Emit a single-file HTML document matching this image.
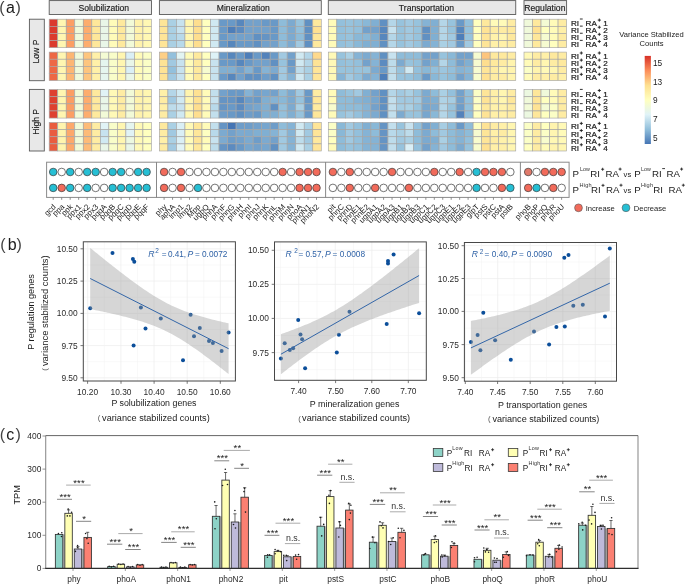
<!DOCTYPE html>
<html><head><meta charset="utf-8"><title>Figure</title>
<style>html,body{margin:0;padding:0;background:#fff;} body{width:685px;height:587px;overflow:hidden;font-family:"Liberation Sans", sans-serif;} svg{display:block;will-change:transform;}</style>
</head><body>
<svg width="685" height="587" viewBox="0 0 685 587" font-family='"Liberation Sans", sans-serif'><text x="-0.80" y="12.80" font-size="16" text-anchor="start" fill="#444" >(</text><text x="6.00" y="12.80" font-size="16" text-anchor="start" fill="#1a1a1a" >a</text><text x="15.40" y="12.80" font-size="16" text-anchor="start" fill="#444" >)</text>
<rect x="49.20" y="0.6" width="102.24" height="13.9" fill="#e8e8e8" stroke="#5a5a5a" stroke-width="0.9"/>
<text x="103.80" y="11.30" font-size="8.6" text-anchor="middle" fill="#1a1a1a" stroke="#1a1a1a" stroke-width="0.15">Solubilization</text>
<rect x="49.20" y="19.20" width="8.52" height="7.12" fill="#db3b2d" stroke="#a5a5a5" stroke-width="0.65"/>
<rect x="49.20" y="26.32" width="8.52" height="7.12" fill="#db3b2d" stroke="#a5a5a5" stroke-width="0.65"/>
<rect x="49.20" y="33.44" width="8.52" height="7.12" fill="#db3b2d" stroke="#a5a5a5" stroke-width="0.65"/>
<rect x="49.20" y="40.56" width="8.52" height="7.12" fill="#db3b2d" stroke="#a5a5a5" stroke-width="0.65"/>
<rect x="57.72" y="19.20" width="8.52" height="7.12" fill="#fff6b1" stroke="#a5a5a5" stroke-width="0.65"/>
<rect x="57.72" y="26.32" width="8.52" height="7.12" fill="#fff6b1" stroke="#a5a5a5" stroke-width="0.65"/>
<rect x="57.72" y="33.44" width="8.52" height="7.12" fill="#fff6b1" stroke="#a5a5a5" stroke-width="0.65"/>
<rect x="57.72" y="40.56" width="8.52" height="7.12" fill="#fff6b1" stroke="#a5a5a5" stroke-width="0.65"/>
<rect x="66.24" y="19.20" width="8.52" height="7.12" fill="#fc9e64" stroke="#a5a5a5" stroke-width="0.65"/>
<rect x="66.24" y="26.32" width="8.52" height="7.12" fill="#fc9e64" stroke="#a5a5a5" stroke-width="0.65"/>
<rect x="66.24" y="33.44" width="8.52" height="7.12" fill="#fc9e64" stroke="#a5a5a5" stroke-width="0.65"/>
<rect x="66.24" y="40.56" width="8.52" height="7.12" fill="#fc9e64" stroke="#a5a5a5" stroke-width="0.65"/>
<rect x="74.76" y="19.20" width="8.52" height="7.12" fill="#f0f9da" stroke="#a5a5a5" stroke-width="0.65"/>
<rect x="74.76" y="26.32" width="8.52" height="7.12" fill="#f0f9da" stroke="#a5a5a5" stroke-width="0.65"/>
<rect x="74.76" y="33.44" width="8.52" height="7.12" fill="#f0f9da" stroke="#a5a5a5" stroke-width="0.65"/>
<rect x="74.76" y="40.56" width="8.52" height="7.12" fill="#f0f9da" stroke="#a5a5a5" stroke-width="0.65"/>
<rect x="83.28" y="19.20" width="8.52" height="7.12" fill="#fdad6e" stroke="#a5a5a5" stroke-width="0.65"/>
<rect x="83.28" y="26.32" width="8.52" height="7.12" fill="#fdad6e" stroke="#a5a5a5" stroke-width="0.65"/>
<rect x="83.28" y="33.44" width="8.52" height="7.12" fill="#fdad6e" stroke="#a5a5a5" stroke-width="0.65"/>
<rect x="83.28" y="40.56" width="8.52" height="7.12" fill="#fdad6e" stroke="#a5a5a5" stroke-width="0.65"/>
<rect x="91.80" y="19.20" width="8.52" height="7.12" fill="#fee79a" stroke="#a5a5a5" stroke-width="0.65"/>
<rect x="91.80" y="26.32" width="8.52" height="7.12" fill="#fee79a" stroke="#a5a5a5" stroke-width="0.65"/>
<rect x="91.80" y="33.44" width="8.52" height="7.12" fill="#fee79a" stroke="#a5a5a5" stroke-width="0.65"/>
<rect x="91.80" y="40.56" width="8.52" height="7.12" fill="#fee79a" stroke="#a5a5a5" stroke-width="0.65"/>
<rect x="100.32" y="19.20" width="8.52" height="7.12" fill="#e9f6e8" stroke="#a5a5a5" stroke-width="0.65"/>
<rect x="100.32" y="26.32" width="8.52" height="7.12" fill="#e9f6e8" stroke="#a5a5a5" stroke-width="0.65"/>
<rect x="100.32" y="33.44" width="8.52" height="7.12" fill="#e9f6e8" stroke="#a5a5a5" stroke-width="0.65"/>
<rect x="100.32" y="40.56" width="8.52" height="7.12" fill="#e9f6e8" stroke="#a5a5a5" stroke-width="0.65"/>
<rect x="108.84" y="19.20" width="8.52" height="7.12" fill="#fffbb9" stroke="#a5a5a5" stroke-width="0.65"/>
<rect x="108.84" y="26.32" width="8.52" height="7.12" fill="#fffbb9" stroke="#a5a5a5" stroke-width="0.65"/>
<rect x="108.84" y="33.44" width="8.52" height="7.12" fill="#fffbb9" stroke="#a5a5a5" stroke-width="0.65"/>
<rect x="108.84" y="40.56" width="8.52" height="7.12" fill="#fffbb9" stroke="#a5a5a5" stroke-width="0.65"/>
<rect x="117.36" y="19.20" width="8.52" height="7.12" fill="#fee99d" stroke="#a5a5a5" stroke-width="0.65"/>
<rect x="117.36" y="26.32" width="8.52" height="7.12" fill="#fee99d" stroke="#a5a5a5" stroke-width="0.65"/>
<rect x="117.36" y="33.44" width="8.52" height="7.12" fill="#fee99d" stroke="#a5a5a5" stroke-width="0.65"/>
<rect x="117.36" y="40.56" width="8.52" height="7.12" fill="#fee99d" stroke="#a5a5a5" stroke-width="0.65"/>
<rect x="125.88" y="19.20" width="8.52" height="7.12" fill="#f2fad7" stroke="#a5a5a5" stroke-width="0.65"/>
<rect x="125.88" y="26.32" width="8.52" height="7.12" fill="#f2fad7" stroke="#a5a5a5" stroke-width="0.65"/>
<rect x="125.88" y="33.44" width="8.52" height="7.12" fill="#f2fad7" stroke="#a5a5a5" stroke-width="0.65"/>
<rect x="125.88" y="40.56" width="8.52" height="7.12" fill="#f2fad7" stroke="#a5a5a5" stroke-width="0.65"/>
<rect x="134.40" y="19.20" width="8.52" height="7.12" fill="#fff2ab" stroke="#a5a5a5" stroke-width="0.65"/>
<rect x="134.40" y="26.32" width="8.52" height="7.12" fill="#fff2ab" stroke="#a5a5a5" stroke-width="0.65"/>
<rect x="134.40" y="33.44" width="8.52" height="7.12" fill="#fff2ab" stroke="#a5a5a5" stroke-width="0.65"/>
<rect x="134.40" y="40.56" width="8.52" height="7.12" fill="#fff2ab" stroke="#a5a5a5" stroke-width="0.65"/>
<rect x="142.92" y="19.20" width="8.52" height="7.12" fill="#fff8b4" stroke="#a5a5a5" stroke-width="0.65"/>
<rect x="142.92" y="26.32" width="8.52" height="7.12" fill="#fff8b4" stroke="#a5a5a5" stroke-width="0.65"/>
<rect x="142.92" y="33.44" width="8.52" height="7.12" fill="#fff8b4" stroke="#a5a5a5" stroke-width="0.65"/>
<rect x="142.92" y="40.56" width="8.52" height="7.12" fill="#fff8b4" stroke="#a5a5a5" stroke-width="0.65"/>
<rect x="49.20" y="52.10" width="8.52" height="7.12" fill="#ed6845" stroke="#a5a5a5" stroke-width="0.65"/>
<rect x="49.20" y="59.22" width="8.52" height="7.12" fill="#ed6845" stroke="#a5a5a5" stroke-width="0.65"/>
<rect x="49.20" y="66.34" width="8.52" height="7.12" fill="#ed6845" stroke="#a5a5a5" stroke-width="0.65"/>
<rect x="49.20" y="73.46" width="8.52" height="7.12" fill="#ed6845" stroke="#a5a5a5" stroke-width="0.65"/>
<rect x="57.72" y="52.10" width="8.52" height="7.12" fill="#fff6b1" stroke="#a5a5a5" stroke-width="0.65"/>
<rect x="57.72" y="59.22" width="8.52" height="7.12" fill="#fff6b1" stroke="#a5a5a5" stroke-width="0.65"/>
<rect x="57.72" y="66.34" width="8.52" height="7.12" fill="#fff6b1" stroke="#a5a5a5" stroke-width="0.65"/>
<rect x="57.72" y="73.46" width="8.52" height="7.12" fill="#fff6b1" stroke="#a5a5a5" stroke-width="0.65"/>
<rect x="66.24" y="52.10" width="8.52" height="7.12" fill="#fdb674" stroke="#a5a5a5" stroke-width="0.65"/>
<rect x="66.24" y="59.22" width="8.52" height="7.12" fill="#fdb674" stroke="#a5a5a5" stroke-width="0.65"/>
<rect x="66.24" y="66.34" width="8.52" height="7.12" fill="#fdb674" stroke="#a5a5a5" stroke-width="0.65"/>
<rect x="66.24" y="73.46" width="8.52" height="7.12" fill="#fdb674" stroke="#a5a5a5" stroke-width="0.65"/>
<rect x="74.76" y="52.10" width="8.52" height="7.12" fill="#f0f9da" stroke="#a5a5a5" stroke-width="0.65"/>
<rect x="74.76" y="59.22" width="8.52" height="7.12" fill="#f0f9da" stroke="#a5a5a5" stroke-width="0.65"/>
<rect x="74.76" y="66.34" width="8.52" height="7.12" fill="#f0f9da" stroke="#a5a5a5" stroke-width="0.65"/>
<rect x="74.76" y="73.46" width="8.52" height="7.12" fill="#f0f9da" stroke="#a5a5a5" stroke-width="0.65"/>
<rect x="83.28" y="52.10" width="8.52" height="7.12" fill="#fdc57e" stroke="#a5a5a5" stroke-width="0.65"/>
<rect x="83.28" y="59.22" width="8.52" height="7.12" fill="#fdc57e" stroke="#a5a5a5" stroke-width="0.65"/>
<rect x="83.28" y="66.34" width="8.52" height="7.12" fill="#fdc57e" stroke="#a5a5a5" stroke-width="0.65"/>
<rect x="83.28" y="73.46" width="8.52" height="7.12" fill="#fdc57e" stroke="#a5a5a5" stroke-width="0.65"/>
<rect x="91.80" y="52.10" width="8.52" height="7.12" fill="#fff0a8" stroke="#a5a5a5" stroke-width="0.65"/>
<rect x="91.80" y="59.22" width="8.52" height="7.12" fill="#fff0a8" stroke="#a5a5a5" stroke-width="0.65"/>
<rect x="91.80" y="66.34" width="8.52" height="7.12" fill="#fff0a8" stroke="#a5a5a5" stroke-width="0.65"/>
<rect x="91.80" y="73.46" width="8.52" height="7.12" fill="#fff0a8" stroke="#a5a5a5" stroke-width="0.65"/>
<rect x="100.32" y="52.10" width="8.52" height="7.12" fill="#f4fbd4" stroke="#a5a5a5" stroke-width="0.65"/>
<rect x="100.32" y="59.22" width="8.52" height="7.12" fill="#e5f5ef" stroke="#a5a5a5" stroke-width="0.65"/>
<rect x="100.32" y="66.34" width="8.52" height="7.12" fill="#e5f5ef" stroke="#a5a5a5" stroke-width="0.65"/>
<rect x="100.32" y="73.46" width="8.52" height="7.12" fill="#e5f5ef" stroke="#a5a5a5" stroke-width="0.65"/>
<rect x="108.84" y="52.10" width="8.52" height="7.12" fill="#f9fdc9" stroke="#a5a5a5" stroke-width="0.65"/>
<rect x="108.84" y="59.22" width="8.52" height="7.12" fill="#f9fdc9" stroke="#a5a5a5" stroke-width="0.65"/>
<rect x="108.84" y="66.34" width="8.52" height="7.12" fill="#f9fdc9" stroke="#a5a5a5" stroke-width="0.65"/>
<rect x="108.84" y="73.46" width="8.52" height="7.12" fill="#f9fdc9" stroke="#a5a5a5" stroke-width="0.65"/>
<rect x="117.36" y="52.10" width="8.52" height="7.12" fill="#fff6b1" stroke="#a5a5a5" stroke-width="0.65"/>
<rect x="117.36" y="59.22" width="8.52" height="7.12" fill="#fff6b1" stroke="#a5a5a5" stroke-width="0.65"/>
<rect x="117.36" y="66.34" width="8.52" height="7.12" fill="#fff6b1" stroke="#a5a5a5" stroke-width="0.65"/>
<rect x="117.36" y="73.46" width="8.52" height="7.12" fill="#fff6b1" stroke="#a5a5a5" stroke-width="0.65"/>
<rect x="125.88" y="52.10" width="8.52" height="7.12" fill="#daeff6" stroke="#a5a5a5" stroke-width="0.65"/>
<rect x="125.88" y="59.22" width="8.52" height="7.12" fill="#e9f6e8" stroke="#a5a5a5" stroke-width="0.65"/>
<rect x="125.88" y="66.34" width="8.52" height="7.12" fill="#daeff6" stroke="#a5a5a5" stroke-width="0.65"/>
<rect x="125.88" y="73.46" width="8.52" height="7.12" fill="#e9f6e8" stroke="#a5a5a5" stroke-width="0.65"/>
<rect x="134.40" y="52.10" width="8.52" height="7.12" fill="#fffbb9" stroke="#a5a5a5" stroke-width="0.65"/>
<rect x="134.40" y="59.22" width="8.52" height="7.12" fill="#fffbb9" stroke="#a5a5a5" stroke-width="0.65"/>
<rect x="134.40" y="66.34" width="8.52" height="7.12" fill="#fffbb9" stroke="#a5a5a5" stroke-width="0.65"/>
<rect x="134.40" y="73.46" width="8.52" height="7.12" fill="#fffbb9" stroke="#a5a5a5" stroke-width="0.65"/>
<rect x="142.92" y="52.10" width="8.52" height="7.12" fill="#fbfec6" stroke="#a5a5a5" stroke-width="0.65"/>
<rect x="142.92" y="59.22" width="8.52" height="7.12" fill="#fbfec6" stroke="#a5a5a5" stroke-width="0.65"/>
<rect x="142.92" y="66.34" width="8.52" height="7.12" fill="#fbfec6" stroke="#a5a5a5" stroke-width="0.65"/>
<rect x="142.92" y="73.46" width="8.52" height="7.12" fill="#fbfec6" stroke="#a5a5a5" stroke-width="0.65"/>
<rect x="49.20" y="89.60" width="8.52" height="7.12" fill="#de4130" stroke="#a5a5a5" stroke-width="0.65"/>
<rect x="49.20" y="96.72" width="8.52" height="7.12" fill="#de4130" stroke="#a5a5a5" stroke-width="0.65"/>
<rect x="49.20" y="103.84" width="8.52" height="7.12" fill="#de4130" stroke="#a5a5a5" stroke-width="0.65"/>
<rect x="49.20" y="110.96" width="8.52" height="7.12" fill="#de4130" stroke="#a5a5a5" stroke-width="0.65"/>
<rect x="57.72" y="89.60" width="8.52" height="7.12" fill="#fff6b1" stroke="#a5a5a5" stroke-width="0.65"/>
<rect x="57.72" y="96.72" width="8.52" height="7.12" fill="#fff6b1" stroke="#a5a5a5" stroke-width="0.65"/>
<rect x="57.72" y="103.84" width="8.52" height="7.12" fill="#fff6b1" stroke="#a5a5a5" stroke-width="0.65"/>
<rect x="57.72" y="110.96" width="8.52" height="7.12" fill="#fff6b1" stroke="#a5a5a5" stroke-width="0.65"/>
<rect x="66.24" y="89.60" width="8.52" height="7.12" fill="#fc9e64" stroke="#a5a5a5" stroke-width="0.65"/>
<rect x="66.24" y="96.72" width="8.52" height="7.12" fill="#fc9e64" stroke="#a5a5a5" stroke-width="0.65"/>
<rect x="66.24" y="103.84" width="8.52" height="7.12" fill="#fc9e64" stroke="#a5a5a5" stroke-width="0.65"/>
<rect x="66.24" y="110.96" width="8.52" height="7.12" fill="#fc9e64" stroke="#a5a5a5" stroke-width="0.65"/>
<rect x="74.76" y="89.60" width="8.52" height="7.12" fill="#f2fad7" stroke="#a5a5a5" stroke-width="0.65"/>
<rect x="74.76" y="96.72" width="8.52" height="7.12" fill="#f2fad7" stroke="#a5a5a5" stroke-width="0.65"/>
<rect x="74.76" y="103.84" width="8.52" height="7.12" fill="#f2fad7" stroke="#a5a5a5" stroke-width="0.65"/>
<rect x="74.76" y="110.96" width="8.52" height="7.12" fill="#f2fad7" stroke="#a5a5a5" stroke-width="0.65"/>
<rect x="83.28" y="89.60" width="8.52" height="7.12" fill="#fdad6e" stroke="#a5a5a5" stroke-width="0.65"/>
<rect x="83.28" y="96.72" width="8.52" height="7.12" fill="#fdad6e" stroke="#a5a5a5" stroke-width="0.65"/>
<rect x="83.28" y="103.84" width="8.52" height="7.12" fill="#fdad6e" stroke="#a5a5a5" stroke-width="0.65"/>
<rect x="83.28" y="110.96" width="8.52" height="7.12" fill="#fdad6e" stroke="#a5a5a5" stroke-width="0.65"/>
<rect x="91.80" y="89.60" width="8.52" height="7.12" fill="#fee99d" stroke="#a5a5a5" stroke-width="0.65"/>
<rect x="91.80" y="96.72" width="8.52" height="7.12" fill="#fee99d" stroke="#a5a5a5" stroke-width="0.65"/>
<rect x="91.80" y="103.84" width="8.52" height="7.12" fill="#fee99d" stroke="#a5a5a5" stroke-width="0.65"/>
<rect x="91.80" y="110.96" width="8.52" height="7.12" fill="#fee99d" stroke="#a5a5a5" stroke-width="0.65"/>
<rect x="100.32" y="89.60" width="8.52" height="7.12" fill="#e1f3f6" stroke="#a5a5a5" stroke-width="0.65"/>
<rect x="100.32" y="96.72" width="8.52" height="7.12" fill="#e9f6e8" stroke="#a5a5a5" stroke-width="0.65"/>
<rect x="100.32" y="103.84" width="8.52" height="7.12" fill="#e9f6e8" stroke="#a5a5a5" stroke-width="0.65"/>
<rect x="100.32" y="110.96" width="8.52" height="7.12" fill="#f2fad7" stroke="#a5a5a5" stroke-width="0.65"/>
<rect x="108.84" y="89.60" width="8.52" height="7.12" fill="#fff9b7" stroke="#a5a5a5" stroke-width="0.65"/>
<rect x="108.84" y="96.72" width="8.52" height="7.12" fill="#fff9b7" stroke="#a5a5a5" stroke-width="0.65"/>
<rect x="108.84" y="103.84" width="8.52" height="7.12" fill="#fff9b7" stroke="#a5a5a5" stroke-width="0.65"/>
<rect x="108.84" y="110.96" width="8.52" height="7.12" fill="#fff9b7" stroke="#a5a5a5" stroke-width="0.65"/>
<rect x="117.36" y="89.60" width="8.52" height="7.12" fill="#feeca3" stroke="#a5a5a5" stroke-width="0.65"/>
<rect x="117.36" y="96.72" width="8.52" height="7.12" fill="#feeca3" stroke="#a5a5a5" stroke-width="0.65"/>
<rect x="117.36" y="103.84" width="8.52" height="7.12" fill="#feeca3" stroke="#a5a5a5" stroke-width="0.65"/>
<rect x="117.36" y="110.96" width="8.52" height="7.12" fill="#feeca3" stroke="#a5a5a5" stroke-width="0.65"/>
<rect x="125.88" y="89.60" width="8.52" height="7.12" fill="#f2fad7" stroke="#a5a5a5" stroke-width="0.65"/>
<rect x="125.88" y="96.72" width="8.52" height="7.12" fill="#f2fad7" stroke="#a5a5a5" stroke-width="0.65"/>
<rect x="125.88" y="103.84" width="8.52" height="7.12" fill="#f2fad7" stroke="#a5a5a5" stroke-width="0.65"/>
<rect x="125.88" y="110.96" width="8.52" height="7.12" fill="#f2fad7" stroke="#a5a5a5" stroke-width="0.65"/>
<rect x="134.40" y="89.60" width="8.52" height="7.12" fill="#fff2ab" stroke="#a5a5a5" stroke-width="0.65"/>
<rect x="134.40" y="96.72" width="8.52" height="7.12" fill="#fff2ab" stroke="#a5a5a5" stroke-width="0.65"/>
<rect x="134.40" y="103.84" width="8.52" height="7.12" fill="#fff2ab" stroke="#a5a5a5" stroke-width="0.65"/>
<rect x="134.40" y="110.96" width="8.52" height="7.12" fill="#fff2ab" stroke="#a5a5a5" stroke-width="0.65"/>
<rect x="142.92" y="89.60" width="8.52" height="7.12" fill="#fff6b1" stroke="#a5a5a5" stroke-width="0.65"/>
<rect x="142.92" y="96.72" width="8.52" height="7.12" fill="#fff6b1" stroke="#a5a5a5" stroke-width="0.65"/>
<rect x="142.92" y="103.84" width="8.52" height="7.12" fill="#fff6b1" stroke="#a5a5a5" stroke-width="0.65"/>
<rect x="142.92" y="110.96" width="8.52" height="7.12" fill="#fff6b1" stroke="#a5a5a5" stroke-width="0.65"/>
<rect x="49.20" y="122.50" width="8.52" height="7.12" fill="#e95d3f" stroke="#a5a5a5" stroke-width="0.65"/>
<rect x="49.20" y="129.62" width="8.52" height="7.12" fill="#e95d3f" stroke="#a5a5a5" stroke-width="0.65"/>
<rect x="49.20" y="136.74" width="8.52" height="7.12" fill="#e95d3f" stroke="#a5a5a5" stroke-width="0.65"/>
<rect x="49.20" y="143.86" width="8.52" height="7.12" fill="#e95d3f" stroke="#a5a5a5" stroke-width="0.65"/>
<rect x="57.72" y="122.50" width="8.52" height="7.12" fill="#fff4ae" stroke="#a5a5a5" stroke-width="0.65"/>
<rect x="57.72" y="129.62" width="8.52" height="7.12" fill="#fff4ae" stroke="#a5a5a5" stroke-width="0.65"/>
<rect x="57.72" y="136.74" width="8.52" height="7.12" fill="#fff4ae" stroke="#a5a5a5" stroke-width="0.65"/>
<rect x="57.72" y="143.86" width="8.52" height="7.12" fill="#fff4ae" stroke="#a5a5a5" stroke-width="0.65"/>
<rect x="66.24" y="122.50" width="8.52" height="7.12" fill="#fda86b" stroke="#a5a5a5" stroke-width="0.65"/>
<rect x="66.24" y="129.62" width="8.52" height="7.12" fill="#fda86b" stroke="#a5a5a5" stroke-width="0.65"/>
<rect x="66.24" y="136.74" width="8.52" height="7.12" fill="#fda86b" stroke="#a5a5a5" stroke-width="0.65"/>
<rect x="66.24" y="143.86" width="8.52" height="7.12" fill="#fda86b" stroke="#a5a5a5" stroke-width="0.65"/>
<rect x="74.76" y="122.50" width="8.52" height="7.12" fill="#f2fad7" stroke="#a5a5a5" stroke-width="0.65"/>
<rect x="74.76" y="129.62" width="8.52" height="7.12" fill="#f2fad7" stroke="#a5a5a5" stroke-width="0.65"/>
<rect x="74.76" y="136.74" width="8.52" height="7.12" fill="#f2fad7" stroke="#a5a5a5" stroke-width="0.65"/>
<rect x="74.76" y="143.86" width="8.52" height="7.12" fill="#f2fad7" stroke="#a5a5a5" stroke-width="0.65"/>
<rect x="83.28" y="122.50" width="8.52" height="7.12" fill="#fdbb78" stroke="#a5a5a5" stroke-width="0.65"/>
<rect x="83.28" y="129.62" width="8.52" height="7.12" fill="#fdbb78" stroke="#a5a5a5" stroke-width="0.65"/>
<rect x="83.28" y="136.74" width="8.52" height="7.12" fill="#fdbb78" stroke="#a5a5a5" stroke-width="0.65"/>
<rect x="83.28" y="143.86" width="8.52" height="7.12" fill="#fdbb78" stroke="#a5a5a5" stroke-width="0.65"/>
<rect x="91.80" y="122.50" width="8.52" height="7.12" fill="#feeca3" stroke="#a5a5a5" stroke-width="0.65"/>
<rect x="91.80" y="129.62" width="8.52" height="7.12" fill="#feeca3" stroke="#a5a5a5" stroke-width="0.65"/>
<rect x="91.80" y="136.74" width="8.52" height="7.12" fill="#feeca3" stroke="#a5a5a5" stroke-width="0.65"/>
<rect x="91.80" y="143.86" width="8.52" height="7.12" fill="#feeca3" stroke="#a5a5a5" stroke-width="0.65"/>
<rect x="100.32" y="122.50" width="8.52" height="7.12" fill="#e1f3f6" stroke="#a5a5a5" stroke-width="0.65"/>
<rect x="100.32" y="129.62" width="8.52" height="7.12" fill="#c7e2ef" stroke="#a5a5a5" stroke-width="0.65"/>
<rect x="100.32" y="136.74" width="8.52" height="7.12" fill="#d0e9f2" stroke="#a5a5a5" stroke-width="0.65"/>
<rect x="100.32" y="143.86" width="8.52" height="7.12" fill="#e9f6e8" stroke="#a5a5a5" stroke-width="0.65"/>
<rect x="108.84" y="122.50" width="8.52" height="7.12" fill="#f9fdc9" stroke="#a5a5a5" stroke-width="0.65"/>
<rect x="108.84" y="129.62" width="8.52" height="7.12" fill="#f9fdc9" stroke="#a5a5a5" stroke-width="0.65"/>
<rect x="108.84" y="136.74" width="8.52" height="7.12" fill="#f9fdc9" stroke="#a5a5a5" stroke-width="0.65"/>
<rect x="108.84" y="143.86" width="8.52" height="7.12" fill="#f9fdc9" stroke="#a5a5a5" stroke-width="0.65"/>
<rect x="117.36" y="122.50" width="8.52" height="7.12" fill="#fff6b1" stroke="#a5a5a5" stroke-width="0.65"/>
<rect x="117.36" y="129.62" width="8.52" height="7.12" fill="#fff6b1" stroke="#a5a5a5" stroke-width="0.65"/>
<rect x="117.36" y="136.74" width="8.52" height="7.12" fill="#fff6b1" stroke="#a5a5a5" stroke-width="0.65"/>
<rect x="117.36" y="143.86" width="8.52" height="7.12" fill="#fff6b1" stroke="#a5a5a5" stroke-width="0.65"/>
<rect x="125.88" y="122.50" width="8.52" height="7.12" fill="#e5f5ef" stroke="#a5a5a5" stroke-width="0.65"/>
<rect x="125.88" y="129.62" width="8.52" height="7.12" fill="#e1f3f6" stroke="#a5a5a5" stroke-width="0.65"/>
<rect x="125.88" y="136.74" width="8.52" height="7.12" fill="#ecf8e1" stroke="#a5a5a5" stroke-width="0.65"/>
<rect x="125.88" y="143.86" width="8.52" height="7.12" fill="#e9f6e8" stroke="#a5a5a5" stroke-width="0.65"/>
<rect x="134.40" y="122.50" width="8.52" height="7.12" fill="#fff9b7" stroke="#a5a5a5" stroke-width="0.65"/>
<rect x="134.40" y="129.62" width="8.52" height="7.12" fill="#fff9b7" stroke="#a5a5a5" stroke-width="0.65"/>
<rect x="134.40" y="136.74" width="8.52" height="7.12" fill="#fff9b7" stroke="#a5a5a5" stroke-width="0.65"/>
<rect x="134.40" y="143.86" width="8.52" height="7.12" fill="#fff9b7" stroke="#a5a5a5" stroke-width="0.65"/>
<rect x="142.92" y="122.50" width="8.52" height="7.12" fill="#ffffbf" stroke="#a5a5a5" stroke-width="0.65"/>
<rect x="142.92" y="129.62" width="8.52" height="7.12" fill="#ffffbf" stroke="#a5a5a5" stroke-width="0.65"/>
<rect x="142.92" y="136.74" width="8.52" height="7.12" fill="#ffffbf" stroke="#a5a5a5" stroke-width="0.65"/>
<rect x="142.92" y="143.86" width="8.52" height="7.12" fill="#ffffbf" stroke="#a5a5a5" stroke-width="0.65"/>
<rect x="159.40" y="0.6" width="161.88" height="13.9" fill="#e8e8e8" stroke="#5a5a5a" stroke-width="0.9"/>
<text x="243.30" y="11.30" font-size="8.6" text-anchor="middle" fill="#1a1a1a" stroke="#1a1a1a" stroke-width="0.15">Mineralization</text>
<rect x="159.40" y="19.20" width="8.52" height="7.12" fill="#fee598" stroke="#a5a5a5" stroke-width="0.65"/>
<rect x="159.40" y="26.32" width="8.52" height="7.12" fill="#fee598" stroke="#a5a5a5" stroke-width="0.65"/>
<rect x="159.40" y="33.44" width="8.52" height="7.12" fill="#fee598" stroke="#a5a5a5" stroke-width="0.65"/>
<rect x="159.40" y="40.56" width="8.52" height="7.12" fill="#fee598" stroke="#a5a5a5" stroke-width="0.65"/>
<rect x="167.92" y="19.20" width="8.52" height="7.12" fill="#aad0e4" stroke="#a5a5a5" stroke-width="0.65"/>
<rect x="167.92" y="26.32" width="8.52" height="7.12" fill="#aad0e4" stroke="#a5a5a5" stroke-width="0.65"/>
<rect x="167.92" y="33.44" width="8.52" height="7.12" fill="#aad0e4" stroke="#a5a5a5" stroke-width="0.65"/>
<rect x="167.92" y="40.56" width="8.52" height="7.12" fill="#aad0e4" stroke="#a5a5a5" stroke-width="0.65"/>
<rect x="176.44" y="19.20" width="8.52" height="7.12" fill="#c7e2ef" stroke="#a5a5a5" stroke-width="0.65"/>
<rect x="176.44" y="26.32" width="8.52" height="7.12" fill="#c7e2ef" stroke="#a5a5a5" stroke-width="0.65"/>
<rect x="176.44" y="33.44" width="8.52" height="7.12" fill="#b8d9ea" stroke="#a5a5a5" stroke-width="0.65"/>
<rect x="176.44" y="40.56" width="8.52" height="7.12" fill="#b8d9ea" stroke="#a5a5a5" stroke-width="0.65"/>
<rect x="184.96" y="19.20" width="8.52" height="7.12" fill="#fff6b1" stroke="#a5a5a5" stroke-width="0.65"/>
<rect x="184.96" y="26.32" width="8.52" height="7.12" fill="#fff6b1" stroke="#a5a5a5" stroke-width="0.65"/>
<rect x="184.96" y="33.44" width="8.52" height="7.12" fill="#fff6b1" stroke="#a5a5a5" stroke-width="0.65"/>
<rect x="184.96" y="40.56" width="8.52" height="7.12" fill="#fff6b1" stroke="#a5a5a5" stroke-width="0.65"/>
<rect x="193.48" y="19.20" width="8.52" height="7.12" fill="#fede8f" stroke="#a5a5a5" stroke-width="0.65"/>
<rect x="193.48" y="26.32" width="8.52" height="7.12" fill="#fede8f" stroke="#a5a5a5" stroke-width="0.65"/>
<rect x="193.48" y="33.44" width="8.52" height="7.12" fill="#fede8f" stroke="#a5a5a5" stroke-width="0.65"/>
<rect x="193.48" y="40.56" width="8.52" height="7.12" fill="#fede8f" stroke="#a5a5a5" stroke-width="0.65"/>
<rect x="202.00" y="19.20" width="8.52" height="7.12" fill="#ffffbf" stroke="#a5a5a5" stroke-width="0.65"/>
<rect x="202.00" y="26.32" width="8.52" height="7.12" fill="#ffffbf" stroke="#a5a5a5" stroke-width="0.65"/>
<rect x="202.00" y="33.44" width="8.52" height="7.12" fill="#ffffbf" stroke="#a5a5a5" stroke-width="0.65"/>
<rect x="202.00" y="40.56" width="8.52" height="7.12" fill="#ffffbf" stroke="#a5a5a5" stroke-width="0.65"/>
<rect x="210.52" y="19.20" width="8.52" height="7.12" fill="#d0e9f2" stroke="#a5a5a5" stroke-width="0.65"/>
<rect x="210.52" y="26.32" width="8.52" height="7.12" fill="#d0e9f2" stroke="#a5a5a5" stroke-width="0.65"/>
<rect x="210.52" y="33.44" width="8.52" height="7.12" fill="#d0e9f2" stroke="#a5a5a5" stroke-width="0.65"/>
<rect x="210.52" y="40.56" width="8.52" height="7.12" fill="#d0e9f2" stroke="#a5a5a5" stroke-width="0.65"/>
<rect x="219.04" y="19.20" width="8.52" height="7.12" fill="#6999c7" stroke="#a5a5a5" stroke-width="0.65"/>
<rect x="219.04" y="26.32" width="8.52" height="7.12" fill="#6999c7" stroke="#a5a5a5" stroke-width="0.65"/>
<rect x="219.04" y="33.44" width="8.52" height="7.12" fill="#6999c7" stroke="#a5a5a5" stroke-width="0.65"/>
<rect x="219.04" y="40.56" width="8.52" height="7.12" fill="#6999c7" stroke="#a5a5a5" stroke-width="0.65"/>
<rect x="227.56" y="19.20" width="8.52" height="7.12" fill="#6999c7" stroke="#a5a5a5" stroke-width="0.65"/>
<rect x="227.56" y="26.32" width="8.52" height="7.12" fill="#4e7eb9" stroke="#a5a5a5" stroke-width="0.65"/>
<rect x="227.56" y="33.44" width="8.52" height="7.12" fill="#73a1cb" stroke="#a5a5a5" stroke-width="0.65"/>
<rect x="227.56" y="40.56" width="8.52" height="7.12" fill="#5787bd" stroke="#a5a5a5" stroke-width="0.65"/>
<rect x="236.08" y="19.20" width="8.52" height="7.12" fill="#5787bd" stroke="#a5a5a5" stroke-width="0.65"/>
<rect x="236.08" y="26.32" width="8.52" height="7.12" fill="#5c8bc0" stroke="#a5a5a5" stroke-width="0.65"/>
<rect x="236.08" y="33.44" width="8.52" height="7.12" fill="#73a1cb" stroke="#a5a5a5" stroke-width="0.65"/>
<rect x="236.08" y="40.56" width="8.52" height="7.12" fill="#6999c7" stroke="#a5a5a5" stroke-width="0.65"/>
<rect x="244.60" y="19.20" width="8.52" height="7.12" fill="#73a1cb" stroke="#a5a5a5" stroke-width="0.65"/>
<rect x="244.60" y="26.32" width="8.52" height="7.12" fill="#73a1cb" stroke="#a5a5a5" stroke-width="0.65"/>
<rect x="244.60" y="33.44" width="8.52" height="7.12" fill="#73a1cb" stroke="#a5a5a5" stroke-width="0.65"/>
<rect x="244.60" y="40.56" width="8.52" height="7.12" fill="#6999c7" stroke="#a5a5a5" stroke-width="0.65"/>
<rect x="253.12" y="19.20" width="8.52" height="7.12" fill="#73a1cb" stroke="#a5a5a5" stroke-width="0.65"/>
<rect x="253.12" y="26.32" width="8.52" height="7.12" fill="#73a1cb" stroke="#a5a5a5" stroke-width="0.65"/>
<rect x="253.12" y="33.44" width="8.52" height="7.12" fill="#6090c2" stroke="#a5a5a5" stroke-width="0.65"/>
<rect x="253.12" y="40.56" width="8.52" height="7.12" fill="#6090c2" stroke="#a5a5a5" stroke-width="0.65"/>
<rect x="261.64" y="19.20" width="8.52" height="7.12" fill="#6999c7" stroke="#a5a5a5" stroke-width="0.65"/>
<rect x="261.64" y="26.32" width="8.52" height="7.12" fill="#73a1cb" stroke="#a5a5a5" stroke-width="0.65"/>
<rect x="261.64" y="33.44" width="8.52" height="7.12" fill="#6594c4" stroke="#a5a5a5" stroke-width="0.65"/>
<rect x="261.64" y="40.56" width="8.52" height="7.12" fill="#73a1cb" stroke="#a5a5a5" stroke-width="0.65"/>
<rect x="270.16" y="19.20" width="8.52" height="7.12" fill="#6999c7" stroke="#a5a5a5" stroke-width="0.65"/>
<rect x="270.16" y="26.32" width="8.52" height="7.12" fill="#6999c7" stroke="#a5a5a5" stroke-width="0.65"/>
<rect x="270.16" y="33.44" width="8.52" height="7.12" fill="#6999c7" stroke="#a5a5a5" stroke-width="0.65"/>
<rect x="270.16" y="40.56" width="8.52" height="7.12" fill="#73a1cb" stroke="#a5a5a5" stroke-width="0.65"/>
<rect x="278.68" y="19.20" width="8.52" height="7.12" fill="#8ebcd9" stroke="#a5a5a5" stroke-width="0.65"/>
<rect x="278.68" y="26.32" width="8.52" height="7.12" fill="#8ebcd9" stroke="#a5a5a5" stroke-width="0.65"/>
<rect x="278.68" y="33.44" width="8.52" height="7.12" fill="#8ebcd9" stroke="#a5a5a5" stroke-width="0.65"/>
<rect x="278.68" y="40.56" width="8.52" height="7.12" fill="#8ebcd9" stroke="#a5a5a5" stroke-width="0.65"/>
<rect x="287.20" y="19.20" width="8.52" height="7.12" fill="#7caad0" stroke="#a5a5a5" stroke-width="0.65"/>
<rect x="287.20" y="26.32" width="8.52" height="7.12" fill="#7caad0" stroke="#a5a5a5" stroke-width="0.65"/>
<rect x="287.20" y="33.44" width="8.52" height="7.12" fill="#7caad0" stroke="#a5a5a5" stroke-width="0.65"/>
<rect x="287.20" y="40.56" width="8.52" height="7.12" fill="#7caad0" stroke="#a5a5a5" stroke-width="0.65"/>
<rect x="295.72" y="19.20" width="8.52" height="7.12" fill="#97c3dd" stroke="#a5a5a5" stroke-width="0.65"/>
<rect x="295.72" y="26.32" width="8.52" height="7.12" fill="#93c0dc" stroke="#a5a5a5" stroke-width="0.65"/>
<rect x="295.72" y="33.44" width="8.52" height="7.12" fill="#8ebcd9" stroke="#a5a5a5" stroke-width="0.65"/>
<rect x="295.72" y="40.56" width="8.52" height="7.12" fill="#a1c9e1" stroke="#a5a5a5" stroke-width="0.65"/>
<rect x="304.24" y="19.20" width="8.52" height="7.12" fill="#6090c2" stroke="#a5a5a5" stroke-width="0.65"/>
<rect x="304.24" y="26.32" width="8.52" height="7.12" fill="#6090c2" stroke="#a5a5a5" stroke-width="0.65"/>
<rect x="304.24" y="33.44" width="8.52" height="7.12" fill="#6090c2" stroke="#a5a5a5" stroke-width="0.65"/>
<rect x="304.24" y="40.56" width="8.52" height="7.12" fill="#6090c2" stroke="#a5a5a5" stroke-width="0.65"/>
<rect x="312.76" y="19.20" width="8.52" height="7.12" fill="#fee99d" stroke="#a5a5a5" stroke-width="0.65"/>
<rect x="312.76" y="26.32" width="8.52" height="7.12" fill="#fee192" stroke="#a5a5a5" stroke-width="0.65"/>
<rect x="312.76" y="33.44" width="8.52" height="7.12" fill="#fee79a" stroke="#a5a5a5" stroke-width="0.65"/>
<rect x="312.76" y="40.56" width="8.52" height="7.12" fill="#fee99d" stroke="#a5a5a5" stroke-width="0.65"/>
<rect x="159.40" y="52.10" width="8.52" height="7.12" fill="#fecf85" stroke="#a5a5a5" stroke-width="0.65"/>
<rect x="159.40" y="59.22" width="8.52" height="7.12" fill="#fee395" stroke="#a5a5a5" stroke-width="0.65"/>
<rect x="159.40" y="66.34" width="8.52" height="7.12" fill="#fee395" stroke="#a5a5a5" stroke-width="0.65"/>
<rect x="159.40" y="73.46" width="8.52" height="7.12" fill="#fee395" stroke="#a5a5a5" stroke-width="0.65"/>
<rect x="167.92" y="52.10" width="8.52" height="7.12" fill="#93c0dc" stroke="#a5a5a5" stroke-width="0.65"/>
<rect x="167.92" y="59.22" width="8.52" height="7.12" fill="#a1c9e1" stroke="#a5a5a5" stroke-width="0.65"/>
<rect x="167.92" y="66.34" width="8.52" height="7.12" fill="#93c0dc" stroke="#a5a5a5" stroke-width="0.65"/>
<rect x="167.92" y="73.46" width="8.52" height="7.12" fill="#a1c9e1" stroke="#a5a5a5" stroke-width="0.65"/>
<rect x="176.44" y="52.10" width="8.52" height="7.12" fill="#e3f4f2" stroke="#a5a5a5" stroke-width="0.65"/>
<rect x="176.44" y="59.22" width="8.52" height="7.12" fill="#c7e2ef" stroke="#a5a5a5" stroke-width="0.65"/>
<rect x="176.44" y="66.34" width="8.52" height="7.12" fill="#c7e2ef" stroke="#a5a5a5" stroke-width="0.65"/>
<rect x="176.44" y="73.46" width="8.52" height="7.12" fill="#c7e2ef" stroke="#a5a5a5" stroke-width="0.65"/>
<rect x="184.96" y="52.10" width="8.52" height="7.12" fill="#fffbb9" stroke="#a5a5a5" stroke-width="0.65"/>
<rect x="184.96" y="59.22" width="8.52" height="7.12" fill="#fffbb9" stroke="#a5a5a5" stroke-width="0.65"/>
<rect x="184.96" y="66.34" width="8.52" height="7.12" fill="#fffbb9" stroke="#a5a5a5" stroke-width="0.65"/>
<rect x="184.96" y="73.46" width="8.52" height="7.12" fill="#fffbb9" stroke="#a5a5a5" stroke-width="0.65"/>
<rect x="193.48" y="52.10" width="8.52" height="7.12" fill="#fee99d" stroke="#a5a5a5" stroke-width="0.65"/>
<rect x="193.48" y="59.22" width="8.52" height="7.12" fill="#fee99d" stroke="#a5a5a5" stroke-width="0.65"/>
<rect x="193.48" y="66.34" width="8.52" height="7.12" fill="#fee99d" stroke="#a5a5a5" stroke-width="0.65"/>
<rect x="193.48" y="73.46" width="8.52" height="7.12" fill="#fee99d" stroke="#a5a5a5" stroke-width="0.65"/>
<rect x="202.00" y="52.10" width="8.52" height="7.12" fill="#ffffbf" stroke="#a5a5a5" stroke-width="0.65"/>
<rect x="202.00" y="59.22" width="8.52" height="7.12" fill="#ffffbf" stroke="#a5a5a5" stroke-width="0.65"/>
<rect x="202.00" y="66.34" width="8.52" height="7.12" fill="#f6fbd0" stroke="#a5a5a5" stroke-width="0.65"/>
<rect x="202.00" y="73.46" width="8.52" height="7.12" fill="#ffffbf" stroke="#a5a5a5" stroke-width="0.65"/>
<rect x="210.52" y="52.10" width="8.52" height="7.12" fill="#def2f7" stroke="#a5a5a5" stroke-width="0.65"/>
<rect x="210.52" y="59.22" width="8.52" height="7.12" fill="#c7e2ef" stroke="#a5a5a5" stroke-width="0.65"/>
<rect x="210.52" y="66.34" width="8.52" height="7.12" fill="#c7e2ef" stroke="#a5a5a5" stroke-width="0.65"/>
<rect x="210.52" y="73.46" width="8.52" height="7.12" fill="#c7e2ef" stroke="#a5a5a5" stroke-width="0.65"/>
<rect x="219.04" y="52.10" width="8.52" height="7.12" fill="#6999c7" stroke="#a5a5a5" stroke-width="0.65"/>
<rect x="219.04" y="59.22" width="8.52" height="7.12" fill="#6999c7" stroke="#a5a5a5" stroke-width="0.65"/>
<rect x="219.04" y="66.34" width="8.52" height="7.12" fill="#80afd2" stroke="#a5a5a5" stroke-width="0.65"/>
<rect x="219.04" y="73.46" width="8.52" height="7.12" fill="#6999c7" stroke="#a5a5a5" stroke-width="0.65"/>
<rect x="227.56" y="52.10" width="8.52" height="7.12" fill="#5787bd" stroke="#a5a5a5" stroke-width="0.65"/>
<rect x="227.56" y="59.22" width="8.52" height="7.12" fill="#6999c7" stroke="#a5a5a5" stroke-width="0.65"/>
<rect x="227.56" y="66.34" width="8.52" height="7.12" fill="#80afd2" stroke="#a5a5a5" stroke-width="0.65"/>
<rect x="227.56" y="73.46" width="8.52" height="7.12" fill="#5787bd" stroke="#a5a5a5" stroke-width="0.65"/>
<rect x="236.08" y="52.10" width="8.52" height="7.12" fill="#6999c7" stroke="#a5a5a5" stroke-width="0.65"/>
<rect x="236.08" y="59.22" width="8.52" height="7.12" fill="#5787bd" stroke="#a5a5a5" stroke-width="0.65"/>
<rect x="236.08" y="66.34" width="8.52" height="7.12" fill="#73a1cb" stroke="#a5a5a5" stroke-width="0.65"/>
<rect x="236.08" y="73.46" width="8.52" height="7.12" fill="#73a1cb" stroke="#a5a5a5" stroke-width="0.65"/>
<rect x="244.60" y="52.10" width="8.52" height="7.12" fill="#4e7eb9" stroke="#a5a5a5" stroke-width="0.65"/>
<rect x="244.60" y="59.22" width="8.52" height="7.12" fill="#6999c7" stroke="#a5a5a5" stroke-width="0.65"/>
<rect x="244.60" y="66.34" width="8.52" height="7.12" fill="#85b3d5" stroke="#a5a5a5" stroke-width="0.65"/>
<rect x="244.60" y="73.46" width="8.52" height="7.12" fill="#6090c2" stroke="#a5a5a5" stroke-width="0.65"/>
<rect x="253.12" y="52.10" width="8.52" height="7.12" fill="#6999c7" stroke="#a5a5a5" stroke-width="0.65"/>
<rect x="253.12" y="59.22" width="8.52" height="7.12" fill="#73a1cb" stroke="#a5a5a5" stroke-width="0.65"/>
<rect x="253.12" y="66.34" width="8.52" height="7.12" fill="#6999c7" stroke="#a5a5a5" stroke-width="0.65"/>
<rect x="253.12" y="73.46" width="8.52" height="7.12" fill="#6090c2" stroke="#a5a5a5" stroke-width="0.65"/>
<rect x="261.64" y="52.10" width="8.52" height="7.12" fill="#5382bb" stroke="#a5a5a5" stroke-width="0.65"/>
<rect x="261.64" y="59.22" width="8.52" height="7.12" fill="#73a1cb" stroke="#a5a5a5" stroke-width="0.65"/>
<rect x="261.64" y="66.34" width="8.52" height="7.12" fill="#85b3d5" stroke="#a5a5a5" stroke-width="0.65"/>
<rect x="261.64" y="73.46" width="8.52" height="7.12" fill="#6e9dc9" stroke="#a5a5a5" stroke-width="0.65"/>
<rect x="270.16" y="52.10" width="8.52" height="7.12" fill="#6999c7" stroke="#a5a5a5" stroke-width="0.65"/>
<rect x="270.16" y="59.22" width="8.52" height="7.12" fill="#6090c2" stroke="#a5a5a5" stroke-width="0.65"/>
<rect x="270.16" y="66.34" width="8.52" height="7.12" fill="#7caad0" stroke="#a5a5a5" stroke-width="0.65"/>
<rect x="270.16" y="73.46" width="8.52" height="7.12" fill="#6090c2" stroke="#a5a5a5" stroke-width="0.65"/>
<rect x="278.68" y="52.10" width="8.52" height="7.12" fill="#a1c9e1" stroke="#a5a5a5" stroke-width="0.65"/>
<rect x="278.68" y="59.22" width="8.52" height="7.12" fill="#97c3dd" stroke="#a5a5a5" stroke-width="0.65"/>
<rect x="278.68" y="66.34" width="8.52" height="7.12" fill="#a1c9e1" stroke="#a5a5a5" stroke-width="0.65"/>
<rect x="278.68" y="73.46" width="8.52" height="7.12" fill="#a1c9e1" stroke="#a5a5a5" stroke-width="0.65"/>
<rect x="287.20" y="52.10" width="8.52" height="7.12" fill="#73a1cb" stroke="#a5a5a5" stroke-width="0.65"/>
<rect x="287.20" y="59.22" width="8.52" height="7.12" fill="#6999c7" stroke="#a5a5a5" stroke-width="0.65"/>
<rect x="287.20" y="66.34" width="8.52" height="7.12" fill="#73a1cb" stroke="#a5a5a5" stroke-width="0.65"/>
<rect x="287.20" y="73.46" width="8.52" height="7.12" fill="#85b3d5" stroke="#a5a5a5" stroke-width="0.65"/>
<rect x="295.72" y="52.10" width="8.52" height="7.12" fill="#d0e9f2" stroke="#a5a5a5" stroke-width="0.65"/>
<rect x="295.72" y="59.22" width="8.52" height="7.12" fill="#d0e9f2" stroke="#a5a5a5" stroke-width="0.65"/>
<rect x="295.72" y="66.34" width="8.52" height="7.12" fill="#bddceb" stroke="#a5a5a5" stroke-width="0.65"/>
<rect x="295.72" y="73.46" width="8.52" height="7.12" fill="#d0e9f2" stroke="#a5a5a5" stroke-width="0.65"/>
<rect x="304.24" y="52.10" width="8.52" height="7.12" fill="#b4d6e8" stroke="#a5a5a5" stroke-width="0.65"/>
<rect x="304.24" y="59.22" width="8.52" height="7.12" fill="#b4d6e8" stroke="#a5a5a5" stroke-width="0.65"/>
<rect x="304.24" y="66.34" width="8.52" height="7.12" fill="#aad0e4" stroke="#a5a5a5" stroke-width="0.65"/>
<rect x="304.24" y="73.46" width="8.52" height="7.12" fill="#aad0e4" stroke="#a5a5a5" stroke-width="0.65"/>
<rect x="312.76" y="52.10" width="8.52" height="7.12" fill="#fed98c" stroke="#a5a5a5" stroke-width="0.65"/>
<rect x="312.76" y="59.22" width="8.52" height="7.12" fill="#fee395" stroke="#a5a5a5" stroke-width="0.65"/>
<rect x="312.76" y="66.34" width="8.52" height="7.12" fill="#fee598" stroke="#a5a5a5" stroke-width="0.65"/>
<rect x="312.76" y="73.46" width="8.52" height="7.12" fill="#fee598" stroke="#a5a5a5" stroke-width="0.65"/>
<rect x="159.40" y="89.60" width="8.52" height="7.12" fill="#fff0a8" stroke="#a5a5a5" stroke-width="0.65"/>
<rect x="159.40" y="96.72" width="8.52" height="7.12" fill="#feeca3" stroke="#a5a5a5" stroke-width="0.65"/>
<rect x="159.40" y="103.84" width="8.52" height="7.12" fill="#fff0a8" stroke="#a5a5a5" stroke-width="0.65"/>
<rect x="159.40" y="110.96" width="8.52" height="7.12" fill="#feeca3" stroke="#a5a5a5" stroke-width="0.65"/>
<rect x="167.92" y="89.60" width="8.52" height="7.12" fill="#b4d6e8" stroke="#a5a5a5" stroke-width="0.65"/>
<rect x="167.92" y="96.72" width="8.52" height="7.12" fill="#a1c9e1" stroke="#a5a5a5" stroke-width="0.65"/>
<rect x="167.92" y="103.84" width="8.52" height="7.12" fill="#bddceb" stroke="#a5a5a5" stroke-width="0.65"/>
<rect x="167.92" y="110.96" width="8.52" height="7.12" fill="#aad0e4" stroke="#a5a5a5" stroke-width="0.65"/>
<rect x="176.44" y="89.60" width="8.52" height="7.12" fill="#d0e9f2" stroke="#a5a5a5" stroke-width="0.65"/>
<rect x="176.44" y="96.72" width="8.52" height="7.12" fill="#d0e9f2" stroke="#a5a5a5" stroke-width="0.65"/>
<rect x="176.44" y="103.84" width="8.52" height="7.12" fill="#c7e2ef" stroke="#a5a5a5" stroke-width="0.65"/>
<rect x="176.44" y="110.96" width="8.52" height="7.12" fill="#d0e9f2" stroke="#a5a5a5" stroke-width="0.65"/>
<rect x="184.96" y="89.60" width="8.52" height="7.12" fill="#fff4ae" stroke="#a5a5a5" stroke-width="0.65"/>
<rect x="184.96" y="96.72" width="8.52" height="7.12" fill="#fff6b1" stroke="#a5a5a5" stroke-width="0.65"/>
<rect x="184.96" y="103.84" width="8.52" height="7.12" fill="#fff6b1" stroke="#a5a5a5" stroke-width="0.65"/>
<rect x="184.96" y="110.96" width="8.52" height="7.12" fill="#fff8b4" stroke="#a5a5a5" stroke-width="0.65"/>
<rect x="193.48" y="89.60" width="8.52" height="7.12" fill="#fee192" stroke="#a5a5a5" stroke-width="0.65"/>
<rect x="193.48" y="96.72" width="8.52" height="7.12" fill="#fee192" stroke="#a5a5a5" stroke-width="0.65"/>
<rect x="193.48" y="103.84" width="8.52" height="7.12" fill="#fede8f" stroke="#a5a5a5" stroke-width="0.65"/>
<rect x="193.48" y="110.96" width="8.52" height="7.12" fill="#fede8f" stroke="#a5a5a5" stroke-width="0.65"/>
<rect x="202.00" y="89.60" width="8.52" height="7.12" fill="#fffbb9" stroke="#a5a5a5" stroke-width="0.65"/>
<rect x="202.00" y="96.72" width="8.52" height="7.12" fill="#fffbb9" stroke="#a5a5a5" stroke-width="0.65"/>
<rect x="202.00" y="103.84" width="8.52" height="7.12" fill="#fff9b7" stroke="#a5a5a5" stroke-width="0.65"/>
<rect x="202.00" y="110.96" width="8.52" height="7.12" fill="#fffbb9" stroke="#a5a5a5" stroke-width="0.65"/>
<rect x="210.52" y="89.60" width="8.52" height="7.12" fill="#c2dfed" stroke="#a5a5a5" stroke-width="0.65"/>
<rect x="210.52" y="96.72" width="8.52" height="7.12" fill="#c7e2ef" stroke="#a5a5a5" stroke-width="0.65"/>
<rect x="210.52" y="103.84" width="8.52" height="7.12" fill="#b8d9ea" stroke="#a5a5a5" stroke-width="0.65"/>
<rect x="210.52" y="110.96" width="8.52" height="7.12" fill="#c2dfed" stroke="#a5a5a5" stroke-width="0.65"/>
<rect x="219.04" y="89.60" width="8.52" height="7.12" fill="#73a1cb" stroke="#a5a5a5" stroke-width="0.65"/>
<rect x="219.04" y="96.72" width="8.52" height="7.12" fill="#6594c4" stroke="#a5a5a5" stroke-width="0.65"/>
<rect x="219.04" y="103.84" width="8.52" height="7.12" fill="#6594c4" stroke="#a5a5a5" stroke-width="0.65"/>
<rect x="219.04" y="110.96" width="8.52" height="7.12" fill="#6e9dc9" stroke="#a5a5a5" stroke-width="0.65"/>
<rect x="227.56" y="89.60" width="8.52" height="7.12" fill="#6999c7" stroke="#a5a5a5" stroke-width="0.65"/>
<rect x="227.56" y="96.72" width="8.52" height="7.12" fill="#6594c4" stroke="#a5a5a5" stroke-width="0.65"/>
<rect x="227.56" y="103.84" width="8.52" height="7.12" fill="#6999c7" stroke="#a5a5a5" stroke-width="0.65"/>
<rect x="227.56" y="110.96" width="8.52" height="7.12" fill="#6999c7" stroke="#a5a5a5" stroke-width="0.65"/>
<rect x="236.08" y="89.60" width="8.52" height="7.12" fill="#6999c7" stroke="#a5a5a5" stroke-width="0.65"/>
<rect x="236.08" y="96.72" width="8.52" height="7.12" fill="#5787bd" stroke="#a5a5a5" stroke-width="0.65"/>
<rect x="236.08" y="103.84" width="8.52" height="7.12" fill="#5c8bc0" stroke="#a5a5a5" stroke-width="0.65"/>
<rect x="236.08" y="110.96" width="8.52" height="7.12" fill="#6090c2" stroke="#a5a5a5" stroke-width="0.65"/>
<rect x="244.60" y="89.60" width="8.52" height="7.12" fill="#85b3d5" stroke="#a5a5a5" stroke-width="0.65"/>
<rect x="244.60" y="96.72" width="8.52" height="7.12" fill="#6e9dc9" stroke="#a5a5a5" stroke-width="0.65"/>
<rect x="244.60" y="103.84" width="8.52" height="7.12" fill="#73a1cb" stroke="#a5a5a5" stroke-width="0.65"/>
<rect x="244.60" y="110.96" width="8.52" height="7.12" fill="#6e9dc9" stroke="#a5a5a5" stroke-width="0.65"/>
<rect x="253.12" y="89.60" width="8.52" height="7.12" fill="#73a1cb" stroke="#a5a5a5" stroke-width="0.65"/>
<rect x="253.12" y="96.72" width="8.52" height="7.12" fill="#6999c7" stroke="#a5a5a5" stroke-width="0.65"/>
<rect x="253.12" y="103.84" width="8.52" height="7.12" fill="#77a6ce" stroke="#a5a5a5" stroke-width="0.65"/>
<rect x="253.12" y="110.96" width="8.52" height="7.12" fill="#6999c7" stroke="#a5a5a5" stroke-width="0.65"/>
<rect x="261.64" y="89.60" width="8.52" height="7.12" fill="#77a6ce" stroke="#a5a5a5" stroke-width="0.65"/>
<rect x="261.64" y="96.72" width="8.52" height="7.12" fill="#80afd2" stroke="#a5a5a5" stroke-width="0.65"/>
<rect x="261.64" y="103.84" width="8.52" height="7.12" fill="#80afd2" stroke="#a5a5a5" stroke-width="0.65"/>
<rect x="261.64" y="110.96" width="8.52" height="7.12" fill="#80afd2" stroke="#a5a5a5" stroke-width="0.65"/>
<rect x="270.16" y="89.60" width="8.52" height="7.12" fill="#73a1cb" stroke="#a5a5a5" stroke-width="0.65"/>
<rect x="270.16" y="96.72" width="8.52" height="7.12" fill="#85b3d5" stroke="#a5a5a5" stroke-width="0.65"/>
<rect x="270.16" y="103.84" width="8.52" height="7.12" fill="#6090c2" stroke="#a5a5a5" stroke-width="0.65"/>
<rect x="270.16" y="110.96" width="8.52" height="7.12" fill="#80afd2" stroke="#a5a5a5" stroke-width="0.65"/>
<rect x="278.68" y="89.60" width="8.52" height="7.12" fill="#8ebcd9" stroke="#a5a5a5" stroke-width="0.65"/>
<rect x="278.68" y="96.72" width="8.52" height="7.12" fill="#89b8d7" stroke="#a5a5a5" stroke-width="0.65"/>
<rect x="278.68" y="103.84" width="8.52" height="7.12" fill="#93c0dc" stroke="#a5a5a5" stroke-width="0.65"/>
<rect x="278.68" y="110.96" width="8.52" height="7.12" fill="#93c0dc" stroke="#a5a5a5" stroke-width="0.65"/>
<rect x="287.20" y="89.60" width="8.52" height="7.12" fill="#7caad0" stroke="#a5a5a5" stroke-width="0.65"/>
<rect x="287.20" y="96.72" width="8.52" height="7.12" fill="#7caad0" stroke="#a5a5a5" stroke-width="0.65"/>
<rect x="287.20" y="103.84" width="8.52" height="7.12" fill="#7caad0" stroke="#a5a5a5" stroke-width="0.65"/>
<rect x="287.20" y="110.96" width="8.52" height="7.12" fill="#80afd2" stroke="#a5a5a5" stroke-width="0.65"/>
<rect x="295.72" y="89.60" width="8.52" height="7.12" fill="#a1c9e1" stroke="#a5a5a5" stroke-width="0.65"/>
<rect x="295.72" y="96.72" width="8.52" height="7.12" fill="#97c3dd" stroke="#a5a5a5" stroke-width="0.65"/>
<rect x="295.72" y="103.84" width="8.52" height="7.12" fill="#aad0e4" stroke="#a5a5a5" stroke-width="0.65"/>
<rect x="295.72" y="110.96" width="8.52" height="7.12" fill="#97c3dd" stroke="#a5a5a5" stroke-width="0.65"/>
<rect x="304.24" y="89.60" width="8.52" height="7.12" fill="#6999c7" stroke="#a5a5a5" stroke-width="0.65"/>
<rect x="304.24" y="96.72" width="8.52" height="7.12" fill="#6999c7" stroke="#a5a5a5" stroke-width="0.65"/>
<rect x="304.24" y="103.84" width="8.52" height="7.12" fill="#6999c7" stroke="#a5a5a5" stroke-width="0.65"/>
<rect x="304.24" y="110.96" width="8.52" height="7.12" fill="#6999c7" stroke="#a5a5a5" stroke-width="0.65"/>
<rect x="312.76" y="89.60" width="8.52" height="7.12" fill="#feeca3" stroke="#a5a5a5" stroke-width="0.65"/>
<rect x="312.76" y="96.72" width="8.52" height="7.12" fill="#fee79a" stroke="#a5a5a5" stroke-width="0.65"/>
<rect x="312.76" y="103.84" width="8.52" height="7.12" fill="#feeba0" stroke="#a5a5a5" stroke-width="0.65"/>
<rect x="312.76" y="110.96" width="8.52" height="7.12" fill="#fee79a" stroke="#a5a5a5" stroke-width="0.65"/>
<rect x="159.40" y="122.50" width="8.52" height="7.12" fill="#fee99d" stroke="#a5a5a5" stroke-width="0.65"/>
<rect x="159.40" y="129.62" width="8.52" height="7.12" fill="#feeca3" stroke="#a5a5a5" stroke-width="0.65"/>
<rect x="159.40" y="136.74" width="8.52" height="7.12" fill="#fff0a8" stroke="#a5a5a5" stroke-width="0.65"/>
<rect x="159.40" y="143.86" width="8.52" height="7.12" fill="#feeca3" stroke="#a5a5a5" stroke-width="0.65"/>
<rect x="167.92" y="122.50" width="8.52" height="7.12" fill="#aad0e4" stroke="#a5a5a5" stroke-width="0.65"/>
<rect x="167.92" y="129.62" width="8.52" height="7.12" fill="#a1c9e1" stroke="#a5a5a5" stroke-width="0.65"/>
<rect x="167.92" y="136.74" width="8.52" height="7.12" fill="#aad0e4" stroke="#a5a5a5" stroke-width="0.65"/>
<rect x="167.92" y="143.86" width="8.52" height="7.12" fill="#a1c9e1" stroke="#a5a5a5" stroke-width="0.65"/>
<rect x="176.44" y="122.50" width="8.52" height="7.12" fill="#daeff6" stroke="#a5a5a5" stroke-width="0.65"/>
<rect x="176.44" y="129.62" width="8.52" height="7.12" fill="#daeff6" stroke="#a5a5a5" stroke-width="0.65"/>
<rect x="176.44" y="136.74" width="8.52" height="7.12" fill="#daeff6" stroke="#a5a5a5" stroke-width="0.65"/>
<rect x="176.44" y="143.86" width="8.52" height="7.12" fill="#e1f3f6" stroke="#a5a5a5" stroke-width="0.65"/>
<rect x="184.96" y="122.50" width="8.52" height="7.12" fill="#fff9b7" stroke="#a5a5a5" stroke-width="0.65"/>
<rect x="184.96" y="129.62" width="8.52" height="7.12" fill="#fffbb9" stroke="#a5a5a5" stroke-width="0.65"/>
<rect x="184.96" y="136.74" width="8.52" height="7.12" fill="#fffbb9" stroke="#a5a5a5" stroke-width="0.65"/>
<rect x="184.96" y="143.86" width="8.52" height="7.12" fill="#fffbb9" stroke="#a5a5a5" stroke-width="0.65"/>
<rect x="193.48" y="122.50" width="8.52" height="7.12" fill="#fee79a" stroke="#a5a5a5" stroke-width="0.65"/>
<rect x="193.48" y="129.62" width="8.52" height="7.12" fill="#fee79a" stroke="#a5a5a5" stroke-width="0.65"/>
<rect x="193.48" y="136.74" width="8.52" height="7.12" fill="#fee598" stroke="#a5a5a5" stroke-width="0.65"/>
<rect x="193.48" y="143.86" width="8.52" height="7.12" fill="#fee79a" stroke="#a5a5a5" stroke-width="0.65"/>
<rect x="202.00" y="122.50" width="8.52" height="7.12" fill="#fffbb9" stroke="#a5a5a5" stroke-width="0.65"/>
<rect x="202.00" y="129.62" width="8.52" height="7.12" fill="#fdfec2" stroke="#a5a5a5" stroke-width="0.65"/>
<rect x="202.00" y="136.74" width="8.52" height="7.12" fill="#fffbb9" stroke="#a5a5a5" stroke-width="0.65"/>
<rect x="202.00" y="143.86" width="8.52" height="7.12" fill="#ffffbf" stroke="#a5a5a5" stroke-width="0.65"/>
<rect x="210.52" y="122.50" width="8.52" height="7.12" fill="#c2dfed" stroke="#a5a5a5" stroke-width="0.65"/>
<rect x="210.52" y="129.62" width="8.52" height="7.12" fill="#b8d9ea" stroke="#a5a5a5" stroke-width="0.65"/>
<rect x="210.52" y="136.74" width="8.52" height="7.12" fill="#c7e2ef" stroke="#a5a5a5" stroke-width="0.65"/>
<rect x="210.52" y="143.86" width="8.52" height="7.12" fill="#bddceb" stroke="#a5a5a5" stroke-width="0.65"/>
<rect x="219.04" y="122.50" width="8.52" height="7.12" fill="#6594c4" stroke="#a5a5a5" stroke-width="0.65"/>
<rect x="219.04" y="129.62" width="8.52" height="7.12" fill="#7caad0" stroke="#a5a5a5" stroke-width="0.65"/>
<rect x="219.04" y="136.74" width="8.52" height="7.12" fill="#7caad0" stroke="#a5a5a5" stroke-width="0.65"/>
<rect x="219.04" y="143.86" width="8.52" height="7.12" fill="#6594c4" stroke="#a5a5a5" stroke-width="0.65"/>
<rect x="227.56" y="122.50" width="8.52" height="7.12" fill="#4575b4" stroke="#a5a5a5" stroke-width="0.65"/>
<rect x="227.56" y="129.62" width="8.52" height="7.12" fill="#73a1cb" stroke="#a5a5a5" stroke-width="0.65"/>
<rect x="227.56" y="136.74" width="8.52" height="7.12" fill="#6e9dc9" stroke="#a5a5a5" stroke-width="0.65"/>
<rect x="227.56" y="143.86" width="8.52" height="7.12" fill="#5c8bc0" stroke="#a5a5a5" stroke-width="0.65"/>
<rect x="236.08" y="122.50" width="8.52" height="7.12" fill="#6e9dc9" stroke="#a5a5a5" stroke-width="0.65"/>
<rect x="236.08" y="129.62" width="8.52" height="7.12" fill="#7caad0" stroke="#a5a5a5" stroke-width="0.65"/>
<rect x="236.08" y="136.74" width="8.52" height="7.12" fill="#73a1cb" stroke="#a5a5a5" stroke-width="0.65"/>
<rect x="236.08" y="143.86" width="8.52" height="7.12" fill="#6999c7" stroke="#a5a5a5" stroke-width="0.65"/>
<rect x="244.60" y="122.50" width="8.52" height="7.12" fill="#6e9dc9" stroke="#a5a5a5" stroke-width="0.65"/>
<rect x="244.60" y="129.62" width="8.52" height="7.12" fill="#7caad0" stroke="#a5a5a5" stroke-width="0.65"/>
<rect x="244.60" y="136.74" width="8.52" height="7.12" fill="#7caad0" stroke="#a5a5a5" stroke-width="0.65"/>
<rect x="244.60" y="143.86" width="8.52" height="7.12" fill="#77a6ce" stroke="#a5a5a5" stroke-width="0.65"/>
<rect x="253.12" y="122.50" width="8.52" height="7.12" fill="#73a1cb" stroke="#a5a5a5" stroke-width="0.65"/>
<rect x="253.12" y="129.62" width="8.52" height="7.12" fill="#80afd2" stroke="#a5a5a5" stroke-width="0.65"/>
<rect x="253.12" y="136.74" width="8.52" height="7.12" fill="#6e9dc9" stroke="#a5a5a5" stroke-width="0.65"/>
<rect x="253.12" y="143.86" width="8.52" height="7.12" fill="#73a1cb" stroke="#a5a5a5" stroke-width="0.65"/>
<rect x="261.64" y="122.50" width="8.52" height="7.12" fill="#77a6ce" stroke="#a5a5a5" stroke-width="0.65"/>
<rect x="261.64" y="129.62" width="8.52" height="7.12" fill="#80afd2" stroke="#a5a5a5" stroke-width="0.65"/>
<rect x="261.64" y="136.74" width="8.52" height="7.12" fill="#7caad0" stroke="#a5a5a5" stroke-width="0.65"/>
<rect x="261.64" y="143.86" width="8.52" height="7.12" fill="#77a6ce" stroke="#a5a5a5" stroke-width="0.65"/>
<rect x="270.16" y="122.50" width="8.52" height="7.12" fill="#6e9dc9" stroke="#a5a5a5" stroke-width="0.65"/>
<rect x="270.16" y="129.62" width="8.52" height="7.12" fill="#85b3d5" stroke="#a5a5a5" stroke-width="0.65"/>
<rect x="270.16" y="136.74" width="8.52" height="7.12" fill="#73a1cb" stroke="#a5a5a5" stroke-width="0.65"/>
<rect x="270.16" y="143.86" width="8.52" height="7.12" fill="#6090c2" stroke="#a5a5a5" stroke-width="0.65"/>
<rect x="278.68" y="122.50" width="8.52" height="7.12" fill="#8ebcd9" stroke="#a5a5a5" stroke-width="0.65"/>
<rect x="278.68" y="129.62" width="8.52" height="7.12" fill="#a1c9e1" stroke="#a5a5a5" stroke-width="0.65"/>
<rect x="278.68" y="136.74" width="8.52" height="7.12" fill="#a1c9e1" stroke="#a5a5a5" stroke-width="0.65"/>
<rect x="278.68" y="143.86" width="8.52" height="7.12" fill="#a1c9e1" stroke="#a5a5a5" stroke-width="0.65"/>
<rect x="287.20" y="122.50" width="8.52" height="7.12" fill="#85b3d5" stroke="#a5a5a5" stroke-width="0.65"/>
<rect x="287.20" y="129.62" width="8.52" height="7.12" fill="#85b3d5" stroke="#a5a5a5" stroke-width="0.65"/>
<rect x="287.20" y="136.74" width="8.52" height="7.12" fill="#85b3d5" stroke="#a5a5a5" stroke-width="0.65"/>
<rect x="287.20" y="143.86" width="8.52" height="7.12" fill="#85b3d5" stroke="#a5a5a5" stroke-width="0.65"/>
<rect x="295.72" y="122.50" width="8.52" height="7.12" fill="#d0e9f2" stroke="#a5a5a5" stroke-width="0.65"/>
<rect x="295.72" y="129.62" width="8.52" height="7.12" fill="#d0e9f2" stroke="#a5a5a5" stroke-width="0.65"/>
<rect x="295.72" y="136.74" width="8.52" height="7.12" fill="#bddceb" stroke="#a5a5a5" stroke-width="0.65"/>
<rect x="295.72" y="143.86" width="8.52" height="7.12" fill="#d0e9f2" stroke="#a5a5a5" stroke-width="0.65"/>
<rect x="304.24" y="122.50" width="8.52" height="7.12" fill="#aad0e4" stroke="#a5a5a5" stroke-width="0.65"/>
<rect x="304.24" y="129.62" width="8.52" height="7.12" fill="#a1c9e1" stroke="#a5a5a5" stroke-width="0.65"/>
<rect x="304.24" y="136.74" width="8.52" height="7.12" fill="#a1c9e1" stroke="#a5a5a5" stroke-width="0.65"/>
<rect x="304.24" y="143.86" width="8.52" height="7.12" fill="#aad0e4" stroke="#a5a5a5" stroke-width="0.65"/>
<rect x="312.76" y="122.50" width="8.52" height="7.12" fill="#fee598" stroke="#a5a5a5" stroke-width="0.65"/>
<rect x="312.76" y="129.62" width="8.52" height="7.12" fill="#fee598" stroke="#a5a5a5" stroke-width="0.65"/>
<rect x="312.76" y="136.74" width="8.52" height="7.12" fill="#fee99d" stroke="#a5a5a5" stroke-width="0.65"/>
<rect x="312.76" y="143.86" width="8.52" height="7.12" fill="#fee598" stroke="#a5a5a5" stroke-width="0.65"/>
<rect x="328.30" y="0.6" width="187.44" height="13.9" fill="#e8e8e8" stroke="#5a5a5a" stroke-width="0.9"/>
<text x="426.40" y="11.30" font-size="8.6" text-anchor="middle" fill="#1a1a1a" stroke="#1a1a1a" stroke-width="0.15">Transportation</text>
<rect x="328.30" y="19.20" width="8.52" height="7.12" fill="#fffbb9" stroke="#a5a5a5" stroke-width="0.65"/>
<rect x="328.30" y="26.32" width="8.52" height="7.12" fill="#fffbb9" stroke="#a5a5a5" stroke-width="0.65"/>
<rect x="328.30" y="33.44" width="8.52" height="7.12" fill="#fffbb9" stroke="#a5a5a5" stroke-width="0.65"/>
<rect x="328.30" y="40.56" width="8.52" height="7.12" fill="#fffbb9" stroke="#a5a5a5" stroke-width="0.65"/>
<rect x="336.82" y="19.20" width="8.52" height="7.12" fill="#93c0dc" stroke="#a5a5a5" stroke-width="0.65"/>
<rect x="336.82" y="26.32" width="8.52" height="7.12" fill="#93c0dc" stroke="#a5a5a5" stroke-width="0.65"/>
<rect x="336.82" y="33.44" width="8.52" height="7.12" fill="#93c0dc" stroke="#a5a5a5" stroke-width="0.65"/>
<rect x="336.82" y="40.56" width="8.52" height="7.12" fill="#93c0dc" stroke="#a5a5a5" stroke-width="0.65"/>
<rect x="345.34" y="19.20" width="8.52" height="7.12" fill="#97c3dd" stroke="#a5a5a5" stroke-width="0.65"/>
<rect x="345.34" y="26.32" width="8.52" height="7.12" fill="#97c3dd" stroke="#a5a5a5" stroke-width="0.65"/>
<rect x="345.34" y="33.44" width="8.52" height="7.12" fill="#97c3dd" stroke="#a5a5a5" stroke-width="0.65"/>
<rect x="345.34" y="40.56" width="8.52" height="7.12" fill="#97c3dd" stroke="#a5a5a5" stroke-width="0.65"/>
<rect x="353.86" y="19.20" width="8.52" height="7.12" fill="#93c0dc" stroke="#a5a5a5" stroke-width="0.65"/>
<rect x="353.86" y="26.32" width="8.52" height="7.12" fill="#93c0dc" stroke="#a5a5a5" stroke-width="0.65"/>
<rect x="353.86" y="33.44" width="8.52" height="7.12" fill="#89b8d7" stroke="#a5a5a5" stroke-width="0.65"/>
<rect x="353.86" y="40.56" width="8.52" height="7.12" fill="#89b8d7" stroke="#a5a5a5" stroke-width="0.65"/>
<rect x="362.38" y="19.20" width="8.52" height="7.12" fill="#89b8d7" stroke="#a5a5a5" stroke-width="0.65"/>
<rect x="362.38" y="26.32" width="8.52" height="7.12" fill="#73a1cb" stroke="#a5a5a5" stroke-width="0.65"/>
<rect x="362.38" y="33.44" width="8.52" height="7.12" fill="#89b8d7" stroke="#a5a5a5" stroke-width="0.65"/>
<rect x="362.38" y="40.56" width="8.52" height="7.12" fill="#80afd2" stroke="#a5a5a5" stroke-width="0.65"/>
<rect x="370.90" y="19.20" width="8.52" height="7.12" fill="#80afd2" stroke="#a5a5a5" stroke-width="0.65"/>
<rect x="370.90" y="26.32" width="8.52" height="7.12" fill="#73a1cb" stroke="#a5a5a5" stroke-width="0.65"/>
<rect x="370.90" y="33.44" width="8.52" height="7.12" fill="#80afd2" stroke="#a5a5a5" stroke-width="0.65"/>
<rect x="370.90" y="40.56" width="8.52" height="7.12" fill="#80afd2" stroke="#a5a5a5" stroke-width="0.65"/>
<rect x="379.42" y="19.20" width="8.52" height="7.12" fill="#6090c2" stroke="#a5a5a5" stroke-width="0.65"/>
<rect x="379.42" y="26.32" width="8.52" height="7.12" fill="#5787bd" stroke="#a5a5a5" stroke-width="0.65"/>
<rect x="379.42" y="33.44" width="8.52" height="7.12" fill="#5787bd" stroke="#a5a5a5" stroke-width="0.65"/>
<rect x="379.42" y="40.56" width="8.52" height="7.12" fill="#6090c2" stroke="#a5a5a5" stroke-width="0.65"/>
<rect x="387.94" y="19.20" width="8.52" height="7.12" fill="#b4d6e8" stroke="#a5a5a5" stroke-width="0.65"/>
<rect x="387.94" y="26.32" width="8.52" height="7.12" fill="#c7e2ef" stroke="#a5a5a5" stroke-width="0.65"/>
<rect x="387.94" y="33.44" width="8.52" height="7.12" fill="#b4d6e8" stroke="#a5a5a5" stroke-width="0.65"/>
<rect x="387.94" y="40.56" width="8.52" height="7.12" fill="#b4d6e8" stroke="#a5a5a5" stroke-width="0.65"/>
<rect x="396.46" y="19.20" width="8.52" height="7.12" fill="#97c3dd" stroke="#a5a5a5" stroke-width="0.65"/>
<rect x="396.46" y="26.32" width="8.52" height="7.12" fill="#97c3dd" stroke="#a5a5a5" stroke-width="0.65"/>
<rect x="396.46" y="33.44" width="8.52" height="7.12" fill="#97c3dd" stroke="#a5a5a5" stroke-width="0.65"/>
<rect x="396.46" y="40.56" width="8.52" height="7.12" fill="#97c3dd" stroke="#a5a5a5" stroke-width="0.65"/>
<rect x="404.98" y="19.20" width="8.52" height="7.12" fill="#a1c9e1" stroke="#a5a5a5" stroke-width="0.65"/>
<rect x="404.98" y="26.32" width="8.52" height="7.12" fill="#a1c9e1" stroke="#a5a5a5" stroke-width="0.65"/>
<rect x="404.98" y="33.44" width="8.52" height="7.12" fill="#a1c9e1" stroke="#a5a5a5" stroke-width="0.65"/>
<rect x="404.98" y="40.56" width="8.52" height="7.12" fill="#a1c9e1" stroke="#a5a5a5" stroke-width="0.65"/>
<rect x="413.50" y="19.20" width="8.52" height="7.12" fill="#97c3dd" stroke="#a5a5a5" stroke-width="0.65"/>
<rect x="413.50" y="26.32" width="8.52" height="7.12" fill="#97c3dd" stroke="#a5a5a5" stroke-width="0.65"/>
<rect x="413.50" y="33.44" width="8.52" height="7.12" fill="#97c3dd" stroke="#a5a5a5" stroke-width="0.65"/>
<rect x="413.50" y="40.56" width="8.52" height="7.12" fill="#97c3dd" stroke="#a5a5a5" stroke-width="0.65"/>
<rect x="422.02" y="19.20" width="8.52" height="7.12" fill="#85b3d5" stroke="#a5a5a5" stroke-width="0.65"/>
<rect x="422.02" y="26.32" width="8.52" height="7.12" fill="#6090c2" stroke="#a5a5a5" stroke-width="0.65"/>
<rect x="422.02" y="33.44" width="8.52" height="7.12" fill="#6090c2" stroke="#a5a5a5" stroke-width="0.65"/>
<rect x="422.02" y="40.56" width="8.52" height="7.12" fill="#7caad0" stroke="#a5a5a5" stroke-width="0.65"/>
<rect x="430.54" y="19.20" width="8.52" height="7.12" fill="#80afd2" stroke="#a5a5a5" stroke-width="0.65"/>
<rect x="430.54" y="26.32" width="8.52" height="7.12" fill="#80afd2" stroke="#a5a5a5" stroke-width="0.65"/>
<rect x="430.54" y="33.44" width="8.52" height="7.12" fill="#80afd2" stroke="#a5a5a5" stroke-width="0.65"/>
<rect x="430.54" y="40.56" width="8.52" height="7.12" fill="#85b3d5" stroke="#a5a5a5" stroke-width="0.65"/>
<rect x="439.06" y="19.20" width="8.52" height="7.12" fill="#b4d6e8" stroke="#a5a5a5" stroke-width="0.65"/>
<rect x="439.06" y="26.32" width="8.52" height="7.12" fill="#b4d6e8" stroke="#a5a5a5" stroke-width="0.65"/>
<rect x="439.06" y="33.44" width="8.52" height="7.12" fill="#b4d6e8" stroke="#a5a5a5" stroke-width="0.65"/>
<rect x="439.06" y="40.56" width="8.52" height="7.12" fill="#aad0e4" stroke="#a5a5a5" stroke-width="0.65"/>
<rect x="447.58" y="19.20" width="8.52" height="7.12" fill="#97c3dd" stroke="#a5a5a5" stroke-width="0.65"/>
<rect x="447.58" y="26.32" width="8.52" height="7.12" fill="#97c3dd" stroke="#a5a5a5" stroke-width="0.65"/>
<rect x="447.58" y="33.44" width="8.52" height="7.12" fill="#a1c9e1" stroke="#a5a5a5" stroke-width="0.65"/>
<rect x="447.58" y="40.56" width="8.52" height="7.12" fill="#a1c9e1" stroke="#a5a5a5" stroke-width="0.65"/>
<rect x="456.10" y="19.20" width="8.52" height="7.12" fill="#6999c7" stroke="#a5a5a5" stroke-width="0.65"/>
<rect x="456.10" y="26.32" width="8.52" height="7.12" fill="#5787bd" stroke="#a5a5a5" stroke-width="0.65"/>
<rect x="456.10" y="33.44" width="8.52" height="7.12" fill="#4e7eb9" stroke="#a5a5a5" stroke-width="0.65"/>
<rect x="456.10" y="40.56" width="8.52" height="7.12" fill="#6999c7" stroke="#a5a5a5" stroke-width="0.65"/>
<rect x="464.62" y="19.20" width="8.52" height="7.12" fill="#93c0dc" stroke="#a5a5a5" stroke-width="0.65"/>
<rect x="464.62" y="26.32" width="8.52" height="7.12" fill="#93c0dc" stroke="#a5a5a5" stroke-width="0.65"/>
<rect x="464.62" y="33.44" width="8.52" height="7.12" fill="#97c3dd" stroke="#a5a5a5" stroke-width="0.65"/>
<rect x="464.62" y="40.56" width="8.52" height="7.12" fill="#a1c9e1" stroke="#a5a5a5" stroke-width="0.65"/>
<rect x="473.14" y="19.20" width="8.52" height="7.12" fill="#ffffbf" stroke="#a5a5a5" stroke-width="0.65"/>
<rect x="473.14" y="26.32" width="8.52" height="7.12" fill="#ffffbf" stroke="#a5a5a5" stroke-width="0.65"/>
<rect x="473.14" y="33.44" width="8.52" height="7.12" fill="#ffffbf" stroke="#a5a5a5" stroke-width="0.65"/>
<rect x="473.14" y="40.56" width="8.52" height="7.12" fill="#ffffbf" stroke="#a5a5a5" stroke-width="0.65"/>
<rect x="481.66" y="19.20" width="8.52" height="7.12" fill="#fee99d" stroke="#a5a5a5" stroke-width="0.65"/>
<rect x="481.66" y="26.32" width="8.52" height="7.12" fill="#fee395" stroke="#a5a5a5" stroke-width="0.65"/>
<rect x="481.66" y="33.44" width="8.52" height="7.12" fill="#fee598" stroke="#a5a5a5" stroke-width="0.65"/>
<rect x="481.66" y="40.56" width="8.52" height="7.12" fill="#fee598" stroke="#a5a5a5" stroke-width="0.65"/>
<rect x="490.18" y="19.20" width="8.52" height="7.12" fill="#fffbb9" stroke="#a5a5a5" stroke-width="0.65"/>
<rect x="490.18" y="26.32" width="8.52" height="7.12" fill="#feeca3" stroke="#a5a5a5" stroke-width="0.65"/>
<rect x="490.18" y="33.44" width="8.52" height="7.12" fill="#fff2ab" stroke="#a5a5a5" stroke-width="0.65"/>
<rect x="490.18" y="40.56" width="8.52" height="7.12" fill="#fff0a8" stroke="#a5a5a5" stroke-width="0.65"/>
<rect x="498.70" y="19.20" width="8.52" height="7.12" fill="#fffbb9" stroke="#a5a5a5" stroke-width="0.65"/>
<rect x="498.70" y="26.32" width="8.52" height="7.12" fill="#feeca3" stroke="#a5a5a5" stroke-width="0.65"/>
<rect x="498.70" y="33.44" width="8.52" height="7.12" fill="#fff6b1" stroke="#a5a5a5" stroke-width="0.65"/>
<rect x="498.70" y="40.56" width="8.52" height="7.12" fill="#fff0a8" stroke="#a5a5a5" stroke-width="0.65"/>
<rect x="507.22" y="19.20" width="8.52" height="7.12" fill="#feeca3" stroke="#a5a5a5" stroke-width="0.65"/>
<rect x="507.22" y="26.32" width="8.52" height="7.12" fill="#fee99d" stroke="#a5a5a5" stroke-width="0.65"/>
<rect x="507.22" y="33.44" width="8.52" height="7.12" fill="#fee99d" stroke="#a5a5a5" stroke-width="0.65"/>
<rect x="507.22" y="40.56" width="8.52" height="7.12" fill="#feeca3" stroke="#a5a5a5" stroke-width="0.65"/>
<rect x="328.30" y="52.10" width="8.52" height="7.12" fill="#fff9b7" stroke="#a5a5a5" stroke-width="0.65"/>
<rect x="328.30" y="59.22" width="8.52" height="7.12" fill="#fff9b7" stroke="#a5a5a5" stroke-width="0.65"/>
<rect x="328.30" y="66.34" width="8.52" height="7.12" fill="#fff9b7" stroke="#a5a5a5" stroke-width="0.65"/>
<rect x="328.30" y="73.46" width="8.52" height="7.12" fill="#fff9b7" stroke="#a5a5a5" stroke-width="0.65"/>
<rect x="336.82" y="52.10" width="8.52" height="7.12" fill="#97c3dd" stroke="#a5a5a5" stroke-width="0.65"/>
<rect x="336.82" y="59.22" width="8.52" height="7.12" fill="#93c0dc" stroke="#a5a5a5" stroke-width="0.65"/>
<rect x="336.82" y="66.34" width="8.52" height="7.12" fill="#97c3dd" stroke="#a5a5a5" stroke-width="0.65"/>
<rect x="336.82" y="73.46" width="8.52" height="7.12" fill="#85b3d5" stroke="#a5a5a5" stroke-width="0.65"/>
<rect x="345.34" y="52.10" width="8.52" height="7.12" fill="#aad0e4" stroke="#a5a5a5" stroke-width="0.65"/>
<rect x="345.34" y="59.22" width="8.52" height="7.12" fill="#97c3dd" stroke="#a5a5a5" stroke-width="0.65"/>
<rect x="345.34" y="66.34" width="8.52" height="7.12" fill="#97c3dd" stroke="#a5a5a5" stroke-width="0.65"/>
<rect x="345.34" y="73.46" width="8.52" height="7.12" fill="#a1c9e1" stroke="#a5a5a5" stroke-width="0.65"/>
<rect x="353.86" y="52.10" width="8.52" height="7.12" fill="#85b3d5" stroke="#a5a5a5" stroke-width="0.65"/>
<rect x="353.86" y="59.22" width="8.52" height="7.12" fill="#93c0dc" stroke="#a5a5a5" stroke-width="0.65"/>
<rect x="353.86" y="66.34" width="8.52" height="7.12" fill="#97c3dd" stroke="#a5a5a5" stroke-width="0.65"/>
<rect x="353.86" y="73.46" width="8.52" height="7.12" fill="#93c0dc" stroke="#a5a5a5" stroke-width="0.65"/>
<rect x="362.38" y="52.10" width="8.52" height="7.12" fill="#7caad0" stroke="#a5a5a5" stroke-width="0.65"/>
<rect x="362.38" y="59.22" width="8.52" height="7.12" fill="#73a1cb" stroke="#a5a5a5" stroke-width="0.65"/>
<rect x="362.38" y="66.34" width="8.52" height="7.12" fill="#97c3dd" stroke="#a5a5a5" stroke-width="0.65"/>
<rect x="362.38" y="73.46" width="8.52" height="7.12" fill="#7caad0" stroke="#a5a5a5" stroke-width="0.65"/>
<rect x="370.90" y="52.10" width="8.52" height="7.12" fill="#85b3d5" stroke="#a5a5a5" stroke-width="0.65"/>
<rect x="370.90" y="59.22" width="8.52" height="7.12" fill="#85b3d5" stroke="#a5a5a5" stroke-width="0.65"/>
<rect x="370.90" y="66.34" width="8.52" height="7.12" fill="#7caad0" stroke="#a5a5a5" stroke-width="0.65"/>
<rect x="370.90" y="73.46" width="8.52" height="7.12" fill="#85b3d5" stroke="#a5a5a5" stroke-width="0.65"/>
<rect x="379.42" y="52.10" width="8.52" height="7.12" fill="#6090c2" stroke="#a5a5a5" stroke-width="0.65"/>
<rect x="379.42" y="59.22" width="8.52" height="7.12" fill="#5c8bc0" stroke="#a5a5a5" stroke-width="0.65"/>
<rect x="379.42" y="66.34" width="8.52" height="7.12" fill="#6999c7" stroke="#a5a5a5" stroke-width="0.65"/>
<rect x="379.42" y="73.46" width="8.52" height="7.12" fill="#4e7eb9" stroke="#a5a5a5" stroke-width="0.65"/>
<rect x="387.94" y="52.10" width="8.52" height="7.12" fill="#c7e2ef" stroke="#a5a5a5" stroke-width="0.65"/>
<rect x="387.94" y="59.22" width="8.52" height="7.12" fill="#bddceb" stroke="#a5a5a5" stroke-width="0.65"/>
<rect x="387.94" y="66.34" width="8.52" height="7.12" fill="#bddceb" stroke="#a5a5a5" stroke-width="0.65"/>
<rect x="387.94" y="73.46" width="8.52" height="7.12" fill="#c2dfed" stroke="#a5a5a5" stroke-width="0.65"/>
<rect x="396.46" y="52.10" width="8.52" height="7.12" fill="#8ebcd9" stroke="#a5a5a5" stroke-width="0.65"/>
<rect x="396.46" y="59.22" width="8.52" height="7.12" fill="#7caad0" stroke="#a5a5a5" stroke-width="0.65"/>
<rect x="396.46" y="66.34" width="8.52" height="7.12" fill="#97c3dd" stroke="#a5a5a5" stroke-width="0.65"/>
<rect x="396.46" y="73.46" width="8.52" height="7.12" fill="#97c3dd" stroke="#a5a5a5" stroke-width="0.65"/>
<rect x="404.98" y="52.10" width="8.52" height="7.12" fill="#8ebcd9" stroke="#a5a5a5" stroke-width="0.65"/>
<rect x="404.98" y="59.22" width="8.52" height="7.12" fill="#97c3dd" stroke="#a5a5a5" stroke-width="0.65"/>
<rect x="404.98" y="66.34" width="8.52" height="7.12" fill="#d0e9f2" stroke="#a5a5a5" stroke-width="0.65"/>
<rect x="404.98" y="73.46" width="8.52" height="7.12" fill="#97c3dd" stroke="#a5a5a5" stroke-width="0.65"/>
<rect x="413.50" y="52.10" width="8.52" height="7.12" fill="#8ebcd9" stroke="#a5a5a5" stroke-width="0.65"/>
<rect x="413.50" y="59.22" width="8.52" height="7.12" fill="#93c0dc" stroke="#a5a5a5" stroke-width="0.65"/>
<rect x="413.50" y="66.34" width="8.52" height="7.12" fill="#93c0dc" stroke="#a5a5a5" stroke-width="0.65"/>
<rect x="413.50" y="73.46" width="8.52" height="7.12" fill="#8ebcd9" stroke="#a5a5a5" stroke-width="0.65"/>
<rect x="422.02" y="52.10" width="8.52" height="7.12" fill="#73a1cb" stroke="#a5a5a5" stroke-width="0.65"/>
<rect x="422.02" y="59.22" width="8.52" height="7.12" fill="#73a1cb" stroke="#a5a5a5" stroke-width="0.65"/>
<rect x="422.02" y="66.34" width="8.52" height="7.12" fill="#89b8d7" stroke="#a5a5a5" stroke-width="0.65"/>
<rect x="422.02" y="73.46" width="8.52" height="7.12" fill="#6999c7" stroke="#a5a5a5" stroke-width="0.65"/>
<rect x="430.54" y="52.10" width="8.52" height="7.12" fill="#73a1cb" stroke="#a5a5a5" stroke-width="0.65"/>
<rect x="430.54" y="59.22" width="8.52" height="7.12" fill="#80afd2" stroke="#a5a5a5" stroke-width="0.65"/>
<rect x="430.54" y="66.34" width="8.52" height="7.12" fill="#93c0dc" stroke="#a5a5a5" stroke-width="0.65"/>
<rect x="430.54" y="73.46" width="8.52" height="7.12" fill="#89b8d7" stroke="#a5a5a5" stroke-width="0.65"/>
<rect x="439.06" y="52.10" width="8.52" height="7.12" fill="#97c3dd" stroke="#a5a5a5" stroke-width="0.65"/>
<rect x="439.06" y="59.22" width="8.52" height="7.12" fill="#b4d6e8" stroke="#a5a5a5" stroke-width="0.65"/>
<rect x="439.06" y="66.34" width="8.52" height="7.12" fill="#9cc6df" stroke="#a5a5a5" stroke-width="0.65"/>
<rect x="439.06" y="73.46" width="8.52" height="7.12" fill="#97c3dd" stroke="#a5a5a5" stroke-width="0.65"/>
<rect x="447.58" y="52.10" width="8.52" height="7.12" fill="#89b8d7" stroke="#a5a5a5" stroke-width="0.65"/>
<rect x="447.58" y="59.22" width="8.52" height="7.12" fill="#8ebcd9" stroke="#a5a5a5" stroke-width="0.65"/>
<rect x="447.58" y="66.34" width="8.52" height="7.12" fill="#93c0dc" stroke="#a5a5a5" stroke-width="0.65"/>
<rect x="447.58" y="73.46" width="8.52" height="7.12" fill="#8ebcd9" stroke="#a5a5a5" stroke-width="0.65"/>
<rect x="456.10" y="52.10" width="8.52" height="7.12" fill="#73a1cb" stroke="#a5a5a5" stroke-width="0.65"/>
<rect x="456.10" y="59.22" width="8.52" height="7.12" fill="#73a1cb" stroke="#a5a5a5" stroke-width="0.65"/>
<rect x="456.10" y="66.34" width="8.52" height="7.12" fill="#85b3d5" stroke="#a5a5a5" stroke-width="0.65"/>
<rect x="456.10" y="73.46" width="8.52" height="7.12" fill="#73a1cb" stroke="#a5a5a5" stroke-width="0.65"/>
<rect x="464.62" y="52.10" width="8.52" height="7.12" fill="#73a1cb" stroke="#a5a5a5" stroke-width="0.65"/>
<rect x="464.62" y="59.22" width="8.52" height="7.12" fill="#80afd2" stroke="#a5a5a5" stroke-width="0.65"/>
<rect x="464.62" y="66.34" width="8.52" height="7.12" fill="#89b8d7" stroke="#a5a5a5" stroke-width="0.65"/>
<rect x="464.62" y="73.46" width="8.52" height="7.12" fill="#85b3d5" stroke="#a5a5a5" stroke-width="0.65"/>
<rect x="473.14" y="52.10" width="8.52" height="7.12" fill="#f6fbd0" stroke="#a5a5a5" stroke-width="0.65"/>
<rect x="473.14" y="59.22" width="8.52" height="7.12" fill="#f6fbd0" stroke="#a5a5a5" stroke-width="0.65"/>
<rect x="473.14" y="66.34" width="8.52" height="7.12" fill="#f6fbd0" stroke="#a5a5a5" stroke-width="0.65"/>
<rect x="473.14" y="73.46" width="8.52" height="7.12" fill="#f8fccd" stroke="#a5a5a5" stroke-width="0.65"/>
<rect x="481.66" y="52.10" width="8.52" height="7.12" fill="#fdc57e" stroke="#a5a5a5" stroke-width="0.65"/>
<rect x="481.66" y="59.22" width="8.52" height="7.12" fill="#fede8f" stroke="#a5a5a5" stroke-width="0.65"/>
<rect x="481.66" y="66.34" width="8.52" height="7.12" fill="#fee598" stroke="#a5a5a5" stroke-width="0.65"/>
<rect x="481.66" y="73.46" width="8.52" height="7.12" fill="#fee192" stroke="#a5a5a5" stroke-width="0.65"/>
<rect x="490.18" y="52.10" width="8.52" height="7.12" fill="#fee99d" stroke="#a5a5a5" stroke-width="0.65"/>
<rect x="490.18" y="59.22" width="8.52" height="7.12" fill="#fee99d" stroke="#a5a5a5" stroke-width="0.65"/>
<rect x="490.18" y="66.34" width="8.52" height="7.12" fill="#feeca3" stroke="#a5a5a5" stroke-width="0.65"/>
<rect x="490.18" y="73.46" width="8.52" height="7.12" fill="#feeca3" stroke="#a5a5a5" stroke-width="0.65"/>
<rect x="498.70" y="52.10" width="8.52" height="7.12" fill="#fee99d" stroke="#a5a5a5" stroke-width="0.65"/>
<rect x="498.70" y="59.22" width="8.52" height="7.12" fill="#feeca3" stroke="#a5a5a5" stroke-width="0.65"/>
<rect x="498.70" y="66.34" width="8.52" height="7.12" fill="#fff6b1" stroke="#a5a5a5" stroke-width="0.65"/>
<rect x="498.70" y="73.46" width="8.52" height="7.12" fill="#feeca3" stroke="#a5a5a5" stroke-width="0.65"/>
<rect x="507.22" y="52.10" width="8.52" height="7.12" fill="#feeca3" stroke="#a5a5a5" stroke-width="0.65"/>
<rect x="507.22" y="59.22" width="8.52" height="7.12" fill="#fff4ae" stroke="#a5a5a5" stroke-width="0.65"/>
<rect x="507.22" y="66.34" width="8.52" height="7.12" fill="#fff4ae" stroke="#a5a5a5" stroke-width="0.65"/>
<rect x="507.22" y="73.46" width="8.52" height="7.12" fill="#fff4ae" stroke="#a5a5a5" stroke-width="0.65"/>
<rect x="328.30" y="89.60" width="8.52" height="7.12" fill="#fffbb9" stroke="#a5a5a5" stroke-width="0.65"/>
<rect x="328.30" y="96.72" width="8.52" height="7.12" fill="#fffbb9" stroke="#a5a5a5" stroke-width="0.65"/>
<rect x="328.30" y="103.84" width="8.52" height="7.12" fill="#f8fccd" stroke="#a5a5a5" stroke-width="0.65"/>
<rect x="328.30" y="110.96" width="8.52" height="7.12" fill="#fffbb9" stroke="#a5a5a5" stroke-width="0.65"/>
<rect x="336.82" y="89.60" width="8.52" height="7.12" fill="#8ebcd9" stroke="#a5a5a5" stroke-width="0.65"/>
<rect x="336.82" y="96.72" width="8.52" height="7.12" fill="#8ebcd9" stroke="#a5a5a5" stroke-width="0.65"/>
<rect x="336.82" y="103.84" width="8.52" height="7.12" fill="#8ebcd9" stroke="#a5a5a5" stroke-width="0.65"/>
<rect x="336.82" y="110.96" width="8.52" height="7.12" fill="#97c3dd" stroke="#a5a5a5" stroke-width="0.65"/>
<rect x="345.34" y="89.60" width="8.52" height="7.12" fill="#97c3dd" stroke="#a5a5a5" stroke-width="0.65"/>
<rect x="345.34" y="96.72" width="8.52" height="7.12" fill="#8ebcd9" stroke="#a5a5a5" stroke-width="0.65"/>
<rect x="345.34" y="103.84" width="8.52" height="7.12" fill="#8ebcd9" stroke="#a5a5a5" stroke-width="0.65"/>
<rect x="345.34" y="110.96" width="8.52" height="7.12" fill="#a1c9e1" stroke="#a5a5a5" stroke-width="0.65"/>
<rect x="353.86" y="89.60" width="8.52" height="7.12" fill="#a1c9e1" stroke="#a5a5a5" stroke-width="0.65"/>
<rect x="353.86" y="96.72" width="8.52" height="7.12" fill="#85b3d5" stroke="#a5a5a5" stroke-width="0.65"/>
<rect x="353.86" y="103.84" width="8.52" height="7.12" fill="#8ebcd9" stroke="#a5a5a5" stroke-width="0.65"/>
<rect x="353.86" y="110.96" width="8.52" height="7.12" fill="#93c0dc" stroke="#a5a5a5" stroke-width="0.65"/>
<rect x="362.38" y="89.60" width="8.52" height="7.12" fill="#80afd2" stroke="#a5a5a5" stroke-width="0.65"/>
<rect x="362.38" y="96.72" width="8.52" height="7.12" fill="#80afd2" stroke="#a5a5a5" stroke-width="0.65"/>
<rect x="362.38" y="103.84" width="8.52" height="7.12" fill="#85b3d5" stroke="#a5a5a5" stroke-width="0.65"/>
<rect x="362.38" y="110.96" width="8.52" height="7.12" fill="#85b3d5" stroke="#a5a5a5" stroke-width="0.65"/>
<rect x="370.90" y="89.60" width="8.52" height="7.12" fill="#73a1cb" stroke="#a5a5a5" stroke-width="0.65"/>
<rect x="370.90" y="96.72" width="8.52" height="7.12" fill="#77a6ce" stroke="#a5a5a5" stroke-width="0.65"/>
<rect x="370.90" y="103.84" width="8.52" height="7.12" fill="#73a1cb" stroke="#a5a5a5" stroke-width="0.65"/>
<rect x="370.90" y="110.96" width="8.52" height="7.12" fill="#7caad0" stroke="#a5a5a5" stroke-width="0.65"/>
<rect x="379.42" y="89.60" width="8.52" height="7.12" fill="#6090c2" stroke="#a5a5a5" stroke-width="0.65"/>
<rect x="379.42" y="96.72" width="8.52" height="7.12" fill="#6090c2" stroke="#a5a5a5" stroke-width="0.65"/>
<rect x="379.42" y="103.84" width="8.52" height="7.12" fill="#6090c2" stroke="#a5a5a5" stroke-width="0.65"/>
<rect x="379.42" y="110.96" width="8.52" height="7.12" fill="#6090c2" stroke="#a5a5a5" stroke-width="0.65"/>
<rect x="387.94" y="89.60" width="8.52" height="7.12" fill="#b4d6e8" stroke="#a5a5a5" stroke-width="0.65"/>
<rect x="387.94" y="96.72" width="8.52" height="7.12" fill="#c2dfed" stroke="#a5a5a5" stroke-width="0.65"/>
<rect x="387.94" y="103.84" width="8.52" height="7.12" fill="#c2dfed" stroke="#a5a5a5" stroke-width="0.65"/>
<rect x="387.94" y="110.96" width="8.52" height="7.12" fill="#c2dfed" stroke="#a5a5a5" stroke-width="0.65"/>
<rect x="396.46" y="89.60" width="8.52" height="7.12" fill="#a1c9e1" stroke="#a5a5a5" stroke-width="0.65"/>
<rect x="396.46" y="96.72" width="8.52" height="7.12" fill="#a1c9e1" stroke="#a5a5a5" stroke-width="0.65"/>
<rect x="396.46" y="103.84" width="8.52" height="7.12" fill="#a6cde3" stroke="#a5a5a5" stroke-width="0.65"/>
<rect x="396.46" y="110.96" width="8.52" height="7.12" fill="#7caad0" stroke="#a5a5a5" stroke-width="0.65"/>
<rect x="404.98" y="89.60" width="8.52" height="7.12" fill="#aad0e4" stroke="#a5a5a5" stroke-width="0.65"/>
<rect x="404.98" y="96.72" width="8.52" height="7.12" fill="#a1c9e1" stroke="#a5a5a5" stroke-width="0.65"/>
<rect x="404.98" y="103.84" width="8.52" height="7.12" fill="#aad0e4" stroke="#a5a5a5" stroke-width="0.65"/>
<rect x="404.98" y="110.96" width="8.52" height="7.12" fill="#97c3dd" stroke="#a5a5a5" stroke-width="0.65"/>
<rect x="413.50" y="89.60" width="8.52" height="7.12" fill="#97c3dd" stroke="#a5a5a5" stroke-width="0.65"/>
<rect x="413.50" y="96.72" width="8.52" height="7.12" fill="#a1c9e1" stroke="#a5a5a5" stroke-width="0.65"/>
<rect x="413.50" y="103.84" width="8.52" height="7.12" fill="#97c3dd" stroke="#a5a5a5" stroke-width="0.65"/>
<rect x="413.50" y="110.96" width="8.52" height="7.12" fill="#97c3dd" stroke="#a5a5a5" stroke-width="0.65"/>
<rect x="422.02" y="89.60" width="8.52" height="7.12" fill="#7caad0" stroke="#a5a5a5" stroke-width="0.65"/>
<rect x="422.02" y="96.72" width="8.52" height="7.12" fill="#7caad0" stroke="#a5a5a5" stroke-width="0.65"/>
<rect x="422.02" y="103.84" width="8.52" height="7.12" fill="#77a6ce" stroke="#a5a5a5" stroke-width="0.65"/>
<rect x="422.02" y="110.96" width="8.52" height="7.12" fill="#77a6ce" stroke="#a5a5a5" stroke-width="0.65"/>
<rect x="430.54" y="89.60" width="8.52" height="7.12" fill="#8ebcd9" stroke="#a5a5a5" stroke-width="0.65"/>
<rect x="430.54" y="96.72" width="8.52" height="7.12" fill="#80afd2" stroke="#a5a5a5" stroke-width="0.65"/>
<rect x="430.54" y="103.84" width="8.52" height="7.12" fill="#7caad0" stroke="#a5a5a5" stroke-width="0.65"/>
<rect x="430.54" y="110.96" width="8.52" height="7.12" fill="#89b8d7" stroke="#a5a5a5" stroke-width="0.65"/>
<rect x="439.06" y="89.60" width="8.52" height="7.12" fill="#aad0e4" stroke="#a5a5a5" stroke-width="0.65"/>
<rect x="439.06" y="96.72" width="8.52" height="7.12" fill="#afd3e6" stroke="#a5a5a5" stroke-width="0.65"/>
<rect x="439.06" y="103.84" width="8.52" height="7.12" fill="#b4d6e8" stroke="#a5a5a5" stroke-width="0.65"/>
<rect x="439.06" y="110.96" width="8.52" height="7.12" fill="#b4d6e8" stroke="#a5a5a5" stroke-width="0.65"/>
<rect x="447.58" y="89.60" width="8.52" height="7.12" fill="#93c0dc" stroke="#a5a5a5" stroke-width="0.65"/>
<rect x="447.58" y="96.72" width="8.52" height="7.12" fill="#a6cde3" stroke="#a5a5a5" stroke-width="0.65"/>
<rect x="447.58" y="103.84" width="8.52" height="7.12" fill="#97c3dd" stroke="#a5a5a5" stroke-width="0.65"/>
<rect x="447.58" y="110.96" width="8.52" height="7.12" fill="#97c3dd" stroke="#a5a5a5" stroke-width="0.65"/>
<rect x="456.10" y="89.60" width="8.52" height="7.12" fill="#73a1cb" stroke="#a5a5a5" stroke-width="0.65"/>
<rect x="456.10" y="96.72" width="8.52" height="7.12" fill="#73a1cb" stroke="#a5a5a5" stroke-width="0.65"/>
<rect x="456.10" y="103.84" width="8.52" height="7.12" fill="#6e9dc9" stroke="#a5a5a5" stroke-width="0.65"/>
<rect x="456.10" y="110.96" width="8.52" height="7.12" fill="#5382bb" stroke="#a5a5a5" stroke-width="0.65"/>
<rect x="464.62" y="89.60" width="8.52" height="7.12" fill="#93c0dc" stroke="#a5a5a5" stroke-width="0.65"/>
<rect x="464.62" y="96.72" width="8.52" height="7.12" fill="#93c0dc" stroke="#a5a5a5" stroke-width="0.65"/>
<rect x="464.62" y="103.84" width="8.52" height="7.12" fill="#93c0dc" stroke="#a5a5a5" stroke-width="0.65"/>
<rect x="464.62" y="110.96" width="8.52" height="7.12" fill="#93c0dc" stroke="#a5a5a5" stroke-width="0.65"/>
<rect x="473.14" y="89.60" width="8.52" height="7.12" fill="#fbfec6" stroke="#a5a5a5" stroke-width="0.65"/>
<rect x="473.14" y="96.72" width="8.52" height="7.12" fill="#fbfec6" stroke="#a5a5a5" stroke-width="0.65"/>
<rect x="473.14" y="103.84" width="8.52" height="7.12" fill="#ffffbf" stroke="#a5a5a5" stroke-width="0.65"/>
<rect x="473.14" y="110.96" width="8.52" height="7.12" fill="#ffffbf" stroke="#a5a5a5" stroke-width="0.65"/>
<rect x="481.66" y="89.60" width="8.52" height="7.12" fill="#fee598" stroke="#a5a5a5" stroke-width="0.65"/>
<rect x="481.66" y="96.72" width="8.52" height="7.12" fill="#fee395" stroke="#a5a5a5" stroke-width="0.65"/>
<rect x="481.66" y="103.84" width="8.52" height="7.12" fill="#fee99d" stroke="#a5a5a5" stroke-width="0.65"/>
<rect x="481.66" y="110.96" width="8.52" height="7.12" fill="#fee395" stroke="#a5a5a5" stroke-width="0.65"/>
<rect x="490.18" y="89.60" width="8.52" height="7.12" fill="#fff0a8" stroke="#a5a5a5" stroke-width="0.65"/>
<rect x="490.18" y="96.72" width="8.52" height="7.12" fill="#fff0a8" stroke="#a5a5a5" stroke-width="0.65"/>
<rect x="490.18" y="103.84" width="8.52" height="7.12" fill="#fff2ab" stroke="#a5a5a5" stroke-width="0.65"/>
<rect x="490.18" y="110.96" width="8.52" height="7.12" fill="#fff0a8" stroke="#a5a5a5" stroke-width="0.65"/>
<rect x="498.70" y="89.60" width="8.52" height="7.12" fill="#fff6b1" stroke="#a5a5a5" stroke-width="0.65"/>
<rect x="498.70" y="96.72" width="8.52" height="7.12" fill="#fff6b1" stroke="#a5a5a5" stroke-width="0.65"/>
<rect x="498.70" y="103.84" width="8.52" height="7.12" fill="#fff2ab" stroke="#a5a5a5" stroke-width="0.65"/>
<rect x="498.70" y="110.96" width="8.52" height="7.12" fill="#fff0a8" stroke="#a5a5a5" stroke-width="0.65"/>
<rect x="507.22" y="89.60" width="8.52" height="7.12" fill="#feeca3" stroke="#a5a5a5" stroke-width="0.65"/>
<rect x="507.22" y="96.72" width="8.52" height="7.12" fill="#fee79a" stroke="#a5a5a5" stroke-width="0.65"/>
<rect x="507.22" y="103.84" width="8.52" height="7.12" fill="#feeca3" stroke="#a5a5a5" stroke-width="0.65"/>
<rect x="507.22" y="110.96" width="8.52" height="7.12" fill="#feeca3" stroke="#a5a5a5" stroke-width="0.65"/>
<rect x="328.30" y="122.50" width="8.52" height="7.12" fill="#fbfec6" stroke="#a5a5a5" stroke-width="0.65"/>
<rect x="328.30" y="129.62" width="8.52" height="7.12" fill="#fbfec6" stroke="#a5a5a5" stroke-width="0.65"/>
<rect x="328.30" y="136.74" width="8.52" height="7.12" fill="#ffffbf" stroke="#a5a5a5" stroke-width="0.65"/>
<rect x="328.30" y="143.86" width="8.52" height="7.12" fill="#fffbb9" stroke="#a5a5a5" stroke-width="0.65"/>
<rect x="336.82" y="122.50" width="8.52" height="7.12" fill="#89b8d7" stroke="#a5a5a5" stroke-width="0.65"/>
<rect x="336.82" y="129.62" width="8.52" height="7.12" fill="#89b8d7" stroke="#a5a5a5" stroke-width="0.65"/>
<rect x="336.82" y="136.74" width="8.52" height="7.12" fill="#8ebcd9" stroke="#a5a5a5" stroke-width="0.65"/>
<rect x="336.82" y="143.86" width="8.52" height="7.12" fill="#8ebcd9" stroke="#a5a5a5" stroke-width="0.65"/>
<rect x="345.34" y="122.50" width="8.52" height="7.12" fill="#a1c9e1" stroke="#a5a5a5" stroke-width="0.65"/>
<rect x="345.34" y="129.62" width="8.52" height="7.12" fill="#a1c9e1" stroke="#a5a5a5" stroke-width="0.65"/>
<rect x="345.34" y="136.74" width="8.52" height="7.12" fill="#a1c9e1" stroke="#a5a5a5" stroke-width="0.65"/>
<rect x="345.34" y="143.86" width="8.52" height="7.12" fill="#97c3dd" stroke="#a5a5a5" stroke-width="0.65"/>
<rect x="353.86" y="122.50" width="8.52" height="7.12" fill="#93c0dc" stroke="#a5a5a5" stroke-width="0.65"/>
<rect x="353.86" y="129.62" width="8.52" height="7.12" fill="#93c0dc" stroke="#a5a5a5" stroke-width="0.65"/>
<rect x="353.86" y="136.74" width="8.52" height="7.12" fill="#93c0dc" stroke="#a5a5a5" stroke-width="0.65"/>
<rect x="353.86" y="143.86" width="8.52" height="7.12" fill="#93c0dc" stroke="#a5a5a5" stroke-width="0.65"/>
<rect x="362.38" y="122.50" width="8.52" height="7.12" fill="#80afd2" stroke="#a5a5a5" stroke-width="0.65"/>
<rect x="362.38" y="129.62" width="8.52" height="7.12" fill="#85b3d5" stroke="#a5a5a5" stroke-width="0.65"/>
<rect x="362.38" y="136.74" width="8.52" height="7.12" fill="#85b3d5" stroke="#a5a5a5" stroke-width="0.65"/>
<rect x="362.38" y="143.86" width="8.52" height="7.12" fill="#85b3d5" stroke="#a5a5a5" stroke-width="0.65"/>
<rect x="370.90" y="122.50" width="8.52" height="7.12" fill="#89b8d7" stroke="#a5a5a5" stroke-width="0.65"/>
<rect x="370.90" y="129.62" width="8.52" height="7.12" fill="#8ebcd9" stroke="#a5a5a5" stroke-width="0.65"/>
<rect x="370.90" y="136.74" width="8.52" height="7.12" fill="#85b3d5" stroke="#a5a5a5" stroke-width="0.65"/>
<rect x="370.90" y="143.86" width="8.52" height="7.12" fill="#85b3d5" stroke="#a5a5a5" stroke-width="0.65"/>
<rect x="379.42" y="122.50" width="8.52" height="7.12" fill="#6594c4" stroke="#a5a5a5" stroke-width="0.65"/>
<rect x="379.42" y="129.62" width="8.52" height="7.12" fill="#6594c4" stroke="#a5a5a5" stroke-width="0.65"/>
<rect x="379.42" y="136.74" width="8.52" height="7.12" fill="#6594c4" stroke="#a5a5a5" stroke-width="0.65"/>
<rect x="379.42" y="143.86" width="8.52" height="7.12" fill="#6594c4" stroke="#a5a5a5" stroke-width="0.65"/>
<rect x="387.94" y="122.50" width="8.52" height="7.12" fill="#c2dfed" stroke="#a5a5a5" stroke-width="0.65"/>
<rect x="387.94" y="129.62" width="8.52" height="7.12" fill="#b8d9ea" stroke="#a5a5a5" stroke-width="0.65"/>
<rect x="387.94" y="136.74" width="8.52" height="7.12" fill="#bddceb" stroke="#a5a5a5" stroke-width="0.65"/>
<rect x="387.94" y="143.86" width="8.52" height="7.12" fill="#c2dfed" stroke="#a5a5a5" stroke-width="0.65"/>
<rect x="396.46" y="122.50" width="8.52" height="7.12" fill="#97c3dd" stroke="#a5a5a5" stroke-width="0.65"/>
<rect x="396.46" y="129.62" width="8.52" height="7.12" fill="#aad0e4" stroke="#a5a5a5" stroke-width="0.65"/>
<rect x="396.46" y="136.74" width="8.52" height="7.12" fill="#a1c9e1" stroke="#a5a5a5" stroke-width="0.65"/>
<rect x="396.46" y="143.86" width="8.52" height="7.12" fill="#97c3dd" stroke="#a5a5a5" stroke-width="0.65"/>
<rect x="404.98" y="122.50" width="8.52" height="7.12" fill="#c7e2ef" stroke="#a5a5a5" stroke-width="0.65"/>
<rect x="404.98" y="129.62" width="8.52" height="7.12" fill="#bddceb" stroke="#a5a5a5" stroke-width="0.65"/>
<rect x="404.98" y="136.74" width="8.52" height="7.12" fill="#aad0e4" stroke="#a5a5a5" stroke-width="0.65"/>
<rect x="404.98" y="143.86" width="8.52" height="7.12" fill="#daeff6" stroke="#a5a5a5" stroke-width="0.65"/>
<rect x="413.50" y="122.50" width="8.52" height="7.12" fill="#93c0dc" stroke="#a5a5a5" stroke-width="0.65"/>
<rect x="413.50" y="129.62" width="8.52" height="7.12" fill="#8ebcd9" stroke="#a5a5a5" stroke-width="0.65"/>
<rect x="413.50" y="136.74" width="8.52" height="7.12" fill="#8ebcd9" stroke="#a5a5a5" stroke-width="0.65"/>
<rect x="413.50" y="143.86" width="8.52" height="7.12" fill="#93c0dc" stroke="#a5a5a5" stroke-width="0.65"/>
<rect x="422.02" y="122.50" width="8.52" height="7.12" fill="#73a1cb" stroke="#a5a5a5" stroke-width="0.65"/>
<rect x="422.02" y="129.62" width="8.52" height="7.12" fill="#7caad0" stroke="#a5a5a5" stroke-width="0.65"/>
<rect x="422.02" y="136.74" width="8.52" height="7.12" fill="#7caad0" stroke="#a5a5a5" stroke-width="0.65"/>
<rect x="422.02" y="143.86" width="8.52" height="7.12" fill="#73a1cb" stroke="#a5a5a5" stroke-width="0.65"/>
<rect x="430.54" y="122.50" width="8.52" height="7.12" fill="#80afd2" stroke="#a5a5a5" stroke-width="0.65"/>
<rect x="430.54" y="129.62" width="8.52" height="7.12" fill="#8ebcd9" stroke="#a5a5a5" stroke-width="0.65"/>
<rect x="430.54" y="136.74" width="8.52" height="7.12" fill="#80afd2" stroke="#a5a5a5" stroke-width="0.65"/>
<rect x="430.54" y="143.86" width="8.52" height="7.12" fill="#85b3d5" stroke="#a5a5a5" stroke-width="0.65"/>
<rect x="439.06" y="122.50" width="8.52" height="7.12" fill="#a6cde3" stroke="#a5a5a5" stroke-width="0.65"/>
<rect x="439.06" y="129.62" width="8.52" height="7.12" fill="#a1c9e1" stroke="#a5a5a5" stroke-width="0.65"/>
<rect x="439.06" y="136.74" width="8.52" height="7.12" fill="#aad0e4" stroke="#a5a5a5" stroke-width="0.65"/>
<rect x="439.06" y="143.86" width="8.52" height="7.12" fill="#a1c9e1" stroke="#a5a5a5" stroke-width="0.65"/>
<rect x="447.58" y="122.50" width="8.52" height="7.12" fill="#8ebcd9" stroke="#a5a5a5" stroke-width="0.65"/>
<rect x="447.58" y="129.62" width="8.52" height="7.12" fill="#8ebcd9" stroke="#a5a5a5" stroke-width="0.65"/>
<rect x="447.58" y="136.74" width="8.52" height="7.12" fill="#8ebcd9" stroke="#a5a5a5" stroke-width="0.65"/>
<rect x="447.58" y="143.86" width="8.52" height="7.12" fill="#8ebcd9" stroke="#a5a5a5" stroke-width="0.65"/>
<rect x="456.10" y="122.50" width="8.52" height="7.12" fill="#6999c7" stroke="#a5a5a5" stroke-width="0.65"/>
<rect x="456.10" y="129.62" width="8.52" height="7.12" fill="#85b3d5" stroke="#a5a5a5" stroke-width="0.65"/>
<rect x="456.10" y="136.74" width="8.52" height="7.12" fill="#85b3d5" stroke="#a5a5a5" stroke-width="0.65"/>
<rect x="456.10" y="143.86" width="8.52" height="7.12" fill="#7caad0" stroke="#a5a5a5" stroke-width="0.65"/>
<rect x="464.62" y="122.50" width="8.52" height="7.12" fill="#8ebcd9" stroke="#a5a5a5" stroke-width="0.65"/>
<rect x="464.62" y="129.62" width="8.52" height="7.12" fill="#8ebcd9" stroke="#a5a5a5" stroke-width="0.65"/>
<rect x="464.62" y="136.74" width="8.52" height="7.12" fill="#93c0dc" stroke="#a5a5a5" stroke-width="0.65"/>
<rect x="464.62" y="143.86" width="8.52" height="7.12" fill="#97c3dd" stroke="#a5a5a5" stroke-width="0.65"/>
<rect x="473.14" y="122.50" width="8.52" height="7.12" fill="#fdfec2" stroke="#a5a5a5" stroke-width="0.65"/>
<rect x="473.14" y="129.62" width="8.52" height="7.12" fill="#f6fbd0" stroke="#a5a5a5" stroke-width="0.65"/>
<rect x="473.14" y="136.74" width="8.52" height="7.12" fill="#f8fccd" stroke="#a5a5a5" stroke-width="0.65"/>
<rect x="473.14" y="143.86" width="8.52" height="7.12" fill="#f8fccd" stroke="#a5a5a5" stroke-width="0.65"/>
<rect x="481.66" y="122.50" width="8.52" height="7.12" fill="#fee395" stroke="#a5a5a5" stroke-width="0.65"/>
<rect x="481.66" y="129.62" width="8.52" height="7.12" fill="#fee598" stroke="#a5a5a5" stroke-width="0.65"/>
<rect x="481.66" y="136.74" width="8.52" height="7.12" fill="#fee598" stroke="#a5a5a5" stroke-width="0.65"/>
<rect x="481.66" y="143.86" width="8.52" height="7.12" fill="#fee192" stroke="#a5a5a5" stroke-width="0.65"/>
<rect x="490.18" y="122.50" width="8.52" height="7.12" fill="#feeca3" stroke="#a5a5a5" stroke-width="0.65"/>
<rect x="490.18" y="129.62" width="8.52" height="7.12" fill="#fff0a8" stroke="#a5a5a5" stroke-width="0.65"/>
<rect x="490.18" y="136.74" width="8.52" height="7.12" fill="#feeca3" stroke="#a5a5a5" stroke-width="0.65"/>
<rect x="490.18" y="143.86" width="8.52" height="7.12" fill="#fff0a8" stroke="#a5a5a5" stroke-width="0.65"/>
<rect x="498.70" y="122.50" width="8.52" height="7.12" fill="#fff0a8" stroke="#a5a5a5" stroke-width="0.65"/>
<rect x="498.70" y="129.62" width="8.52" height="7.12" fill="#feeca3" stroke="#a5a5a5" stroke-width="0.65"/>
<rect x="498.70" y="136.74" width="8.52" height="7.12" fill="#fff2ab" stroke="#a5a5a5" stroke-width="0.65"/>
<rect x="498.70" y="143.86" width="8.52" height="7.12" fill="#fff0a8" stroke="#a5a5a5" stroke-width="0.65"/>
<rect x="507.22" y="122.50" width="8.52" height="7.12" fill="#fff6b1" stroke="#a5a5a5" stroke-width="0.65"/>
<rect x="507.22" y="129.62" width="8.52" height="7.12" fill="#fff6b1" stroke="#a5a5a5" stroke-width="0.65"/>
<rect x="507.22" y="136.74" width="8.52" height="7.12" fill="#fff6b1" stroke="#a5a5a5" stroke-width="0.65"/>
<rect x="507.22" y="143.86" width="8.52" height="7.12" fill="#fff6b1" stroke="#a5a5a5" stroke-width="0.65"/>
<rect x="524.00" y="0.6" width="42.60" height="13.9" fill="#e8e8e8" stroke="#5a5a5a" stroke-width="0.9"/>
<text x="544.90" y="11.30" font-size="8.6" text-anchor="middle" fill="#1a1a1a" stroke="#1a1a1a" stroke-width="0.15">Regulation</text>
<rect x="524.00" y="19.20" width="8.52" height="7.12" fill="#f0f9da" stroke="#a5a5a5" stroke-width="0.65"/>
<rect x="524.00" y="26.32" width="8.52" height="7.12" fill="#f0f9da" stroke="#a5a5a5" stroke-width="0.65"/>
<rect x="524.00" y="33.44" width="8.52" height="7.12" fill="#f0f9da" stroke="#a5a5a5" stroke-width="0.65"/>
<rect x="524.00" y="40.56" width="8.52" height="7.12" fill="#f0f9da" stroke="#a5a5a5" stroke-width="0.65"/>
<rect x="532.52" y="19.20" width="8.52" height="7.12" fill="#fee99d" stroke="#a5a5a5" stroke-width="0.65"/>
<rect x="532.52" y="26.32" width="8.52" height="7.12" fill="#fee192" stroke="#a5a5a5" stroke-width="0.65"/>
<rect x="532.52" y="33.44" width="8.52" height="7.12" fill="#fee79a" stroke="#a5a5a5" stroke-width="0.65"/>
<rect x="532.52" y="40.56" width="8.52" height="7.12" fill="#fee99d" stroke="#a5a5a5" stroke-width="0.65"/>
<rect x="541.04" y="19.20" width="8.52" height="7.12" fill="#f4fbd4" stroke="#a5a5a5" stroke-width="0.65"/>
<rect x="541.04" y="26.32" width="8.52" height="7.12" fill="#ffffbf" stroke="#a5a5a5" stroke-width="0.65"/>
<rect x="541.04" y="33.44" width="8.52" height="7.12" fill="#f6fbd0" stroke="#a5a5a5" stroke-width="0.65"/>
<rect x="541.04" y="40.56" width="8.52" height="7.12" fill="#f6fbd0" stroke="#a5a5a5" stroke-width="0.65"/>
<rect x="549.56" y="19.20" width="8.52" height="7.12" fill="#fffbb9" stroke="#a5a5a5" stroke-width="0.65"/>
<rect x="549.56" y="26.32" width="8.52" height="7.12" fill="#fffbb9" stroke="#a5a5a5" stroke-width="0.65"/>
<rect x="549.56" y="33.44" width="8.52" height="7.12" fill="#fffbb9" stroke="#a5a5a5" stroke-width="0.65"/>
<rect x="549.56" y="40.56" width="8.52" height="7.12" fill="#ffffbf" stroke="#a5a5a5" stroke-width="0.65"/>
<rect x="558.08" y="19.20" width="8.52" height="7.12" fill="#feeca3" stroke="#a5a5a5" stroke-width="0.65"/>
<rect x="558.08" y="26.32" width="8.52" height="7.12" fill="#fff0a8" stroke="#a5a5a5" stroke-width="0.65"/>
<rect x="558.08" y="33.44" width="8.52" height="7.12" fill="#feeca3" stroke="#a5a5a5" stroke-width="0.65"/>
<rect x="558.08" y="40.56" width="8.52" height="7.12" fill="#feeca3" stroke="#a5a5a5" stroke-width="0.65"/>
<rect x="524.00" y="52.10" width="8.52" height="7.12" fill="#fff9b7" stroke="#a5a5a5" stroke-width="0.65"/>
<rect x="524.00" y="59.22" width="8.52" height="7.12" fill="#fffbb9" stroke="#a5a5a5" stroke-width="0.65"/>
<rect x="524.00" y="66.34" width="8.52" height="7.12" fill="#fbfec6" stroke="#a5a5a5" stroke-width="0.65"/>
<rect x="524.00" y="73.46" width="8.52" height="7.12" fill="#fffbb9" stroke="#a5a5a5" stroke-width="0.65"/>
<rect x="532.52" y="52.10" width="8.52" height="7.12" fill="#feeca3" stroke="#a5a5a5" stroke-width="0.65"/>
<rect x="532.52" y="59.22" width="8.52" height="7.12" fill="#feeca3" stroke="#a5a5a5" stroke-width="0.65"/>
<rect x="532.52" y="66.34" width="8.52" height="7.12" fill="#fff4ae" stroke="#a5a5a5" stroke-width="0.65"/>
<rect x="532.52" y="73.46" width="8.52" height="7.12" fill="#feeca3" stroke="#a5a5a5" stroke-width="0.65"/>
<rect x="541.04" y="52.10" width="8.52" height="7.12" fill="#fff0a8" stroke="#a5a5a5" stroke-width="0.65"/>
<rect x="541.04" y="59.22" width="8.52" height="7.12" fill="#fff6b1" stroke="#a5a5a5" stroke-width="0.65"/>
<rect x="541.04" y="66.34" width="8.52" height="7.12" fill="#fff9b7" stroke="#a5a5a5" stroke-width="0.65"/>
<rect x="541.04" y="73.46" width="8.52" height="7.12" fill="#fff0a8" stroke="#a5a5a5" stroke-width="0.65"/>
<rect x="549.56" y="52.10" width="8.52" height="7.12" fill="#fee99d" stroke="#a5a5a5" stroke-width="0.65"/>
<rect x="549.56" y="59.22" width="8.52" height="7.12" fill="#feeca3" stroke="#a5a5a5" stroke-width="0.65"/>
<rect x="549.56" y="66.34" width="8.52" height="7.12" fill="#fff6b1" stroke="#a5a5a5" stroke-width="0.65"/>
<rect x="549.56" y="73.46" width="8.52" height="7.12" fill="#feeca3" stroke="#a5a5a5" stroke-width="0.65"/>
<rect x="558.08" y="52.10" width="8.52" height="7.12" fill="#feeca3" stroke="#a5a5a5" stroke-width="0.65"/>
<rect x="558.08" y="59.22" width="8.52" height="7.12" fill="#fee99d" stroke="#a5a5a5" stroke-width="0.65"/>
<rect x="558.08" y="66.34" width="8.52" height="7.12" fill="#feeca3" stroke="#a5a5a5" stroke-width="0.65"/>
<rect x="558.08" y="73.46" width="8.52" height="7.12" fill="#fff0a8" stroke="#a5a5a5" stroke-width="0.65"/>
<rect x="524.00" y="89.60" width="8.52" height="7.12" fill="#ecf8e1" stroke="#a5a5a5" stroke-width="0.65"/>
<rect x="524.00" y="96.72" width="8.52" height="7.12" fill="#f0f9da" stroke="#a5a5a5" stroke-width="0.65"/>
<rect x="524.00" y="103.84" width="8.52" height="7.12" fill="#f2fad7" stroke="#a5a5a5" stroke-width="0.65"/>
<rect x="524.00" y="110.96" width="8.52" height="7.12" fill="#ecf8e1" stroke="#a5a5a5" stroke-width="0.65"/>
<rect x="532.52" y="89.60" width="8.52" height="7.12" fill="#fee79a" stroke="#a5a5a5" stroke-width="0.65"/>
<rect x="532.52" y="96.72" width="8.52" height="7.12" fill="#fee598" stroke="#a5a5a5" stroke-width="0.65"/>
<rect x="532.52" y="103.84" width="8.52" height="7.12" fill="#fee395" stroke="#a5a5a5" stroke-width="0.65"/>
<rect x="532.52" y="110.96" width="8.52" height="7.12" fill="#fee79a" stroke="#a5a5a5" stroke-width="0.65"/>
<rect x="541.04" y="89.60" width="8.52" height="7.12" fill="#f0f9da" stroke="#a5a5a5" stroke-width="0.65"/>
<rect x="541.04" y="96.72" width="8.52" height="7.12" fill="#ffffbf" stroke="#a5a5a5" stroke-width="0.65"/>
<rect x="541.04" y="103.84" width="8.52" height="7.12" fill="#f4fbd4" stroke="#a5a5a5" stroke-width="0.65"/>
<rect x="541.04" y="110.96" width="8.52" height="7.12" fill="#ffffbf" stroke="#a5a5a5" stroke-width="0.65"/>
<rect x="549.56" y="89.60" width="8.52" height="7.12" fill="#fffbb9" stroke="#a5a5a5" stroke-width="0.65"/>
<rect x="549.56" y="96.72" width="8.52" height="7.12" fill="#fffbb9" stroke="#a5a5a5" stroke-width="0.65"/>
<rect x="549.56" y="103.84" width="8.52" height="7.12" fill="#fbfec6" stroke="#a5a5a5" stroke-width="0.65"/>
<rect x="549.56" y="110.96" width="8.52" height="7.12" fill="#fbfec6" stroke="#a5a5a5" stroke-width="0.65"/>
<rect x="558.08" y="89.60" width="8.52" height="7.12" fill="#feeca3" stroke="#a5a5a5" stroke-width="0.65"/>
<rect x="558.08" y="96.72" width="8.52" height="7.12" fill="#feeca3" stroke="#a5a5a5" stroke-width="0.65"/>
<rect x="558.08" y="103.84" width="8.52" height="7.12" fill="#feeca3" stroke="#a5a5a5" stroke-width="0.65"/>
<rect x="558.08" y="110.96" width="8.52" height="7.12" fill="#feeca3" stroke="#a5a5a5" stroke-width="0.65"/>
<rect x="524.00" y="122.50" width="8.52" height="7.12" fill="#fbfec6" stroke="#a5a5a5" stroke-width="0.65"/>
<rect x="524.00" y="129.62" width="8.52" height="7.12" fill="#fbfec6" stroke="#a5a5a5" stroke-width="0.65"/>
<rect x="524.00" y="136.74" width="8.52" height="7.12" fill="#fbfec6" stroke="#a5a5a5" stroke-width="0.65"/>
<rect x="524.00" y="143.86" width="8.52" height="7.12" fill="#ffffbf" stroke="#a5a5a5" stroke-width="0.65"/>
<rect x="532.52" y="122.50" width="8.52" height="7.12" fill="#feeca3" stroke="#a5a5a5" stroke-width="0.65"/>
<rect x="532.52" y="129.62" width="8.52" height="7.12" fill="#feeca3" stroke="#a5a5a5" stroke-width="0.65"/>
<rect x="532.52" y="136.74" width="8.52" height="7.12" fill="#feeca3" stroke="#a5a5a5" stroke-width="0.65"/>
<rect x="532.52" y="143.86" width="8.52" height="7.12" fill="#feeca3" stroke="#a5a5a5" stroke-width="0.65"/>
<rect x="541.04" y="122.50" width="8.52" height="7.12" fill="#ffffbf" stroke="#a5a5a5" stroke-width="0.65"/>
<rect x="541.04" y="129.62" width="8.52" height="7.12" fill="#fbfec6" stroke="#a5a5a5" stroke-width="0.65"/>
<rect x="541.04" y="136.74" width="8.52" height="7.12" fill="#f8fccd" stroke="#a5a5a5" stroke-width="0.65"/>
<rect x="541.04" y="143.86" width="8.52" height="7.12" fill="#fffbb9" stroke="#a5a5a5" stroke-width="0.65"/>
<rect x="549.56" y="122.50" width="8.52" height="7.12" fill="#fff4ae" stroke="#a5a5a5" stroke-width="0.65"/>
<rect x="549.56" y="129.62" width="8.52" height="7.12" fill="#fff6b1" stroke="#a5a5a5" stroke-width="0.65"/>
<rect x="549.56" y="136.74" width="8.52" height="7.12" fill="#fff8b4" stroke="#a5a5a5" stroke-width="0.65"/>
<rect x="549.56" y="143.86" width="8.52" height="7.12" fill="#fff4ae" stroke="#a5a5a5" stroke-width="0.65"/>
<rect x="558.08" y="122.50" width="8.52" height="7.12" fill="#fff9b7" stroke="#a5a5a5" stroke-width="0.65"/>
<rect x="558.08" y="129.62" width="8.52" height="7.12" fill="#fffbb9" stroke="#a5a5a5" stroke-width="0.65"/>
<rect x="558.08" y="136.74" width="8.52" height="7.12" fill="#fff9b7" stroke="#a5a5a5" stroke-width="0.65"/>
<rect x="558.08" y="143.86" width="8.52" height="7.12" fill="#fff6b1" stroke="#a5a5a5" stroke-width="0.65"/>
<rect x="29.4" y="19.2" width="14.9" height="61.50" fill="#e8e8e8" stroke="#5a5a5a" stroke-width="0.9"/>
<text transform="translate(39.1,51.55) rotate(-90)" font-size="8.6" text-anchor="middle" fill="#1a1a1a" stroke="#1a1a1a" stroke-width="0.15">Low P</text>
<rect x="29.4" y="89.4" width="14.9" height="61.60" fill="#e8e8e8" stroke="#5a5a5a" stroke-width="0.9"/>
<text transform="translate(39.1,121.80) rotate(-90)" font-size="8.6" text-anchor="middle" fill="#1a1a1a" stroke="#1a1a1a" stroke-width="0.15">High P</text>
<text x="570.90" y="26.10" font-size="8.1" text-anchor="start" fill="#1a1a1a" stroke="#1a1a1a" stroke-width="0.22">RI</text>
<text x="585.60" y="26.10" font-size="8.1" text-anchor="start" fill="#1a1a1a" stroke="#1a1a1a" stroke-width="0.22">RA</text>
<text x="603.20" y="26.10" font-size="8.1" text-anchor="start" fill="#1a1a1a" stroke="#1a1a1a" stroke-width="0.22">1</text>
<line x1="579.90" x2="582.70" y1="19.00" y2="19.00" stroke="#1a1a1a" stroke-width="0.9"/>
<line x1="597.75" x2="600.85" y1="20.10" y2="20.10" stroke="#1a1a1a" stroke-width="0.9"/><line x1="599.30" x2="599.30" y1="18.55" y2="21.65" stroke="#1a1a1a" stroke-width="0.9"/>
<text x="570.90" y="33.22" font-size="8.1" text-anchor="start" fill="#1a1a1a" stroke="#1a1a1a" stroke-width="0.22">RI</text>
<text x="585.60" y="33.22" font-size="8.1" text-anchor="start" fill="#1a1a1a" stroke="#1a1a1a" stroke-width="0.22">RA</text>
<text x="603.20" y="33.22" font-size="8.1" text-anchor="start" fill="#1a1a1a" stroke="#1a1a1a" stroke-width="0.22">2</text>
<line x1="579.90" x2="582.70" y1="26.12" y2="26.12" stroke="#1a1a1a" stroke-width="0.9"/>
<line x1="597.75" x2="600.85" y1="27.22" y2="27.22" stroke="#1a1a1a" stroke-width="0.9"/><line x1="599.30" x2="599.30" y1="25.67" y2="28.77" stroke="#1a1a1a" stroke-width="0.9"/>
<text x="570.90" y="40.34" font-size="8.1" text-anchor="start" fill="#1a1a1a" stroke="#1a1a1a" stroke-width="0.22">RI</text>
<text x="585.60" y="40.34" font-size="8.1" text-anchor="start" fill="#1a1a1a" stroke="#1a1a1a" stroke-width="0.22">RA</text>
<text x="603.20" y="40.34" font-size="8.1" text-anchor="start" fill="#1a1a1a" stroke="#1a1a1a" stroke-width="0.22">3</text>
<line x1="579.90" x2="582.70" y1="33.24" y2="33.24" stroke="#1a1a1a" stroke-width="0.9"/>
<line x1="597.75" x2="600.85" y1="34.34" y2="34.34" stroke="#1a1a1a" stroke-width="0.9"/><line x1="599.30" x2="599.30" y1="32.79" y2="35.89" stroke="#1a1a1a" stroke-width="0.9"/>
<text x="570.90" y="47.46" font-size="8.1" text-anchor="start" fill="#1a1a1a" stroke="#1a1a1a" stroke-width="0.22">RI</text>
<text x="585.60" y="47.46" font-size="8.1" text-anchor="start" fill="#1a1a1a" stroke="#1a1a1a" stroke-width="0.22">RA</text>
<text x="603.20" y="47.46" font-size="8.1" text-anchor="start" fill="#1a1a1a" stroke="#1a1a1a" stroke-width="0.22">4</text>
<line x1="579.90" x2="582.70" y1="40.36" y2="40.36" stroke="#1a1a1a" stroke-width="0.9"/>
<line x1="597.75" x2="600.85" y1="41.46" y2="41.46" stroke="#1a1a1a" stroke-width="0.9"/><line x1="599.30" x2="599.30" y1="39.91" y2="43.01" stroke="#1a1a1a" stroke-width="0.9"/>
<text x="570.90" y="59.00" font-size="8.1" text-anchor="start" fill="#1a1a1a" stroke="#1a1a1a" stroke-width="0.22">RI</text>
<text x="585.60" y="59.00" font-size="8.1" text-anchor="start" fill="#1a1a1a" stroke="#1a1a1a" stroke-width="0.22">RA</text>
<text x="603.20" y="59.00" font-size="8.1" text-anchor="start" fill="#1a1a1a" stroke="#1a1a1a" stroke-width="0.22">1</text>
<line x1="579.75" x2="582.85" y1="53.00" y2="53.00" stroke="#1a1a1a" stroke-width="0.9"/><line x1="581.30" x2="581.30" y1="51.45" y2="54.55" stroke="#1a1a1a" stroke-width="0.9"/>
<line x1="597.75" x2="600.85" y1="53.00" y2="53.00" stroke="#1a1a1a" stroke-width="0.9"/><line x1="599.30" x2="599.30" y1="51.45" y2="54.55" stroke="#1a1a1a" stroke-width="0.9"/>
<text x="570.90" y="66.12" font-size="8.1" text-anchor="start" fill="#1a1a1a" stroke="#1a1a1a" stroke-width="0.22">RI</text>
<text x="585.60" y="66.12" font-size="8.1" text-anchor="start" fill="#1a1a1a" stroke="#1a1a1a" stroke-width="0.22">RA</text>
<text x="603.20" y="66.12" font-size="8.1" text-anchor="start" fill="#1a1a1a" stroke="#1a1a1a" stroke-width="0.22">2</text>
<line x1="579.75" x2="582.85" y1="60.12" y2="60.12" stroke="#1a1a1a" stroke-width="0.9"/><line x1="581.30" x2="581.30" y1="58.57" y2="61.67" stroke="#1a1a1a" stroke-width="0.9"/>
<line x1="597.75" x2="600.85" y1="60.12" y2="60.12" stroke="#1a1a1a" stroke-width="0.9"/><line x1="599.30" x2="599.30" y1="58.57" y2="61.67" stroke="#1a1a1a" stroke-width="0.9"/>
<text x="570.90" y="73.24" font-size="8.1" text-anchor="start" fill="#1a1a1a" stroke="#1a1a1a" stroke-width="0.22">RI</text>
<text x="585.60" y="73.24" font-size="8.1" text-anchor="start" fill="#1a1a1a" stroke="#1a1a1a" stroke-width="0.22">RA</text>
<text x="603.20" y="73.24" font-size="8.1" text-anchor="start" fill="#1a1a1a" stroke="#1a1a1a" stroke-width="0.22">3</text>
<line x1="579.75" x2="582.85" y1="67.24" y2="67.24" stroke="#1a1a1a" stroke-width="0.9"/><line x1="581.30" x2="581.30" y1="65.69" y2="68.79" stroke="#1a1a1a" stroke-width="0.9"/>
<line x1="597.75" x2="600.85" y1="67.24" y2="67.24" stroke="#1a1a1a" stroke-width="0.9"/><line x1="599.30" x2="599.30" y1="65.69" y2="68.79" stroke="#1a1a1a" stroke-width="0.9"/>
<text x="570.90" y="80.36" font-size="8.1" text-anchor="start" fill="#1a1a1a" stroke="#1a1a1a" stroke-width="0.22">RI</text>
<text x="585.60" y="80.36" font-size="8.1" text-anchor="start" fill="#1a1a1a" stroke="#1a1a1a" stroke-width="0.22">RA</text>
<text x="603.20" y="80.36" font-size="8.1" text-anchor="start" fill="#1a1a1a" stroke="#1a1a1a" stroke-width="0.22">4</text>
<line x1="579.75" x2="582.85" y1="74.36" y2="74.36" stroke="#1a1a1a" stroke-width="0.9"/><line x1="581.30" x2="581.30" y1="72.81" y2="75.91" stroke="#1a1a1a" stroke-width="0.9"/>
<line x1="597.75" x2="600.85" y1="74.36" y2="74.36" stroke="#1a1a1a" stroke-width="0.9"/><line x1="599.30" x2="599.30" y1="72.81" y2="75.91" stroke="#1a1a1a" stroke-width="0.9"/>
<text x="570.90" y="96.50" font-size="8.1" text-anchor="start" fill="#1a1a1a" stroke="#1a1a1a" stroke-width="0.22">RI</text>
<text x="585.60" y="96.50" font-size="8.1" text-anchor="start" fill="#1a1a1a" stroke="#1a1a1a" stroke-width="0.22">RA</text>
<text x="603.20" y="96.50" font-size="8.1" text-anchor="start" fill="#1a1a1a" stroke="#1a1a1a" stroke-width="0.22">1</text>
<line x1="579.90" x2="582.70" y1="89.40" y2="89.40" stroke="#1a1a1a" stroke-width="0.9"/>
<line x1="597.75" x2="600.85" y1="90.50" y2="90.50" stroke="#1a1a1a" stroke-width="0.9"/><line x1="599.30" x2="599.30" y1="88.95" y2="92.05" stroke="#1a1a1a" stroke-width="0.9"/>
<text x="570.90" y="103.62" font-size="8.1" text-anchor="start" fill="#1a1a1a" stroke="#1a1a1a" stroke-width="0.22">RI</text>
<text x="585.60" y="103.62" font-size="8.1" text-anchor="start" fill="#1a1a1a" stroke="#1a1a1a" stroke-width="0.22">RA</text>
<text x="603.20" y="103.62" font-size="8.1" text-anchor="start" fill="#1a1a1a" stroke="#1a1a1a" stroke-width="0.22">2</text>
<line x1="579.90" x2="582.70" y1="96.52" y2="96.52" stroke="#1a1a1a" stroke-width="0.9"/>
<line x1="597.75" x2="600.85" y1="97.62" y2="97.62" stroke="#1a1a1a" stroke-width="0.9"/><line x1="599.30" x2="599.30" y1="96.07" y2="99.17" stroke="#1a1a1a" stroke-width="0.9"/>
<text x="570.90" y="110.74" font-size="8.1" text-anchor="start" fill="#1a1a1a" stroke="#1a1a1a" stroke-width="0.22">RI</text>
<text x="585.60" y="110.74" font-size="8.1" text-anchor="start" fill="#1a1a1a" stroke="#1a1a1a" stroke-width="0.22">RA</text>
<text x="603.20" y="110.74" font-size="8.1" text-anchor="start" fill="#1a1a1a" stroke="#1a1a1a" stroke-width="0.22">3</text>
<line x1="579.90" x2="582.70" y1="103.64" y2="103.64" stroke="#1a1a1a" stroke-width="0.9"/>
<line x1="597.75" x2="600.85" y1="104.74" y2="104.74" stroke="#1a1a1a" stroke-width="0.9"/><line x1="599.30" x2="599.30" y1="103.19" y2="106.29" stroke="#1a1a1a" stroke-width="0.9"/>
<text x="570.90" y="117.86" font-size="8.1" text-anchor="start" fill="#1a1a1a" stroke="#1a1a1a" stroke-width="0.22">RI</text>
<text x="585.60" y="117.86" font-size="8.1" text-anchor="start" fill="#1a1a1a" stroke="#1a1a1a" stroke-width="0.22">RA</text>
<text x="603.20" y="117.86" font-size="8.1" text-anchor="start" fill="#1a1a1a" stroke="#1a1a1a" stroke-width="0.22">4</text>
<line x1="579.90" x2="582.70" y1="110.76" y2="110.76" stroke="#1a1a1a" stroke-width="0.9"/>
<line x1="597.75" x2="600.85" y1="111.86" y2="111.86" stroke="#1a1a1a" stroke-width="0.9"/><line x1="599.30" x2="599.30" y1="110.31" y2="113.41" stroke="#1a1a1a" stroke-width="0.9"/>
<text x="570.90" y="129.40" font-size="8.1" text-anchor="start" fill="#1a1a1a" stroke="#1a1a1a" stroke-width="0.22">RI</text>
<text x="585.60" y="129.40" font-size="8.1" text-anchor="start" fill="#1a1a1a" stroke="#1a1a1a" stroke-width="0.22">RA</text>
<text x="603.20" y="129.40" font-size="8.1" text-anchor="start" fill="#1a1a1a" stroke="#1a1a1a" stroke-width="0.22">1</text>
<line x1="579.75" x2="582.85" y1="123.40" y2="123.40" stroke="#1a1a1a" stroke-width="0.9"/><line x1="581.30" x2="581.30" y1="121.85" y2="124.95" stroke="#1a1a1a" stroke-width="0.9"/>
<line x1="597.75" x2="600.85" y1="123.40" y2="123.40" stroke="#1a1a1a" stroke-width="0.9"/><line x1="599.30" x2="599.30" y1="121.85" y2="124.95" stroke="#1a1a1a" stroke-width="0.9"/>
<text x="570.90" y="136.52" font-size="8.1" text-anchor="start" fill="#1a1a1a" stroke="#1a1a1a" stroke-width="0.22">RI</text>
<text x="585.60" y="136.52" font-size="8.1" text-anchor="start" fill="#1a1a1a" stroke="#1a1a1a" stroke-width="0.22">RA</text>
<text x="603.20" y="136.52" font-size="8.1" text-anchor="start" fill="#1a1a1a" stroke="#1a1a1a" stroke-width="0.22">2</text>
<line x1="579.75" x2="582.85" y1="130.52" y2="130.52" stroke="#1a1a1a" stroke-width="0.9"/><line x1="581.30" x2="581.30" y1="128.97" y2="132.07" stroke="#1a1a1a" stroke-width="0.9"/>
<line x1="597.75" x2="600.85" y1="130.52" y2="130.52" stroke="#1a1a1a" stroke-width="0.9"/><line x1="599.30" x2="599.30" y1="128.97" y2="132.07" stroke="#1a1a1a" stroke-width="0.9"/>
<text x="570.90" y="143.64" font-size="8.1" text-anchor="start" fill="#1a1a1a" stroke="#1a1a1a" stroke-width="0.22">RI</text>
<text x="585.60" y="143.64" font-size="8.1" text-anchor="start" fill="#1a1a1a" stroke="#1a1a1a" stroke-width="0.22">RA</text>
<text x="603.20" y="143.64" font-size="8.1" text-anchor="start" fill="#1a1a1a" stroke="#1a1a1a" stroke-width="0.22">3</text>
<line x1="579.75" x2="582.85" y1="137.64" y2="137.64" stroke="#1a1a1a" stroke-width="0.9"/><line x1="581.30" x2="581.30" y1="136.09" y2="139.19" stroke="#1a1a1a" stroke-width="0.9"/>
<line x1="597.75" x2="600.85" y1="137.64" y2="137.64" stroke="#1a1a1a" stroke-width="0.9"/><line x1="599.30" x2="599.30" y1="136.09" y2="139.19" stroke="#1a1a1a" stroke-width="0.9"/>
<text x="570.90" y="150.76" font-size="8.1" text-anchor="start" fill="#1a1a1a" stroke="#1a1a1a" stroke-width="0.22">RI</text>
<text x="585.60" y="150.76" font-size="8.1" text-anchor="start" fill="#1a1a1a" stroke="#1a1a1a" stroke-width="0.22">RA</text>
<text x="603.20" y="150.76" font-size="8.1" text-anchor="start" fill="#1a1a1a" stroke="#1a1a1a" stroke-width="0.22">4</text>
<line x1="579.75" x2="582.85" y1="144.76" y2="144.76" stroke="#1a1a1a" stroke-width="0.9"/><line x1="581.30" x2="581.30" y1="143.21" y2="146.31" stroke="#1a1a1a" stroke-width="0.9"/>
<line x1="597.75" x2="600.85" y1="144.76" y2="144.76" stroke="#1a1a1a" stroke-width="0.9"/><line x1="599.30" x2="599.30" y1="143.21" y2="146.31" stroke="#1a1a1a" stroke-width="0.9"/>
<text x="651.50" y="37.20" font-size="7.6" text-anchor="middle" fill="#1a1a1a" >Variance Stabilized</text>
<text x="651.50" y="46.20" font-size="7.6" text-anchor="middle" fill="#1a1a1a" >Counts</text>
<defs><linearGradient id="cb" x1="0" y1="0" x2="0" y2="1"><stop offset="0.0000" stop-color="#d73027"/><stop offset="0.1667" stop-color="#fc8d59"/><stop offset="0.3333" stop-color="#fee090"/><stop offset="0.5000" stop-color="#ffffbf"/><stop offset="0.6667" stop-color="#e0f3f8"/><stop offset="0.8333" stop-color="#91bfdb"/><stop offset="1.0000" stop-color="#4575b4"/></linearGradient></defs>
<rect x="644.7" y="55.9" width="6.2" height="88.1" fill="url(#cb)"/>
<text x="652.90" y="66.20" font-size="8.3" text-anchor="start" fill="#1a1a1a" >15</text>
<text x="652.90" y="84.90" font-size="8.3" text-anchor="start" fill="#1a1a1a" >13</text>
<text x="652.90" y="103.20" font-size="8.3" text-anchor="start" fill="#1a1a1a" >9</text>
<text x="652.90" y="122.30" font-size="8.3" text-anchor="start" fill="#1a1a1a" >7</text>
<text x="652.90" y="141.10" font-size="8.3" text-anchor="start" fill="#1a1a1a" >5</text>
<rect x="46.6" y="162.2" width="522.5" height="35.2" fill="#fff" stroke="#8a8a8a" stroke-width="1.0"/>
<line x1="156.5" x2="156.5" y1="162.2" y2="197.4" stroke="#7a7a7a" stroke-width="0.9"/>
<line x1="325.6" x2="325.6" y1="162.2" y2="197.4" stroke="#7a7a7a" stroke-width="0.9"/>
<line x1="520.4" x2="520.4" y1="162.2" y2="197.4" stroke="#7a7a7a" stroke-width="0.9"/>
<circle cx="53.20" cy="172.0" r="3.8" fill="#26bfd4" stroke="#3a3a3a" stroke-width="0.7"/>
<circle cx="61.69" cy="172.0" r="3.8" fill="#ffffff" stroke="#3a3a3a" stroke-width="0.7"/>
<circle cx="70.18" cy="172.0" r="3.8" fill="#26bfd4" stroke="#3a3a3a" stroke-width="0.7"/>
<circle cx="78.67" cy="172.0" r="3.8" fill="#ffffff" stroke="#3a3a3a" stroke-width="0.7"/>
<circle cx="87.16" cy="172.0" r="3.8" fill="#26bfd4" stroke="#3a3a3a" stroke-width="0.7"/>
<circle cx="95.65" cy="172.0" r="3.8" fill="#26bfd4" stroke="#3a3a3a" stroke-width="0.7"/>
<circle cx="104.14" cy="172.0" r="3.8" fill="#ffffff" stroke="#3a3a3a" stroke-width="0.7"/>
<circle cx="112.63" cy="172.0" r="3.8" fill="#26bfd4" stroke="#3a3a3a" stroke-width="0.7"/>
<circle cx="121.12" cy="172.0" r="3.8" fill="#26bfd4" stroke="#3a3a3a" stroke-width="0.7"/>
<circle cx="129.61" cy="172.0" r="3.8" fill="#ffffff" stroke="#3a3a3a" stroke-width="0.7"/>
<circle cx="138.10" cy="172.0" r="3.8" fill="#26bfd4" stroke="#3a3a3a" stroke-width="0.7"/>
<circle cx="146.59" cy="172.0" r="3.8" fill="#26bfd4" stroke="#3a3a3a" stroke-width="0.7"/>
<circle cx="53.20" cy="187.9" r="3.8" fill="#26bfd4" stroke="#3a3a3a" stroke-width="0.7"/>
<circle cx="61.69" cy="187.9" r="3.8" fill="#f26b5b" stroke="#3a3a3a" stroke-width="0.7"/>
<circle cx="70.18" cy="187.9" r="3.8" fill="#26bfd4" stroke="#3a3a3a" stroke-width="0.7"/>
<circle cx="78.67" cy="187.9" r="3.8" fill="#ffffff" stroke="#3a3a3a" stroke-width="0.7"/>
<circle cx="87.16" cy="187.9" r="3.8" fill="#26bfd4" stroke="#3a3a3a" stroke-width="0.7"/>
<circle cx="95.65" cy="187.9" r="3.8" fill="#ffffff" stroke="#3a3a3a" stroke-width="0.7"/>
<circle cx="104.14" cy="187.9" r="3.8" fill="#ffffff" stroke="#3a3a3a" stroke-width="0.7"/>
<circle cx="112.63" cy="187.9" r="3.8" fill="#26bfd4" stroke="#3a3a3a" stroke-width="0.7"/>
<circle cx="121.12" cy="187.9" r="3.8" fill="#26bfd4" stroke="#3a3a3a" stroke-width="0.7"/>
<circle cx="129.61" cy="187.9" r="3.8" fill="#26bfd4" stroke="#3a3a3a" stroke-width="0.7"/>
<circle cx="138.10" cy="187.9" r="3.8" fill="#26bfd4" stroke="#3a3a3a" stroke-width="0.7"/>
<circle cx="146.59" cy="187.9" r="3.8" fill="#26bfd4" stroke="#3a3a3a" stroke-width="0.7"/>
<line x1="53.20" x2="53.20" y1="197.7" y2="199.8" stroke="#444" stroke-width="0.6"/>
<text transform="translate(56.40,207.30) rotate(-45)" font-size="7.9" text-anchor="end" fill="#1a1a1a">gcd</text>
<line x1="61.69" x2="61.69" y1="197.7" y2="199.8" stroke="#444" stroke-width="0.6"/>
<text transform="translate(64.89,207.30) rotate(-45)" font-size="7.9" text-anchor="end" fill="#1a1a1a">ppa</text>
<line x1="70.18" x2="70.18" y1="197.7" y2="199.8" stroke="#444" stroke-width="0.6"/>
<text transform="translate(73.38,207.30) rotate(-45)" font-size="7.9" text-anchor="end" fill="#1a1a1a">ppk</text>
<line x1="78.67" x2="78.67" y1="197.7" y2="199.8" stroke="#444" stroke-width="0.6"/>
<text transform="translate(81.87,207.30) rotate(-45)" font-size="7.9" text-anchor="end" fill="#1a1a1a">ppx1</text>
<line x1="87.16" x2="87.16" y1="197.7" y2="199.8" stroke="#444" stroke-width="0.6"/>
<text transform="translate(90.36,207.30) rotate(-45)" font-size="7.9" text-anchor="end" fill="#1a1a1a">ppx2</text>
<line x1="95.65" x2="95.65" y1="197.7" y2="199.8" stroke="#444" stroke-width="0.6"/>
<text transform="translate(98.85,207.30) rotate(-45)" font-size="7.9" text-anchor="end" fill="#1a1a1a">ppx3</text>
<line x1="104.14" x2="104.14" y1="197.7" y2="199.8" stroke="#444" stroke-width="0.6"/>
<text transform="translate(107.34,207.30) rotate(-45)" font-size="7.9" text-anchor="end" fill="#1a1a1a">pqqA</text>
<line x1="112.63" x2="112.63" y1="197.7" y2="199.8" stroke="#444" stroke-width="0.6"/>
<text transform="translate(115.83,207.30) rotate(-45)" font-size="7.9" text-anchor="end" fill="#1a1a1a">pqqB</text>
<line x1="121.12" x2="121.12" y1="197.7" y2="199.8" stroke="#444" stroke-width="0.6"/>
<text transform="translate(124.32,207.30) rotate(-45)" font-size="7.9" text-anchor="end" fill="#1a1a1a">pqqC</text>
<line x1="129.61" x2="129.61" y1="197.7" y2="199.8" stroke="#444" stroke-width="0.6"/>
<text transform="translate(132.81,207.30) rotate(-45)" font-size="7.9" text-anchor="end" fill="#1a1a1a">pqqD</text>
<line x1="138.10" x2="138.10" y1="197.7" y2="199.8" stroke="#444" stroke-width="0.6"/>
<text transform="translate(141.30,207.30) rotate(-45)" font-size="7.9" text-anchor="end" fill="#1a1a1a">pqqE</text>
<line x1="146.59" x2="146.59" y1="197.7" y2="199.8" stroke="#444" stroke-width="0.6"/>
<text transform="translate(149.79,207.30) rotate(-45)" font-size="7.9" text-anchor="end" fill="#1a1a1a">pqqF</text>
<circle cx="164.10" cy="172.0" r="3.8" fill="#f26b5b" stroke="#3a3a3a" stroke-width="0.7"/>
<circle cx="172.57" cy="172.0" r="3.8" fill="#ffffff" stroke="#3a3a3a" stroke-width="0.7"/>
<circle cx="181.03" cy="172.0" r="3.8" fill="#f26b5b" stroke="#3a3a3a" stroke-width="0.7"/>
<circle cx="189.50" cy="172.0" r="3.8" fill="#ffffff" stroke="#3a3a3a" stroke-width="0.7"/>
<circle cx="197.97" cy="172.0" r="3.8" fill="#ffffff" stroke="#3a3a3a" stroke-width="0.7"/>
<circle cx="206.44" cy="172.0" r="3.8" fill="#ffffff" stroke="#3a3a3a" stroke-width="0.7"/>
<circle cx="214.90" cy="172.0" r="3.8" fill="#ffffff" stroke="#3a3a3a" stroke-width="0.7"/>
<circle cx="223.37" cy="172.0" r="3.8" fill="#ffffff" stroke="#3a3a3a" stroke-width="0.7"/>
<circle cx="231.84" cy="172.0" r="3.8" fill="#ffffff" stroke="#3a3a3a" stroke-width="0.7"/>
<circle cx="240.30" cy="172.0" r="3.8" fill="#ffffff" stroke="#3a3a3a" stroke-width="0.7"/>
<circle cx="248.77" cy="172.0" r="3.8" fill="#ffffff" stroke="#3a3a3a" stroke-width="0.7"/>
<circle cx="257.24" cy="172.0" r="3.8" fill="#ffffff" stroke="#3a3a3a" stroke-width="0.7"/>
<circle cx="265.70" cy="172.0" r="3.8" fill="#ffffff" stroke="#3a3a3a" stroke-width="0.7"/>
<circle cx="274.17" cy="172.0" r="3.8" fill="#ffffff" stroke="#3a3a3a" stroke-width="0.7"/>
<circle cx="282.64" cy="172.0" r="3.8" fill="#f26b5b" stroke="#3a3a3a" stroke-width="0.7"/>
<circle cx="291.11" cy="172.0" r="3.8" fill="#ffffff" stroke="#3a3a3a" stroke-width="0.7"/>
<circle cx="299.57" cy="172.0" r="3.8" fill="#f26b5b" stroke="#3a3a3a" stroke-width="0.7"/>
<circle cx="308.04" cy="172.0" r="3.8" fill="#f26b5b" stroke="#3a3a3a" stroke-width="0.7"/>
<circle cx="316.51" cy="172.0" r="3.8" fill="#f26b5b" stroke="#3a3a3a" stroke-width="0.7"/>
<circle cx="164.10" cy="187.9" r="3.8" fill="#f26b5b" stroke="#3a3a3a" stroke-width="0.7"/>
<circle cx="172.57" cy="187.9" r="3.8" fill="#ffffff" stroke="#3a3a3a" stroke-width="0.7"/>
<circle cx="181.03" cy="187.9" r="3.8" fill="#f26b5b" stroke="#3a3a3a" stroke-width="0.7"/>
<circle cx="189.50" cy="187.9" r="3.8" fill="#ffffff" stroke="#3a3a3a" stroke-width="0.7"/>
<circle cx="197.97" cy="187.9" r="3.8" fill="#26bfd4" stroke="#3a3a3a" stroke-width="0.7"/>
<circle cx="206.44" cy="187.9" r="3.8" fill="#ffffff" stroke="#3a3a3a" stroke-width="0.7"/>
<circle cx="214.90" cy="187.9" r="3.8" fill="#ffffff" stroke="#3a3a3a" stroke-width="0.7"/>
<circle cx="223.37" cy="187.9" r="3.8" fill="#ffffff" stroke="#3a3a3a" stroke-width="0.7"/>
<circle cx="231.84" cy="187.9" r="3.8" fill="#ffffff" stroke="#3a3a3a" stroke-width="0.7"/>
<circle cx="240.30" cy="187.9" r="3.8" fill="#ffffff" stroke="#3a3a3a" stroke-width="0.7"/>
<circle cx="248.77" cy="187.9" r="3.8" fill="#ffffff" stroke="#3a3a3a" stroke-width="0.7"/>
<circle cx="257.24" cy="187.9" r="3.8" fill="#ffffff" stroke="#3a3a3a" stroke-width="0.7"/>
<circle cx="265.70" cy="187.9" r="3.8" fill="#ffffff" stroke="#3a3a3a" stroke-width="0.7"/>
<circle cx="274.17" cy="187.9" r="3.8" fill="#ffffff" stroke="#3a3a3a" stroke-width="0.7"/>
<circle cx="282.64" cy="187.9" r="3.8" fill="#ffffff" stroke="#3a3a3a" stroke-width="0.7"/>
<circle cx="291.11" cy="187.9" r="3.8" fill="#ffffff" stroke="#3a3a3a" stroke-width="0.7"/>
<circle cx="299.57" cy="187.9" r="3.8" fill="#f26b5b" stroke="#3a3a3a" stroke-width="0.7"/>
<circle cx="308.04" cy="187.9" r="3.8" fill="#f26b5b" stroke="#3a3a3a" stroke-width="0.7"/>
<circle cx="316.51" cy="187.9" r="3.8" fill="#f26b5b" stroke="#3a3a3a" stroke-width="0.7"/>
<line x1="164.10" x2="164.10" y1="197.7" y2="199.8" stroke="#444" stroke-width="0.6"/>
<text transform="translate(167.30,207.30) rotate(-45)" font-size="7.9" text-anchor="end" fill="#1a1a1a">phy</text>
<line x1="172.57" x2="172.57" y1="197.7" y2="199.8" stroke="#444" stroke-width="0.6"/>
<text transform="translate(175.77,207.30) rotate(-45)" font-size="7.9" text-anchor="end" fill="#1a1a1a">aphA</text>
<line x1="181.03" x2="181.03" y1="197.7" y2="199.8" stroke="#444" stroke-width="0.6"/>
<text transform="translate(184.23,207.30) rotate(-45)" font-size="7.9" text-anchor="end" fill="#1a1a1a">lmp1</text>
<line x1="189.50" x2="189.50" y1="197.7" y2="199.8" stroke="#444" stroke-width="0.6"/>
<text transform="translate(192.70,207.30) rotate(-45)" font-size="7.9" text-anchor="end" fill="#1a1a1a">lmp2</text>
<line x1="197.97" x2="197.97" y1="197.7" y2="199.8" stroke="#444" stroke-width="0.6"/>
<text transform="translate(201.17,207.30) rotate(-45)" font-size="7.9" text-anchor="end" fill="#1a1a1a">Mpp</text>
<line x1="206.44" x2="206.44" y1="197.7" y2="199.8" stroke="#444" stroke-width="0.6"/>
<text transform="translate(209.63,207.30) rotate(-45)" font-size="7.9" text-anchor="end" fill="#1a1a1a">ugpQ</text>
<line x1="214.90" x2="214.90" y1="197.7" y2="199.8" stroke="#444" stroke-width="0.6"/>
<text transform="translate(218.10,207.30) rotate(-45)" font-size="7.9" text-anchor="end" fill="#1a1a1a">phnA</text>
<line x1="223.37" x2="223.37" y1="197.7" y2="199.8" stroke="#444" stroke-width="0.6"/>
<text transform="translate(226.57,207.30) rotate(-45)" font-size="7.9" text-anchor="end" fill="#1a1a1a">phnF</text>
<line x1="231.84" x2="231.84" y1="197.7" y2="199.8" stroke="#444" stroke-width="0.6"/>
<text transform="translate(235.04,207.30) rotate(-45)" font-size="7.9" text-anchor="end" fill="#1a1a1a">phnG</text>
<line x1="240.30" x2="240.30" y1="197.7" y2="199.8" stroke="#444" stroke-width="0.6"/>
<text transform="translate(243.50,207.30) rotate(-45)" font-size="7.9" text-anchor="end" fill="#1a1a1a">phnH</text>
<line x1="248.77" x2="248.77" y1="197.7" y2="199.8" stroke="#444" stroke-width="0.6"/>
<text transform="translate(251.97,207.30) rotate(-45)" font-size="7.9" text-anchor="end" fill="#1a1a1a">phnI</text>
<line x1="257.24" x2="257.24" y1="197.7" y2="199.8" stroke="#444" stroke-width="0.6"/>
<text transform="translate(260.44,207.30) rotate(-45)" font-size="7.9" text-anchor="end" fill="#1a1a1a">phnJ</text>
<line x1="265.70" x2="265.70" y1="197.7" y2="199.8" stroke="#444" stroke-width="0.6"/>
<text transform="translate(268.90,207.30) rotate(-45)" font-size="7.9" text-anchor="end" fill="#1a1a1a">phnK</text>
<line x1="274.17" x2="274.17" y1="197.7" y2="199.8" stroke="#444" stroke-width="0.6"/>
<text transform="translate(277.37,207.30) rotate(-45)" font-size="7.9" text-anchor="end" fill="#1a1a1a">phnL</text>
<line x1="282.64" x2="282.64" y1="197.7" y2="199.8" stroke="#444" stroke-width="0.6"/>
<text transform="translate(285.84,207.30) rotate(-45)" font-size="7.9" text-anchor="end" fill="#1a1a1a">phnM</text>
<line x1="291.11" x2="291.11" y1="197.7" y2="199.8" stroke="#444" stroke-width="0.6"/>
<text transform="translate(294.31,207.30) rotate(-45)" font-size="7.9" text-anchor="end" fill="#1a1a1a">phnN</text>
<line x1="299.57" x2="299.57" y1="197.7" y2="199.8" stroke="#444" stroke-width="0.6"/>
<text transform="translate(302.77,207.30) rotate(-45)" font-size="7.9" text-anchor="end" fill="#1a1a1a">phoA</text>
<line x1="308.04" x2="308.04" y1="197.7" y2="199.8" stroke="#444" stroke-width="0.6"/>
<text transform="translate(311.24,207.30) rotate(-45)" font-size="7.9" text-anchor="end" fill="#1a1a1a">phoN1</text>
<line x1="316.51" x2="316.51" y1="197.7" y2="199.8" stroke="#444" stroke-width="0.6"/>
<text transform="translate(319.71,207.30) rotate(-45)" font-size="7.9" text-anchor="end" fill="#1a1a1a">phoN2</text>
<circle cx="332.90" cy="172.0" r="3.8" fill="#f26b5b" stroke="#3a3a3a" stroke-width="0.7"/>
<circle cx="341.35" cy="172.0" r="3.8" fill="#ffffff" stroke="#3a3a3a" stroke-width="0.7"/>
<circle cx="349.80" cy="172.0" r="3.8" fill="#f26b5b" stroke="#3a3a3a" stroke-width="0.7"/>
<circle cx="358.25" cy="172.0" r="3.8" fill="#ffffff" stroke="#3a3a3a" stroke-width="0.7"/>
<circle cx="366.70" cy="172.0" r="3.8" fill="#ffffff" stroke="#3a3a3a" stroke-width="0.7"/>
<circle cx="375.15" cy="172.0" r="3.8" fill="#ffffff" stroke="#3a3a3a" stroke-width="0.7"/>
<circle cx="383.60" cy="172.0" r="3.8" fill="#ffffff" stroke="#3a3a3a" stroke-width="0.7"/>
<circle cx="392.05" cy="172.0" r="3.8" fill="#f26b5b" stroke="#3a3a3a" stroke-width="0.7"/>
<circle cx="400.50" cy="172.0" r="3.8" fill="#ffffff" stroke="#3a3a3a" stroke-width="0.7"/>
<circle cx="408.95" cy="172.0" r="3.8" fill="#ffffff" stroke="#3a3a3a" stroke-width="0.7"/>
<circle cx="417.40" cy="172.0" r="3.8" fill="#ffffff" stroke="#3a3a3a" stroke-width="0.7"/>
<circle cx="425.85" cy="172.0" r="3.8" fill="#ffffff" stroke="#3a3a3a" stroke-width="0.7"/>
<circle cx="434.30" cy="172.0" r="3.8" fill="#f26b5b" stroke="#3a3a3a" stroke-width="0.7"/>
<circle cx="442.75" cy="172.0" r="3.8" fill="#ffffff" stroke="#3a3a3a" stroke-width="0.7"/>
<circle cx="451.20" cy="172.0" r="3.8" fill="#ffffff" stroke="#3a3a3a" stroke-width="0.7"/>
<circle cx="459.65" cy="172.0" r="3.8" fill="#f26b5b" stroke="#3a3a3a" stroke-width="0.7"/>
<circle cx="468.10" cy="172.0" r="3.8" fill="#ffffff" stroke="#3a3a3a" stroke-width="0.7"/>
<circle cx="476.55" cy="172.0" r="3.8" fill="#26bfd4" stroke="#3a3a3a" stroke-width="0.7"/>
<circle cx="485.00" cy="172.0" r="3.8" fill="#f26b5b" stroke="#3a3a3a" stroke-width="0.7"/>
<circle cx="493.45" cy="172.0" r="3.8" fill="#f26b5b" stroke="#3a3a3a" stroke-width="0.7"/>
<circle cx="501.90" cy="172.0" r="3.8" fill="#f26b5b" stroke="#3a3a3a" stroke-width="0.7"/>
<circle cx="510.35" cy="172.0" r="3.8" fill="#ffffff" stroke="#3a3a3a" stroke-width="0.7"/>
<circle cx="332.90" cy="187.9" r="3.8" fill="#ffffff" stroke="#3a3a3a" stroke-width="0.7"/>
<circle cx="341.35" cy="187.9" r="3.8" fill="#ffffff" stroke="#3a3a3a" stroke-width="0.7"/>
<circle cx="349.80" cy="187.9" r="3.8" fill="#f26b5b" stroke="#3a3a3a" stroke-width="0.7"/>
<circle cx="358.25" cy="187.9" r="3.8" fill="#ffffff" stroke="#3a3a3a" stroke-width="0.7"/>
<circle cx="366.70" cy="187.9" r="3.8" fill="#ffffff" stroke="#3a3a3a" stroke-width="0.7"/>
<circle cx="375.15" cy="187.9" r="3.8" fill="#f26b5b" stroke="#3a3a3a" stroke-width="0.7"/>
<circle cx="383.60" cy="187.9" r="3.8" fill="#ffffff" stroke="#3a3a3a" stroke-width="0.7"/>
<circle cx="392.05" cy="187.9" r="3.8" fill="#ffffff" stroke="#3a3a3a" stroke-width="0.7"/>
<circle cx="400.50" cy="187.9" r="3.8" fill="#ffffff" stroke="#3a3a3a" stroke-width="0.7"/>
<circle cx="408.95" cy="187.9" r="3.8" fill="#f26b5b" stroke="#3a3a3a" stroke-width="0.7"/>
<circle cx="417.40" cy="187.9" r="3.8" fill="#ffffff" stroke="#3a3a3a" stroke-width="0.7"/>
<circle cx="425.85" cy="187.9" r="3.8" fill="#ffffff" stroke="#3a3a3a" stroke-width="0.7"/>
<circle cx="434.30" cy="187.9" r="3.8" fill="#ffffff" stroke="#3a3a3a" stroke-width="0.7"/>
<circle cx="442.75" cy="187.9" r="3.8" fill="#ffffff" stroke="#3a3a3a" stroke-width="0.7"/>
<circle cx="451.20" cy="187.9" r="3.8" fill="#ffffff" stroke="#3a3a3a" stroke-width="0.7"/>
<circle cx="459.65" cy="187.9" r="3.8" fill="#ffffff" stroke="#3a3a3a" stroke-width="0.7"/>
<circle cx="468.10" cy="187.9" r="3.8" fill="#ffffff" stroke="#3a3a3a" stroke-width="0.7"/>
<circle cx="476.55" cy="187.9" r="3.8" fill="#26bfd4" stroke="#3a3a3a" stroke-width="0.7"/>
<circle cx="485.00" cy="187.9" r="3.8" fill="#ffffff" stroke="#3a3a3a" stroke-width="0.7"/>
<circle cx="493.45" cy="187.9" r="3.8" fill="#ffffff" stroke="#3a3a3a" stroke-width="0.7"/>
<circle cx="501.90" cy="187.9" r="3.8" fill="#f26b5b" stroke="#3a3a3a" stroke-width="0.7"/>
<circle cx="510.35" cy="187.9" r="3.8" fill="#26bfd4" stroke="#3a3a3a" stroke-width="0.7"/>
<line x1="332.90" x2="332.90" y1="197.7" y2="199.8" stroke="#444" stroke-width="0.6"/>
<text transform="translate(336.10,207.30) rotate(-45)" font-size="7.9" text-anchor="end" fill="#1a1a1a">pit</text>
<line x1="341.35" x2="341.35" y1="197.7" y2="199.8" stroke="#444" stroke-width="0.6"/>
<text transform="translate(344.55,207.30) rotate(-45)" font-size="7.9" text-anchor="end" fill="#1a1a1a">phnC</text>
<line x1="349.80" x2="349.80" y1="197.7" y2="199.8" stroke="#444" stroke-width="0.6"/>
<text transform="translate(353.00,207.30) rotate(-45)" font-size="7.9" text-anchor="end" fill="#1a1a1a">phnD</text>
<line x1="358.25" x2="358.25" y1="197.7" y2="199.8" stroke="#444" stroke-width="0.6"/>
<text transform="translate(361.45,207.30) rotate(-45)" font-size="7.9" text-anchor="end" fill="#1a1a1a">phnE1</text>
<line x1="366.70" x2="366.70" y1="197.7" y2="199.8" stroke="#444" stroke-width="0.6"/>
<text transform="translate(369.90,207.30) rotate(-45)" font-size="7.9" text-anchor="end" fill="#1a1a1a">phnE2</text>
<line x1="375.15" x2="375.15" y1="197.7" y2="199.8" stroke="#444" stroke-width="0.6"/>
<text transform="translate(378.35,207.30) rotate(-45)" font-size="7.9" text-anchor="end" fill="#1a1a1a">ugpA1</text>
<line x1="383.60" x2="383.60" y1="197.7" y2="199.8" stroke="#444" stroke-width="0.6"/>
<text transform="translate(386.80,207.30) rotate(-45)" font-size="7.9" text-anchor="end" fill="#1a1a1a">ugpA2</text>
<line x1="392.05" x2="392.05" y1="197.7" y2="199.8" stroke="#444" stroke-width="0.6"/>
<text transform="translate(395.25,207.30) rotate(-45)" font-size="7.9" text-anchor="end" fill="#1a1a1a">ugpA3</text>
<line x1="400.50" x2="400.50" y1="197.7" y2="199.8" stroke="#444" stroke-width="0.6"/>
<text transform="translate(403.70,207.30) rotate(-45)" font-size="7.9" text-anchor="end" fill="#1a1a1a">ugpB1</text>
<line x1="408.95" x2="408.95" y1="197.7" y2="199.8" stroke="#444" stroke-width="0.6"/>
<text transform="translate(412.15,207.30) rotate(-45)" font-size="7.9" text-anchor="end" fill="#1a1a1a">ugpB2</text>
<line x1="417.40" x2="417.40" y1="197.7" y2="199.8" stroke="#444" stroke-width="0.6"/>
<text transform="translate(420.60,207.30) rotate(-45)" font-size="7.9" text-anchor="end" fill="#1a1a1a">ugpB3</text>
<line x1="425.85" x2="425.85" y1="197.7" y2="199.8" stroke="#444" stroke-width="0.6"/>
<text transform="translate(429.05,207.30) rotate(-45)" font-size="7.9" text-anchor="end" fill="#1a1a1a">ugpC1</text>
<line x1="434.30" x2="434.30" y1="197.7" y2="199.8" stroke="#444" stroke-width="0.6"/>
<text transform="translate(437.50,207.30) rotate(-45)" font-size="7.9" text-anchor="end" fill="#1a1a1a">ugpC2</text>
<line x1="442.75" x2="442.75" y1="197.7" y2="199.8" stroke="#444" stroke-width="0.6"/>
<text transform="translate(445.95,207.30) rotate(-45)" font-size="7.9" text-anchor="end" fill="#1a1a1a">ugpC3</text>
<line x1="451.20" x2="451.20" y1="197.7" y2="199.8" stroke="#444" stroke-width="0.6"/>
<text transform="translate(454.40,207.30) rotate(-45)" font-size="7.9" text-anchor="end" fill="#1a1a1a">ugpE1</text>
<line x1="459.65" x2="459.65" y1="197.7" y2="199.8" stroke="#444" stroke-width="0.6"/>
<text transform="translate(462.85,207.30) rotate(-45)" font-size="7.9" text-anchor="end" fill="#1a1a1a">ugpE2</text>
<line x1="468.10" x2="468.10" y1="197.7" y2="199.8" stroke="#444" stroke-width="0.6"/>
<text transform="translate(471.30,207.30) rotate(-45)" font-size="7.9" text-anchor="end" fill="#1a1a1a">ugpE3</text>
<line x1="476.55" x2="476.55" y1="197.7" y2="199.8" stroke="#444" stroke-width="0.6"/>
<text transform="translate(479.75,207.30) rotate(-45)" font-size="7.9" text-anchor="end" fill="#1a1a1a">glpT</text>
<line x1="485.00" x2="485.00" y1="197.7" y2="199.8" stroke="#444" stroke-width="0.6"/>
<text transform="translate(488.20,207.30) rotate(-45)" font-size="7.9" text-anchor="end" fill="#1a1a1a">pstS</text>
<line x1="493.45" x2="493.45" y1="197.7" y2="199.8" stroke="#444" stroke-width="0.6"/>
<text transform="translate(496.65,207.30) rotate(-45)" font-size="7.9" text-anchor="end" fill="#1a1a1a">pstC</text>
<line x1="501.90" x2="501.90" y1="197.7" y2="199.8" stroke="#444" stroke-width="0.6"/>
<text transform="translate(505.10,207.30) rotate(-45)" font-size="7.9" text-anchor="end" fill="#1a1a1a">pstA</text>
<line x1="510.35" x2="510.35" y1="197.7" y2="199.8" stroke="#444" stroke-width="0.6"/>
<text transform="translate(513.55,207.30) rotate(-45)" font-size="7.9" text-anchor="end" fill="#1a1a1a">pstB</text>
<circle cx="528.20" cy="172.0" r="3.8" fill="#e07a6b" stroke="#3a3a3a" stroke-width="0.7"/>
<circle cx="536.56" cy="172.0" r="3.8" fill="#ffffff" stroke="#3a3a3a" stroke-width="0.7"/>
<circle cx="544.92" cy="172.0" r="3.8" fill="#f26b5b" stroke="#3a3a3a" stroke-width="0.7"/>
<circle cx="553.28" cy="172.0" r="3.8" fill="#f26b5b" stroke="#3a3a3a" stroke-width="0.7"/>
<circle cx="561.64" cy="172.0" r="3.8" fill="#f26b5b" stroke="#3a3a3a" stroke-width="0.7"/>
<circle cx="528.20" cy="187.9" r="3.8" fill="#f26b5b" stroke="#3a3a3a" stroke-width="0.7"/>
<circle cx="536.56" cy="187.9" r="3.8" fill="#26bfd4" stroke="#3a3a3a" stroke-width="0.7"/>
<circle cx="544.92" cy="187.9" r="3.8" fill="#ffffff" stroke="#3a3a3a" stroke-width="0.7"/>
<circle cx="553.28" cy="187.9" r="3.8" fill="#f26b5b" stroke="#3a3a3a" stroke-width="0.7"/>
<circle cx="561.64" cy="187.9" r="3.8" fill="#ffffff" stroke="#3a3a3a" stroke-width="0.7"/>
<line x1="528.20" x2="528.20" y1="197.7" y2="199.8" stroke="#444" stroke-width="0.6"/>
<text transform="translate(531.40,207.30) rotate(-45)" font-size="7.9" text-anchor="end" fill="#1a1a1a">phoB</text>
<line x1="536.56" x2="536.56" y1="197.7" y2="199.8" stroke="#444" stroke-width="0.6"/>
<text transform="translate(539.76,207.30) rotate(-45)" font-size="7.9" text-anchor="end" fill="#1a1a1a">phoP</text>
<line x1="544.92" x2="544.92" y1="197.7" y2="199.8" stroke="#444" stroke-width="0.6"/>
<text transform="translate(548.12,207.30) rotate(-45)" font-size="7.9" text-anchor="end" fill="#1a1a1a">phoQ</text>
<line x1="553.28" x2="553.28" y1="197.7" y2="199.8" stroke="#444" stroke-width="0.6"/>
<text transform="translate(556.48,207.30) rotate(-45)" font-size="7.9" text-anchor="end" fill="#1a1a1a">phoR</text>
<line x1="561.64" x2="561.64" y1="197.7" y2="199.8" stroke="#444" stroke-width="0.6"/>
<text transform="translate(564.84,207.30) rotate(-45)" font-size="7.9" text-anchor="end" fill="#1a1a1a">phoU</text>
<text x="572.60" y="176.60" font-size="9.7" text-anchor="start" fill="#1a1a1a" >P</text><text x="579.90" y="171.00" font-size="5.3" text-anchor="start" fill="#333" letter-spacing="0.15">Low</text><text x="590.20" y="176.60" font-size="9.7" text-anchor="start" fill="#1a1a1a" >RI</text><line x1="601.15" x2="604.15" y1="169.25" y2="169.25" stroke="#1a1a1a" stroke-width="0.85"/><line x1="602.65" x2="602.65" y1="167.75" y2="170.75" stroke="#1a1a1a" stroke-width="0.85"/><text x="605.50" y="176.60" font-size="9.7" text-anchor="start" fill="#1a1a1a" >RA</text><line x1="618.60" x2="621.60" y1="169.10" y2="169.10" stroke="#1a1a1a" stroke-width="0.85"/><line x1="620.10" x2="620.10" y1="167.60" y2="170.60" stroke="#1a1a1a" stroke-width="0.85"/><text x="623.60" y="176.60" font-size="7.6" text-anchor="start" fill="#1a1a1a" >vs</text><text x="634.30" y="176.60" font-size="9.7" text-anchor="start" fill="#1a1a1a" >P</text><text x="640.90" y="171.00" font-size="5.3" text-anchor="start" fill="#333" letter-spacing="0.15">Low</text><text x="651.90" y="176.60" font-size="9.7" text-anchor="start" fill="#1a1a1a" >RI</text><line x1="662.20" x2="665.00" y1="168.60" y2="168.60" stroke="#1a1a1a" stroke-width="0.85"/><text x="666.60" y="176.60" font-size="9.7" text-anchor="start" fill="#1a1a1a" >RA</text><line x1="680.10" x2="683.10" y1="169.10" y2="169.10" stroke="#1a1a1a" stroke-width="0.85"/><line x1="681.60" x2="681.60" y1="167.60" y2="170.60" stroke="#1a1a1a" stroke-width="0.85"/><text x="572.60" y="192.70" font-size="9.7" text-anchor="start" fill="#1a1a1a" >P</text><text x="579.50" y="187.10" font-size="5.6" text-anchor="start" fill="#333" letter-spacing="0.2">High</text><text x="591.10" y="192.70" font-size="9.7" text-anchor="start" fill="#1a1a1a" >RI</text><line x1="601.50" x2="604.50" y1="185.35" y2="185.35" stroke="#1a1a1a" stroke-width="0.85"/><line x1="603.00" x2="603.00" y1="183.85" y2="186.85" stroke="#1a1a1a" stroke-width="0.85"/><text x="605.90" y="192.70" font-size="9.7" text-anchor="start" fill="#1a1a1a" >RA</text><line x1="619.50" x2="622.50" y1="185.20" y2="185.20" stroke="#1a1a1a" stroke-width="0.85"/><line x1="621.00" x2="621.00" y1="183.70" y2="186.70" stroke="#1a1a1a" stroke-width="0.85"/><text x="623.60" y="192.70" font-size="7.6" text-anchor="start" fill="#1a1a1a" >vs</text><text x="634.30" y="192.70" font-size="9.7" text-anchor="start" fill="#1a1a1a" >P</text><text x="640.90" y="187.10" font-size="5.6" text-anchor="start" fill="#333" letter-spacing="0.2">High</text><text x="653.30" y="192.70" font-size="9.7" text-anchor="start" fill="#1a1a1a" >RI</text><text x="668.50" y="192.70" font-size="9.7" text-anchor="start" fill="#1a1a1a" >RA</text><line x1="681.80" x2="684.80" y1="185.20" y2="185.20" stroke="#1a1a1a" stroke-width="0.85"/><line x1="683.30" x2="683.30" y1="183.70" y2="186.70" stroke="#1a1a1a" stroke-width="0.85"/>
<circle cx="578.5" cy="207.8" r="3.9" fill="#f26b5b" stroke="#555" stroke-width="0.6"/>
<text x="585.70" y="210.90" font-size="7.6" text-anchor="start" fill="#1a1a1a" >Increase</text>
<circle cx="626.0" cy="207.8" r="3.9" fill="#26bfd4" stroke="#555" stroke-width="0.6"/>
<text x="633.70" y="210.90" font-size="7.6" text-anchor="start" fill="#1a1a1a" >Decrease</text>
<text x="0.20" y="249.90" font-size="16" text-anchor="start" fill="#444" >(</text><text x="7.80" y="249.90" font-size="16" text-anchor="start" fill="#1a1a1a" >b</text><text x="16.40" y="249.90" font-size="16" text-anchor="start" fill="#444" >)</text>
<clipPath id="clip0"><rect x="83.3" y="241.8" width="152.10" height="139.20"/></clipPath>
<rect x="83.3" y="241.8" width="152.10" height="139.20" fill="#fff"/>
<line x1="83.3" x2="235.4" y1="248.84" y2="248.84" stroke="#ededed" stroke-width="0.7"/><line x1="83.3" x2="235.4" y1="264.96" y2="264.96" stroke="#f3f3f3" stroke-width="0.5"/><line x1="83.3" x2="235.4" y1="281.09" y2="281.09" stroke="#ededed" stroke-width="0.7"/><line x1="83.3" x2="235.4" y1="297.21" y2="297.21" stroke="#f3f3f3" stroke-width="0.5"/><line x1="83.3" x2="235.4" y1="313.34" y2="313.34" stroke="#ededed" stroke-width="0.7"/><line x1="83.3" x2="235.4" y1="329.46" y2="329.46" stroke="#f3f3f3" stroke-width="0.5"/><line x1="83.3" x2="235.4" y1="345.59" y2="345.59" stroke="#ededed" stroke-width="0.7"/><line x1="83.3" x2="235.4" y1="361.71" y2="361.71" stroke="#f3f3f3" stroke-width="0.5"/><line x1="83.3" x2="235.4" y1="377.84" y2="377.84" stroke="#ededed" stroke-width="0.7"/><line x1="87.72" x2="87.72" y1="241.8" y2="381.0" stroke="#ededed" stroke-width="0.7"/><line x1="104.30" x2="104.30" y1="241.8" y2="381.0" stroke="#f3f3f3" stroke-width="0.5"/><line x1="120.88" x2="120.88" y1="241.8" y2="381.0" stroke="#ededed" stroke-width="0.7"/><line x1="137.46" x2="137.46" y1="241.8" y2="381.0" stroke="#f3f3f3" stroke-width="0.5"/><line x1="154.04" x2="154.04" y1="241.8" y2="381.0" stroke="#ededed" stroke-width="0.7"/><line x1="170.62" x2="170.62" y1="241.8" y2="381.0" stroke="#f3f3f3" stroke-width="0.5"/><line x1="187.20" x2="187.20" y1="241.8" y2="381.0" stroke="#ededed" stroke-width="0.7"/><line x1="203.78" x2="203.78" y1="241.8" y2="381.0" stroke="#f3f3f3" stroke-width="0.5"/><line x1="220.36" x2="220.36" y1="241.8" y2="381.0" stroke="#ededed" stroke-width="0.7"/>
<circle cx="90.2" cy="308.3" r="2.0" fill="#0b4e9a"/>
<circle cx="112.5" cy="252.9" r="2.0" fill="#0b4e9a"/>
<circle cx="132.9" cy="258.9" r="2.0" fill="#0b4e9a"/>
<circle cx="134.3" cy="261.7" r="2.0" fill="#0b4e9a"/>
<circle cx="140.9" cy="307.4" r="2.0" fill="#0b4e9a"/>
<circle cx="145.5" cy="328.4" r="2.0" fill="#0b4e9a"/>
<circle cx="133.6" cy="345.5" r="2.0" fill="#0b4e9a"/>
<circle cx="160.8" cy="318.5" r="2.0" fill="#0b4e9a"/>
<circle cx="183.0" cy="360.2" r="2.0" fill="#0b4e9a"/>
<circle cx="190.6" cy="314.7" r="2.0" fill="#0b4e9a"/>
<circle cx="194.0" cy="336.3" r="2.0" fill="#0b4e9a"/>
<circle cx="199.8" cy="328.1" r="2.0" fill="#0b4e9a"/>
<circle cx="209.0" cy="341.0" r="2.0" fill="#0b4e9a"/>
<circle cx="212.9" cy="342.9" r="2.0" fill="#0b4e9a"/>
<circle cx="221.6" cy="351.0" r="2.0" fill="#0b4e9a"/>
<circle cx="228.6" cy="332.6" r="2.0" fill="#0b4e9a"/>
<polygon points="90.20,247.91 91.95,249.34 93.70,250.76 95.46,252.19 97.21,253.60 98.96,255.02 100.71,256.43 102.46,257.84 104.22,259.24 105.97,260.64 107.72,262.04 109.47,263.43 111.22,264.81 112.97,266.19 114.73,267.57 116.48,268.94 118.23,270.30 119.98,271.66 121.73,273.01 123.49,274.35 125.24,275.68 126.99,277.01 128.74,278.33 130.49,279.63 132.25,280.93 134.00,282.21 135.75,283.49 137.50,284.75 139.25,286.00 141.01,287.23 142.76,288.45 144.51,289.65 146.26,290.83 148.01,292.00 149.76,293.15 151.52,294.28 153.27,295.39 155.02,296.47 156.77,297.54 158.52,298.58 160.28,299.59 162.03,300.58 163.78,301.55 165.53,302.49 167.28,303.40 169.04,304.29 170.79,305.15 172.54,305.99 174.29,306.80 176.04,307.59 177.79,308.35 179.55,309.08 181.30,309.80 183.05,310.49 184.80,311.16 186.55,311.80 188.31,312.43 190.06,313.04 191.81,313.63 193.56,314.21 195.31,314.77 197.07,315.31 198.82,315.84 200.57,316.36 202.32,316.86 204.07,317.35 205.83,317.83 207.58,318.30 209.33,318.76 211.08,319.21 212.83,319.66 214.58,320.09 216.34,320.52 218.09,320.94 219.84,321.35 221.59,321.76 223.34,322.16 225.10,322.56 226.85,322.95 228.60,323.34 228.60,374.05 226.85,372.66 225.10,371.27 223.34,369.89 221.59,368.52 219.84,367.15 218.09,365.78 216.34,364.43 214.58,363.08 212.83,361.73 211.08,360.40 209.33,359.07 207.58,357.76 205.83,356.45 204.07,355.15 202.32,353.87 200.57,352.59 198.82,351.33 197.07,350.09 195.31,348.85 193.56,347.63 191.81,346.43 190.06,345.25 188.31,344.08 186.55,342.93 184.80,341.80 183.05,340.69 181.30,339.60 179.55,338.54 177.79,337.50 176.04,336.48 174.29,335.49 172.54,334.52 170.79,333.58 169.04,332.67 167.28,331.78 165.53,330.92 163.78,330.08 162.03,329.27 160.28,328.48 158.52,327.72 156.77,326.98 155.02,326.27 153.27,325.58 151.52,324.91 149.76,324.26 148.01,323.63 146.26,323.02 144.51,322.43 142.76,321.86 141.01,321.30 139.25,320.75 137.50,320.22 135.75,319.71 134.00,319.20 132.25,318.71 130.49,318.23 128.74,317.76 126.99,317.30 125.24,316.85 123.49,316.40 121.73,315.97 119.98,315.54 118.23,315.12 116.48,314.71 114.73,314.30 112.97,313.90 111.22,313.50 109.47,313.11 107.72,312.72 105.97,312.34 104.22,311.96 102.46,311.59 100.71,311.22 98.96,310.86 97.21,310.49 95.46,310.13 93.70,309.78 91.95,309.43 90.20,309.08" fill="#999999" fill-opacity="0.4" clip-path="url(#clip0)"/>
<line x1="90.20" y1="278.49" x2="228.60" y2="348.69" stroke="#3366a8" stroke-width="1"/>
<rect x="83.3" y="241.8" width="152.10" height="139.20" fill="none" stroke="#474747" stroke-width="1"/>
<line x1="80.5" x2="83.3" y1="248.8" y2="248.8" stroke="#555" stroke-width="0.8"/>
<text x="77.70" y="251.80" font-size="8.4" text-anchor="end" fill="#2b2b2b" >10.50</text>
<line x1="80.5" x2="83.3" y1="281.1" y2="281.1" stroke="#555" stroke-width="0.8"/>
<text x="77.70" y="284.10" font-size="8.4" text-anchor="end" fill="#2b2b2b" >10.25</text>
<line x1="80.5" x2="83.3" y1="313.4" y2="313.4" stroke="#555" stroke-width="0.8"/>
<text x="77.70" y="316.40" font-size="8.4" text-anchor="end" fill="#2b2b2b" >10.00</text>
<line x1="80.5" x2="83.3" y1="345.6" y2="345.6" stroke="#555" stroke-width="0.8"/>
<text x="77.70" y="348.60" font-size="8.4" text-anchor="end" fill="#2b2b2b" >9.75</text>
<line x1="80.5" x2="83.3" y1="377.8" y2="377.8" stroke="#555" stroke-width="0.8"/>
<text x="77.70" y="380.80" font-size="8.4" text-anchor="end" fill="#2b2b2b" >9.50</text>
<line x1="87.6" x2="87.6" y1="381.0" y2="383.8" stroke="#555" stroke-width="0.8"/>
<text x="87.60" y="394.60" font-size="8.4" text-anchor="middle" fill="#2b2b2b" >10.20</text>
<line x1="121.0" x2="121.0" y1="381.0" y2="383.8" stroke="#555" stroke-width="0.8"/>
<text x="121.00" y="394.60" font-size="8.4" text-anchor="middle" fill="#2b2b2b" >10.30</text>
<line x1="154.1" x2="154.1" y1="381.0" y2="383.8" stroke="#555" stroke-width="0.8"/>
<text x="154.10" y="394.60" font-size="8.4" text-anchor="middle" fill="#2b2b2b" >10.40</text>
<line x1="187.2" x2="187.2" y1="381.0" y2="383.8" stroke="#555" stroke-width="0.8"/>
<text x="187.20" y="394.60" font-size="8.4" text-anchor="middle" fill="#2b2b2b" >10.50</text>
<line x1="220.3" x2="220.3" y1="381.0" y2="383.8" stroke="#555" stroke-width="0.8"/>
<text x="220.30" y="394.60" font-size="8.4" text-anchor="middle" fill="#2b2b2b" >10.60</text>
<text x="148.30" y="256.80" font-size="8.6" text-anchor="start" fill="#2f62a6" font-style="italic">R</text>
<text x="155.20" y="252.90" font-size="6.4" text-anchor="start" fill="#2f62a6" >2</text>
<text x="161.70" y="256.80" font-size="8.2" text-anchor="start" fill="#2f62a6" >=</text>
<text x="167.90" y="256.80" font-size="8.2" text-anchor="start" fill="#2f62a6" >0.41,</text>
<text x="187.50" y="256.80" font-size="8.6" text-anchor="start" fill="#2f62a6" font-style="italic">P</text>
<text x="195.10" y="256.80" font-size="8.2" text-anchor="start" fill="#2f62a6" >=</text>
<text x="202.00" y="256.80" font-size="8.3" text-anchor="start" fill="#2f62a6" >0.0072</text>
<text x="111.4" y="406.30" font-size="8.9" fill="#1a1a1a" textLength="85.1" lengthAdjust="spacingAndGlyphs">P solubilization genes</text>
<text x="97.70" y="420.00" font-size="7.8" text-anchor="start" fill="#555" >(</text>
<text x="102.1" y="420.50" font-size="8.9" fill="#1a1a1a" textLength="107.6" lengthAdjust="spacingAndGlyphs">variance stabilized counts)</text>
<clipPath id="clip1"><rect x="274.5" y="241.9" width="151.80" height="138.40"/></clipPath>
<rect x="274.5" y="241.9" width="151.80" height="138.40" fill="#fff"/>
<line x1="274.5" x2="426.3" y1="250.25" y2="250.25" stroke="#ededed" stroke-width="0.7"/><line x1="274.5" x2="426.3" y1="267.30" y2="267.30" stroke="#f3f3f3" stroke-width="0.5"/><line x1="274.5" x2="426.3" y1="284.35" y2="284.35" stroke="#ededed" stroke-width="0.7"/><line x1="274.5" x2="426.3" y1="301.40" y2="301.40" stroke="#f3f3f3" stroke-width="0.5"/><line x1="274.5" x2="426.3" y1="318.45" y2="318.45" stroke="#ededed" stroke-width="0.7"/><line x1="274.5" x2="426.3" y1="335.50" y2="335.50" stroke="#f3f3f3" stroke-width="0.5"/><line x1="274.5" x2="426.3" y1="352.55" y2="352.55" stroke="#ededed" stroke-width="0.7"/><line x1="274.5" x2="426.3" y1="369.60" y2="369.60" stroke="#f3f3f3" stroke-width="0.5"/><line x1="280.52" x2="280.52" y1="241.9" y2="380.3" stroke="#f3f3f3" stroke-width="0.5"/><line x1="298.78" x2="298.78" y1="241.9" y2="380.3" stroke="#ededed" stroke-width="0.7"/><line x1="317.05" x2="317.05" y1="241.9" y2="380.3" stroke="#f3f3f3" stroke-width="0.5"/><line x1="335.31" x2="335.31" y1="241.9" y2="380.3" stroke="#ededed" stroke-width="0.7"/><line x1="353.57" x2="353.57" y1="241.9" y2="380.3" stroke="#f3f3f3" stroke-width="0.5"/><line x1="371.84" x2="371.84" y1="241.9" y2="380.3" stroke="#ededed" stroke-width="0.7"/><line x1="390.10" x2="390.10" y1="241.9" y2="380.3" stroke="#f3f3f3" stroke-width="0.5"/><line x1="408.37" x2="408.37" y1="241.9" y2="380.3" stroke="#ededed" stroke-width="0.7"/>
<circle cx="280.9" cy="358.5" r="2.0" fill="#0b4e9a"/>
<circle cx="284.7" cy="343.2" r="2.0" fill="#0b4e9a"/>
<circle cx="289.8" cy="350.1" r="2.0" fill="#0b4e9a"/>
<circle cx="293.1" cy="348.3" r="2.0" fill="#0b4e9a"/>
<circle cx="298.2" cy="320.1" r="2.0" fill="#0b4e9a"/>
<circle cx="300.5" cy="334.5" r="2.0" fill="#0b4e9a"/>
<circle cx="302.1" cy="339.3" r="2.0" fill="#0b4e9a"/>
<circle cx="305.1" cy="368.2" r="2.0" fill="#0b4e9a"/>
<circle cx="336.8" cy="352.6" r="2.0" fill="#0b4e9a"/>
<circle cx="338.9" cy="334.7" r="2.0" fill="#0b4e9a"/>
<circle cx="349.5" cy="311.7" r="2.0" fill="#0b4e9a"/>
<circle cx="386.7" cy="324.0" r="2.0" fill="#0b4e9a"/>
<circle cx="388.0" cy="261.1" r="2.0" fill="#0b4e9a"/>
<circle cx="388.0" cy="263.6" r="2.0" fill="#0b4e9a"/>
<circle cx="393.6" cy="254.4" r="2.0" fill="#0b4e9a"/>
<circle cx="419.1" cy="313.2" r="2.0" fill="#0b4e9a"/>
<polygon points="280.90,334.14 282.65,333.53 284.40,332.90 286.15,332.28 287.90,331.64 289.65,331.00 291.40,330.35 293.15,329.70 294.89,329.04 296.64,328.37 298.39,327.69 300.14,327.00 301.89,326.30 303.64,325.59 305.39,324.87 307.14,324.14 308.89,323.40 310.64,322.64 312.39,321.87 314.14,321.09 315.89,320.29 317.64,319.48 319.39,318.65 321.14,317.81 322.88,316.95 324.63,316.07 326.38,315.17 328.13,314.26 329.88,313.32 331.63,312.37 333.38,311.40 335.13,310.40 336.88,309.39 338.63,308.36 340.38,307.31 342.13,306.25 343.88,305.16 345.63,304.05 347.38,302.93 349.13,301.79 350.87,300.64 352.62,299.46 354.37,298.27 356.12,297.07 357.87,295.85 359.62,294.62 361.37,293.38 363.12,292.12 364.87,290.86 366.62,289.58 368.37,288.29 370.12,286.99 371.87,285.68 373.62,284.36 375.37,283.03 377.12,281.70 378.86,280.36 380.61,279.01 382.36,277.65 384.11,276.29 385.86,274.92 387.61,273.55 389.36,272.17 391.11,270.79 392.86,269.40 394.61,268.01 396.36,266.61 398.11,265.21 399.86,263.80 401.61,262.39 403.36,260.98 405.11,259.57 406.85,258.15 408.60,256.73 410.35,255.30 412.10,253.88 413.85,252.45 415.60,251.02 417.35,249.58 419.10,248.15 419.10,302.88 417.35,303.44 415.60,304.00 413.85,304.56 412.10,305.12 410.35,305.69 408.60,306.26 406.85,306.83 405.11,307.41 403.36,307.98 401.61,308.56 399.86,309.15 398.11,309.74 396.36,310.33 394.61,310.92 392.86,311.52 391.11,312.13 389.36,312.74 387.61,313.35 385.86,313.97 384.11,314.59 382.36,315.22 380.61,315.86 378.86,316.51 377.12,317.16 375.37,317.82 373.62,318.48 371.87,319.16 370.12,319.84 368.37,320.53 366.62,321.24 364.87,321.95 363.12,322.67 361.37,323.41 359.62,324.16 357.87,324.92 356.12,325.70 354.37,326.49 352.62,327.29 350.87,328.11 349.13,328.95 347.38,329.80 345.63,330.67 343.88,331.56 342.13,332.47 340.38,333.39 338.63,334.33 336.88,335.30 335.13,336.28 333.38,337.28 331.63,338.30 329.88,339.34 328.13,340.40 326.38,341.48 324.63,342.57 322.88,343.69 321.14,344.82 319.39,345.96 317.64,347.13 315.89,348.31 314.14,349.50 312.39,350.71 310.64,351.94 308.89,353.18 307.14,354.43 305.39,355.69 303.64,356.96 301.89,358.25 300.14,359.54 298.39,360.85 296.64,362.16 294.89,363.48 293.15,364.81 291.40,366.15 289.65,367.49 287.90,368.85 286.15,370.21 284.40,371.57 282.65,372.94 280.90,374.32" fill="#999999" fill-opacity="0.4" clip-path="url(#clip1)"/>
<line x1="280.90" y1="354.23" x2="419.10" y2="275.51" stroke="#3366a8" stroke-width="1"/>
<rect x="274.5" y="241.9" width="151.80" height="138.40" fill="none" stroke="#474747" stroke-width="1"/>
<line x1="271.7" x2="274.5" y1="250.3" y2="250.3" stroke="#555" stroke-width="0.8"/>
<text x="268.90" y="253.30" font-size="8.4" text-anchor="end" fill="#2b2b2b" >10.50</text>
<line x1="271.7" x2="274.5" y1="284.3" y2="284.3" stroke="#555" stroke-width="0.8"/>
<text x="268.90" y="287.30" font-size="8.4" text-anchor="end" fill="#2b2b2b" >10.25</text>
<line x1="271.7" x2="274.5" y1="318.4" y2="318.4" stroke="#555" stroke-width="0.8"/>
<text x="268.90" y="321.40" font-size="8.4" text-anchor="end" fill="#2b2b2b" >10.00</text>
<line x1="271.7" x2="274.5" y1="352.6" y2="352.6" stroke="#555" stroke-width="0.8"/>
<text x="268.90" y="355.60" font-size="8.4" text-anchor="end" fill="#2b2b2b" >9.75</text>
<line x1="298.6" x2="298.6" y1="380.3" y2="383.1" stroke="#555" stroke-width="0.8"/>
<text x="298.60" y="393.90" font-size="8.4" text-anchor="middle" fill="#2b2b2b" >7.40</text>
<line x1="335.6" x2="335.6" y1="380.3" y2="383.1" stroke="#555" stroke-width="0.8"/>
<text x="335.60" y="393.90" font-size="8.4" text-anchor="middle" fill="#2b2b2b" >7.50</text>
<line x1="371.8" x2="371.8" y1="380.3" y2="383.1" stroke="#555" stroke-width="0.8"/>
<text x="371.80" y="393.90" font-size="8.4" text-anchor="middle" fill="#2b2b2b" >7.60</text>
<line x1="408.3" x2="408.3" y1="380.3" y2="383.1" stroke="#555" stroke-width="0.8"/>
<text x="408.30" y="393.90" font-size="8.4" text-anchor="middle" fill="#2b2b2b" >7.70</text>
<text x="285.50" y="256.60" font-size="8.6" text-anchor="start" fill="#2f62a6" font-style="italic">R</text>
<text x="294.20" y="252.70" font-size="6.4" text-anchor="start" fill="#2f62a6" >2</text>
<text x="298.40" y="256.60" font-size="8.2" text-anchor="start" fill="#2f62a6" >=</text>
<text x="305.50" y="256.60" font-size="8.2" text-anchor="start" fill="#2f62a6" >0.57,</text>
<text x="325.00" y="256.60" font-size="8.6" text-anchor="start" fill="#2f62a6" font-style="italic">P</text>
<text x="332.60" y="256.60" font-size="8.2" text-anchor="start" fill="#2f62a6" >=</text>
<text x="339.70" y="256.60" font-size="8.3" text-anchor="start" fill="#2f62a6" >0.0008</text>
<text x="309.8" y="407.10" font-size="8.9" fill="#1a1a1a" textLength="89.7" lengthAdjust="spacingAndGlyphs">P mineralization genes</text>
<text x="298.20" y="420.64" font-size="7.8" text-anchor="start" fill="#555" >(</text>
<text x="302.1" y="421.14" font-size="8.9" fill="#1a1a1a" textLength="108.0" lengthAdjust="spacingAndGlyphs">variance stabilized counts)</text>
<clipPath id="clip2"><rect x="464.4" y="242.5" width="152.10" height="138.70"/></clipPath>
<rect x="464.4" y="242.5" width="152.10" height="138.70" fill="#fff"/>
<line x1="464.4" x2="616.5" y1="245.56" y2="245.56" stroke="#ededed" stroke-width="0.7"/><line x1="464.4" x2="616.5" y1="262.06" y2="262.06" stroke="#f3f3f3" stroke-width="0.5"/><line x1="464.4" x2="616.5" y1="278.57" y2="278.57" stroke="#ededed" stroke-width="0.7"/><line x1="464.4" x2="616.5" y1="295.07" y2="295.07" stroke="#f3f3f3" stroke-width="0.5"/><line x1="464.4" x2="616.5" y1="311.58" y2="311.58" stroke="#ededed" stroke-width="0.7"/><line x1="464.4" x2="616.5" y1="328.08" y2="328.08" stroke="#f3f3f3" stroke-width="0.5"/><line x1="464.4" x2="616.5" y1="344.59" y2="344.59" stroke="#ededed" stroke-width="0.7"/><line x1="464.4" x2="616.5" y1="361.10" y2="361.10" stroke="#f3f3f3" stroke-width="0.5"/><line x1="464.4" x2="616.5" y1="377.60" y2="377.60" stroke="#ededed" stroke-width="0.7"/><line x1="465.20" x2="465.20" y1="242.5" y2="381.2" stroke="#ededed" stroke-width="0.7"/><line x1="481.46" x2="481.46" y1="242.5" y2="381.2" stroke="#f3f3f3" stroke-width="0.5"/><line x1="497.72" x2="497.72" y1="242.5" y2="381.2" stroke="#ededed" stroke-width="0.7"/><line x1="513.98" x2="513.98" y1="242.5" y2="381.2" stroke="#f3f3f3" stroke-width="0.5"/><line x1="530.24" x2="530.24" y1="242.5" y2="381.2" stroke="#ededed" stroke-width="0.7"/><line x1="546.50" x2="546.50" y1="242.5" y2="381.2" stroke="#f3f3f3" stroke-width="0.5"/><line x1="562.76" x2="562.76" y1="242.5" y2="381.2" stroke="#ededed" stroke-width="0.7"/><line x1="579.02" x2="579.02" y1="242.5" y2="381.2" stroke="#f3f3f3" stroke-width="0.5"/><line x1="595.28" x2="595.28" y1="242.5" y2="381.2" stroke="#ededed" stroke-width="0.7"/><line x1="611.54" x2="611.54" y1="242.5" y2="381.2" stroke="#f3f3f3" stroke-width="0.5"/>
<circle cx="470.9" cy="342.0" r="2.0" fill="#0b4e9a"/>
<circle cx="477.6" cy="335.0" r="2.0" fill="#0b4e9a"/>
<circle cx="480.4" cy="350.2" r="2.0" fill="#0b4e9a"/>
<circle cx="483.3" cy="312.8" r="2.0" fill="#0b4e9a"/>
<circle cx="495.1" cy="340.3" r="2.0" fill="#0b4e9a"/>
<circle cx="510.8" cy="359.7" r="2.0" fill="#0b4e9a"/>
<circle cx="534.0" cy="331.6" r="2.0" fill="#0b4e9a"/>
<circle cx="549.1" cy="344.6" r="2.0" fill="#0b4e9a"/>
<circle cx="556.4" cy="326.9" r="2.0" fill="#0b4e9a"/>
<circle cx="564.8" cy="326.6" r="2.0" fill="#0b4e9a"/>
<circle cx="564.3" cy="257.8" r="2.0" fill="#0b4e9a"/>
<circle cx="568.5" cy="255.0" r="2.0" fill="#0b4e9a"/>
<circle cx="573.3" cy="305.8" r="2.0" fill="#0b4e9a"/>
<circle cx="582.8" cy="304.7" r="2.0" fill="#0b4e9a"/>
<circle cx="605.0" cy="316.5" r="2.0" fill="#0b4e9a"/>
<circle cx="609.8" cy="248.5" r="2.0" fill="#0b4e9a"/>
<polygon points="470.90,320.96 472.66,320.62 474.42,320.28 476.17,319.93 477.93,319.58 479.69,319.22 481.45,318.86 483.21,318.50 484.97,318.13 486.72,317.75 488.48,317.36 490.24,316.97 492.00,316.57 493.76,316.17 495.52,315.76 497.27,315.33 499.03,314.90 500.79,314.46 502.55,314.01 504.31,313.55 506.06,313.08 507.82,312.60 509.58,312.10 511.34,311.59 513.10,311.07 514.86,310.53 516.61,309.98 518.37,309.41 520.13,308.82 521.89,308.22 523.65,307.60 525.41,306.96 527.16,306.30 528.92,305.61 530.68,304.91 532.44,304.19 534.20,303.44 535.95,302.68 537.71,301.89 539.47,301.07 541.23,300.24 542.99,299.38 544.75,298.50 546.50,297.60 548.26,296.68 550.02,295.73 551.78,294.77 553.54,293.78 555.29,292.78 557.05,291.76 558.81,290.71 560.57,289.66 562.33,288.58 564.09,287.49 565.84,286.38 567.60,285.26 569.36,284.13 571.12,282.98 572.88,281.82 574.64,280.65 576.39,279.47 578.15,278.28 579.91,277.07 581.67,275.86 583.43,274.64 585.18,273.42 586.94,272.18 588.70,270.94 590.46,269.69 592.22,268.43 593.98,267.17 595.73,265.90 597.49,264.62 599.25,263.34 601.01,262.06 602.77,260.77 604.53,259.48 606.28,258.18 608.04,256.88 609.80,255.57 609.80,310.83 608.04,311.16 606.28,311.50 604.53,311.84 602.77,312.18 601.01,312.53 599.25,312.89 597.49,313.25 595.73,313.61 593.98,313.98 592.22,314.36 590.46,314.74 588.70,315.13 586.94,315.52 585.18,315.92 583.43,316.33 581.67,316.75 579.91,317.18 578.15,317.61 576.39,318.06 574.64,318.52 572.88,318.98 571.12,319.46 569.36,319.95 567.60,320.46 565.84,320.98 564.09,321.51 562.33,322.06 560.57,322.62 558.81,323.20 557.05,323.79 555.29,324.41 553.54,325.04 551.78,325.70 550.02,326.37 548.26,327.06 546.50,327.78 544.75,328.52 542.99,329.28 541.23,330.06 539.47,330.86 537.71,331.69 535.95,332.53 534.20,333.41 532.44,334.30 530.68,335.21 528.92,336.15 527.16,337.11 525.41,338.08 523.65,339.08 521.89,340.10 520.13,341.13 518.37,342.18 516.61,343.25 514.86,344.34 513.10,345.44 511.34,346.55 509.58,347.68 507.82,348.82 506.06,349.98 504.31,351.15 502.55,352.32 500.79,353.51 499.03,354.71 497.27,355.92 495.52,357.13 493.76,358.36 492.00,359.59 490.24,360.83 488.48,362.08 486.72,363.33 484.97,364.60 483.21,365.86 481.45,367.13 479.69,368.41 477.93,369.69 476.17,370.98 474.42,372.27 472.66,373.57 470.90,374.87" fill="#999999" fill-opacity="0.4" clip-path="url(#clip2)"/>
<line x1="470.90" y1="347.91" x2="609.80" y2="283.20" stroke="#3366a8" stroke-width="1"/>
<rect x="464.4" y="242.5" width="152.10" height="138.70" fill="none" stroke="#474747" stroke-width="1"/>
<line x1="461.59999999999997" x2="464.4" y1="245.7" y2="245.7" stroke="#555" stroke-width="0.8"/>
<text x="458.80" y="248.70" font-size="8.4" text-anchor="end" fill="#2b2b2b" >10.50</text>
<line x1="461.59999999999997" x2="464.4" y1="278.5" y2="278.5" stroke="#555" stroke-width="0.8"/>
<text x="458.80" y="281.50" font-size="8.4" text-anchor="end" fill="#2b2b2b" >10.25</text>
<line x1="461.59999999999997" x2="464.4" y1="311.4" y2="311.4" stroke="#555" stroke-width="0.8"/>
<text x="458.80" y="314.40" font-size="8.4" text-anchor="end" fill="#2b2b2b" >10.00</text>
<line x1="461.59999999999997" x2="464.4" y1="344.6" y2="344.6" stroke="#555" stroke-width="0.8"/>
<text x="458.80" y="347.60" font-size="8.4" text-anchor="end" fill="#2b2b2b" >9.75</text>
<line x1="461.59999999999997" x2="464.4" y1="377.7" y2="377.7" stroke="#555" stroke-width="0.8"/>
<text x="458.80" y="380.70" font-size="8.4" text-anchor="end" fill="#2b2b2b" >9.50</text>
<line x1="465.3" x2="465.3" y1="381.2" y2="384.0" stroke="#555" stroke-width="0.8"/>
<text x="465.30" y="394.80" font-size="8.4" text-anchor="middle" fill="#2b2b2b" >7.40</text>
<line x1="497.6" x2="497.6" y1="381.2" y2="384.0" stroke="#555" stroke-width="0.8"/>
<text x="497.60" y="394.80" font-size="8.4" text-anchor="middle" fill="#2b2b2b" >7.45</text>
<line x1="530.2" x2="530.2" y1="381.2" y2="384.0" stroke="#555" stroke-width="0.8"/>
<text x="530.20" y="394.80" font-size="8.4" text-anchor="middle" fill="#2b2b2b" >7.50</text>
<line x1="562.8" x2="562.8" y1="381.2" y2="384.0" stroke="#555" stroke-width="0.8"/>
<text x="562.80" y="394.80" font-size="8.4" text-anchor="middle" fill="#2b2b2b" >7.55</text>
<line x1="595.3" x2="595.3" y1="381.2" y2="384.0" stroke="#555" stroke-width="0.8"/>
<text x="595.30" y="394.80" font-size="8.4" text-anchor="middle" fill="#2b2b2b" >7.60</text>
<text x="471.80" y="257.40" font-size="8.6" text-anchor="start" fill="#2f62a6" font-style="italic">R</text>
<text x="479.80" y="253.50" font-size="6.4" text-anchor="start" fill="#2f62a6" >2</text>
<text x="484.40" y="257.40" font-size="8.2" text-anchor="start" fill="#2f62a6" >=</text>
<text x="491.80" y="257.40" font-size="8.2" text-anchor="start" fill="#2f62a6" >0.40,</text>
<text x="511.30" y="257.40" font-size="8.6" text-anchor="start" fill="#2f62a6" font-style="italic">P</text>
<text x="519.10" y="257.40" font-size="8.2" text-anchor="start" fill="#2f62a6" >=</text>
<text x="526.70" y="257.40" font-size="8.3" text-anchor="start" fill="#2f62a6" >0.0090</text>
<text x="498.1" y="407.70" font-size="8.9" fill="#1a1a1a" textLength="89.2" lengthAdjust="spacingAndGlyphs">P transportation genes</text>
<text x="488.00" y="421.12" font-size="7.8" text-anchor="start" fill="#555" >(</text>
<text x="492.40000000000003" y="421.62" font-size="8.9" fill="#1a1a1a" textLength="107.0" lengthAdjust="spacingAndGlyphs">variance stabilized counts)</text>
<text transform="translate(33.7,349.8) rotate(-90)" font-size="8.9" fill="#1a1a1a" textLength="75.6" lengthAdjust="spacingAndGlyphs">P regulation genes</text>
<text transform="translate(47.3,370.8) rotate(-90)" font-size="7.8" fill="#555">(</text>
<text transform="translate(48.0,366.1) rotate(-90)" font-size="8.9" fill="#1a1a1a" textLength="110.8" lengthAdjust="spacingAndGlyphs">variance stabilized counts)</text>
<text x="-0.20" y="440.40" font-size="16" text-anchor="start" fill="#444" >(</text><text x="6.20" y="440.40" font-size="16" text-anchor="start" fill="#1a1a1a" >c</text><text x="15.40" y="440.40" font-size="16" text-anchor="start" fill="#444" >)</text>
<line x1="45.7" x2="45.7" y1="435.6" y2="568.4" stroke="#8f8f8f" stroke-width="1.1"/>
<line x1="638.0" x2="638.0" y1="435.6" y2="568.4" stroke="#8f8f8f" stroke-width="1.1"/>
<line x1="45.7" x2="638.0" y1="435.6" y2="435.6" stroke="#666" stroke-width="1"/>
<line x1="42.5" x2="45.7" y1="568.40" y2="568.40" stroke="#777" stroke-width="0.8"/>
<text x="41.30" y="571.30" font-size="8.4" text-anchor="end" fill="#2b2b2b" >0</text>
<line x1="42.5" x2="45.7" y1="535.30" y2="535.30" stroke="#777" stroke-width="0.8"/>
<text x="41.30" y="538.20" font-size="8.4" text-anchor="end" fill="#2b2b2b" >100</text>
<line x1="42.5" x2="45.7" y1="502.20" y2="502.20" stroke="#777" stroke-width="0.8"/>
<text x="41.30" y="505.10" font-size="8.4" text-anchor="end" fill="#2b2b2b" >200</text>
<line x1="42.5" x2="45.7" y1="469.10" y2="469.10" stroke="#777" stroke-width="0.8"/>
<text x="41.30" y="472.00" font-size="8.4" text-anchor="end" fill="#2b2b2b" >300</text>
<line x1="42.5" x2="45.7" y1="436.00" y2="436.00" stroke="#777" stroke-width="0.8"/>
<text x="41.30" y="438.90" font-size="8.4" text-anchor="end" fill="#2b2b2b" >400</text>
<text transform="translate(19.8,494.9) rotate(-90)" font-size="9.2" text-anchor="middle" fill="#1a1a1a">TPM</text>
<line x1="73.00" x2="73.00" y1="568.4" y2="571.0" stroke="#888" stroke-width="0.8"/>
<text x="74.00" y="582.00" font-size="8.4" text-anchor="middle" fill="#2b2b2b" >phy</text>
<rect x="62.80" y="534.40" width="2.05" height="34.00" fill="#b4b4b4"/>
<rect x="81.70" y="549.00" width="2.25" height="19.40" fill="#b4b4b4"/>
<rect x="55.35" y="534.40" width="7.45" height="34.00" fill="#8dd3c7" stroke="#2f2f2f" stroke-width="0.85"/>
<circle cx="58.40" cy="533.50" r="0.8" fill="#1a1a1a"/>
<circle cx="61.80" cy="532.70" r="0.8" fill="#1a1a1a"/>
<circle cx="61.50" cy="536.50" r="0.8" fill="#1a1a1a"/>
<rect x="64.85" y="513.30" width="7.45" height="55.10" fill="#ffffb3" stroke="#2f2f2f" stroke-width="0.85"/>
<line x1="68.57" x2="68.57" y1="513.30" y2="509.90" stroke="#2a2a2a" stroke-width="0.7"/>
<line x1="66.97" x2="70.17" y1="509.90" y2="509.90" stroke="#2a2a2a" stroke-width="0.7"/>
<circle cx="68.20" cy="509.10" r="0.8" fill="#1a1a1a"/>
<circle cx="67.30" cy="515.90" r="0.8" fill="#1a1a1a"/>
<circle cx="69.90" cy="515.90" r="0.8" fill="#1a1a1a"/>
<circle cx="71.60" cy="512.20" r="0.8" fill="#1a1a1a"/>
<rect x="74.25" y="549.00" width="7.45" height="19.40" fill="#bebada" stroke="#2f2f2f" stroke-width="0.85"/>
<line x1="77.97" x2="77.97" y1="549.00" y2="546.70" stroke="#2a2a2a" stroke-width="0.7"/>
<line x1="76.38" x2="79.57" y1="546.70" y2="546.70" stroke="#2a2a2a" stroke-width="0.7"/>
<circle cx="77.60" cy="545.50" r="0.8" fill="#1a1a1a"/>
<circle cx="77.60" cy="547.20" r="0.8" fill="#1a1a1a"/>
<circle cx="75.40" cy="551.40" r="0.8" fill="#1a1a1a"/>
<rect x="83.95" y="537.40" width="7.45" height="31.00" fill="#fb8072" stroke="#2f2f2f" stroke-width="0.85"/>
<line x1="87.67" x2="87.67" y1="537.40" y2="532.30" stroke="#2a2a2a" stroke-width="0.7"/>
<line x1="86.08" x2="89.27" y1="532.30" y2="532.30" stroke="#2a2a2a" stroke-width="0.7"/>
<circle cx="85.60" cy="533.50" r="0.8" fill="#1a1a1a"/>
<circle cx="86.90" cy="538.60" r="0.8" fill="#1a1a1a"/>
<circle cx="88.20" cy="543.20" r="0.8" fill="#1a1a1a"/>
<line x1="125.33" x2="125.33" y1="568.4" y2="571.0" stroke="#888" stroke-width="0.8"/>
<text x="126.33" y="582.00" font-size="8.4" text-anchor="middle" fill="#2b2b2b" >phoA</text>
<rect x="115.13" y="566.60" width="2.05" height="1.80" fill="#b4b4b4"/>
<rect x="134.03" y="566.90" width="2.25" height="1.50" fill="#b4b4b4"/>
<rect x="107.68" y="566.60" width="7.45" height="1.80" fill="#8dd3c7" stroke="#2f2f2f" stroke-width="0.85"/>
<circle cx="109.18" cy="566.30" r="0.75" fill="#1a1a1a"/>
<circle cx="111.38" cy="566.90" r="0.75" fill="#1a1a1a"/>
<circle cx="113.58" cy="566.30" r="0.75" fill="#1a1a1a"/>
<rect x="117.18" y="564.20" width="7.45" height="4.20" fill="#ffffb3" stroke="#2f2f2f" stroke-width="0.85"/>
<circle cx="118.68" cy="563.90" r="0.75" fill="#1a1a1a"/>
<circle cx="120.88" cy="564.50" r="0.75" fill="#1a1a1a"/>
<circle cx="123.08" cy="563.90" r="0.75" fill="#1a1a1a"/>
<rect x="126.58" y="566.90" width="7.45" height="1.50" fill="#bebada" stroke="#2f2f2f" stroke-width="0.85"/>
<circle cx="128.08" cy="566.60" r="0.75" fill="#1a1a1a"/>
<circle cx="130.28" cy="567.20" r="0.75" fill="#1a1a1a"/>
<circle cx="132.48" cy="566.60" r="0.75" fill="#1a1a1a"/>
<rect x="136.28" y="564.90" width="7.45" height="3.50" fill="#fb8072" stroke="#2f2f2f" stroke-width="0.85"/>
<circle cx="137.78" cy="564.60" r="0.75" fill="#1a1a1a"/>
<circle cx="139.98" cy="565.20" r="0.75" fill="#1a1a1a"/>
<circle cx="142.18" cy="564.60" r="0.75" fill="#1a1a1a"/>
<line x1="177.66" x2="177.66" y1="568.4" y2="571.0" stroke="#888" stroke-width="0.8"/>
<text x="178.66" y="582.00" font-size="8.4" text-anchor="middle" fill="#2b2b2b" >phoN1</text>
<rect x="167.46" y="567.30" width="2.05" height="1.10" fill="#b4b4b4"/>
<rect x="186.36" y="567.40" width="2.25" height="1.00" fill="#b4b4b4"/>
<rect x="160.01" y="567.30" width="7.45" height="1.10" fill="#8dd3c7" stroke="#2f2f2f" stroke-width="0.85"/>
<circle cx="161.51" cy="567.00" r="0.75" fill="#1a1a1a"/>
<circle cx="163.71" cy="567.60" r="0.75" fill="#1a1a1a"/>
<circle cx="165.91" cy="567.00" r="0.75" fill="#1a1a1a"/>
<rect x="169.51" y="562.80" width="7.45" height="5.60" fill="#ffffb3" stroke="#2f2f2f" stroke-width="0.85"/>
<circle cx="171.01" cy="562.50" r="0.75" fill="#1a1a1a"/>
<circle cx="173.21" cy="563.10" r="0.75" fill="#1a1a1a"/>
<circle cx="175.41" cy="562.50" r="0.75" fill="#1a1a1a"/>
<rect x="178.91" y="567.40" width="7.45" height="1.00" fill="#bebada" stroke="#2f2f2f" stroke-width="0.85"/>
<circle cx="180.41" cy="567.10" r="0.75" fill="#1a1a1a"/>
<circle cx="182.61" cy="567.70" r="0.75" fill="#1a1a1a"/>
<circle cx="184.81" cy="567.10" r="0.75" fill="#1a1a1a"/>
<rect x="188.61" y="564.80" width="7.45" height="3.60" fill="#fb8072" stroke="#2f2f2f" stroke-width="0.85"/>
<circle cx="190.11" cy="564.50" r="0.75" fill="#1a1a1a"/>
<circle cx="192.31" cy="565.10" r="0.75" fill="#1a1a1a"/>
<circle cx="194.51" cy="564.50" r="0.75" fill="#1a1a1a"/>
<line x1="229.99" x2="229.99" y1="568.4" y2="571.0" stroke="#888" stroke-width="0.8"/>
<text x="230.99" y="582.00" font-size="8.4" text-anchor="middle" fill="#2b2b2b" >phoN2</text>
<rect x="219.79" y="516.30" width="2.05" height="52.10" fill="#b4b4b4"/>
<rect x="238.69" y="522.00" width="2.25" height="46.40" fill="#b4b4b4"/>
<rect x="212.34" y="516.30" width="7.45" height="52.10" fill="#8dd3c7" stroke="#2f2f2f" stroke-width="0.85"/>
<line x1="216.07" x2="216.07" y1="516.30" y2="505.50" stroke="#2a2a2a" stroke-width="0.7"/>
<line x1="214.47" x2="217.67" y1="505.50" y2="505.50" stroke="#2a2a2a" stroke-width="0.7"/>
<circle cx="214.70" cy="501.90" r="0.8" fill="#1a1a1a"/>
<circle cx="216.30" cy="518.80" r="0.8" fill="#1a1a1a"/>
<circle cx="215.00" cy="528.70" r="0.8" fill="#1a1a1a"/>
<rect x="221.84" y="480.10" width="7.45" height="88.30" fill="#ffffb3" stroke="#2f2f2f" stroke-width="0.85"/>
<line x1="225.57" x2="225.57" y1="480.10" y2="472.50" stroke="#2a2a2a" stroke-width="0.7"/>
<line x1="223.97" x2="227.17" y1="472.50" y2="472.50" stroke="#2a2a2a" stroke-width="0.7"/>
<circle cx="225.30" cy="469.20" r="0.8" fill="#1a1a1a"/>
<circle cx="222.50" cy="485.50" r="0.8" fill="#1a1a1a"/>
<circle cx="227.50" cy="484.50" r="0.8" fill="#1a1a1a"/>
<rect x="231.24" y="522.00" width="7.45" height="46.40" fill="#bebada" stroke="#2f2f2f" stroke-width="0.85"/>
<line x1="234.97" x2="234.97" y1="522.00" y2="513.80" stroke="#2a2a2a" stroke-width="0.7"/>
<line x1="233.37" x2="236.56" y1="513.80" y2="513.80" stroke="#2a2a2a" stroke-width="0.7"/>
<circle cx="234.90" cy="510.50" r="0.8" fill="#1a1a1a"/>
<circle cx="233.50" cy="524.50" r="0.8" fill="#1a1a1a"/>
<circle cx="235.50" cy="528.00" r="0.8" fill="#1a1a1a"/>
<rect x="240.94" y="497.20" width="7.45" height="71.20" fill="#fb8072" stroke="#2f2f2f" stroke-width="0.85"/>
<line x1="244.67" x2="244.67" y1="497.20" y2="487.70" stroke="#2a2a2a" stroke-width="0.7"/>
<line x1="243.07" x2="246.27" y1="487.70" y2="487.70" stroke="#2a2a2a" stroke-width="0.7"/>
<circle cx="244.50" cy="488.30" r="0.8" fill="#1a1a1a"/>
<circle cx="244.00" cy="491.60" r="0.8" fill="#1a1a1a"/>
<circle cx="245.50" cy="512.10" r="0.8" fill="#1a1a1a"/>
<line x1="282.32" x2="282.32" y1="568.4" y2="571.0" stroke="#888" stroke-width="0.8"/>
<text x="283.32" y="582.00" font-size="8.4" text-anchor="middle" fill="#2b2b2b" >pit</text>
<rect x="272.12" y="555.40" width="2.05" height="13.00" fill="#b4b4b4"/>
<rect x="291.02" y="556.80" width="2.25" height="11.60" fill="#b4b4b4"/>
<rect x="264.67" y="555.40" width="7.45" height="13.00" fill="#8dd3c7" stroke="#2f2f2f" stroke-width="0.85"/>
<circle cx="267.70" cy="554.80" r="0.8" fill="#1a1a1a"/>
<circle cx="269.60" cy="554.90" r="0.8" fill="#1a1a1a"/>
<circle cx="267.40" cy="557.30" r="0.8" fill="#1a1a1a"/>
<rect x="274.17" y="551.60" width="7.45" height="16.80" fill="#ffffb3" stroke="#2f2f2f" stroke-width="0.85"/>
<line x1="277.90" x2="277.90" y1="551.60" y2="550.40" stroke="#2a2a2a" stroke-width="0.7"/>
<line x1="276.30" x2="279.50" y1="550.40" y2="550.40" stroke="#2a2a2a" stroke-width="0.7"/>
<circle cx="275.10" cy="549.60" r="0.8" fill="#1a1a1a"/>
<circle cx="278.00" cy="550.60" r="0.8" fill="#1a1a1a"/>
<circle cx="275.10" cy="553.80" r="0.8" fill="#1a1a1a"/>
<circle cx="280.60" cy="551.60" r="0.8" fill="#1a1a1a"/>
<rect x="283.57" y="556.80" width="7.45" height="11.60" fill="#bebada" stroke="#2f2f2f" stroke-width="0.85"/>
<line x1="287.30" x2="287.30" y1="556.80" y2="555.60" stroke="#2a2a2a" stroke-width="0.7"/>
<line x1="285.69" x2="288.90" y1="555.60" y2="555.60" stroke="#2a2a2a" stroke-width="0.7"/>
<circle cx="283.80" cy="555.40" r="0.8" fill="#1a1a1a"/>
<circle cx="286.30" cy="555.40" r="0.8" fill="#1a1a1a"/>
<circle cx="286.70" cy="560.60" r="0.8" fill="#1a1a1a"/>
<rect x="293.27" y="556.40" width="7.45" height="12.00" fill="#fb8072" stroke="#2f2f2f" stroke-width="0.85"/>
<circle cx="295.60" cy="555.10" r="0.8" fill="#1a1a1a"/>
<circle cx="298.50" cy="554.60" r="0.8" fill="#1a1a1a"/>
<circle cx="296.60" cy="559.30" r="0.8" fill="#1a1a1a"/>
<line x1="334.65" x2="334.65" y1="568.4" y2="571.0" stroke="#888" stroke-width="0.8"/>
<text x="335.65" y="582.00" font-size="8.4" text-anchor="middle" fill="#2b2b2b" >pstS</text>
<rect x="324.45" y="526.20" width="2.05" height="42.20" fill="#b4b4b4"/>
<rect x="343.35" y="528.00" width="2.25" height="40.40" fill="#b4b4b4"/>
<rect x="317.00" y="526.20" width="7.45" height="42.20" fill="#8dd3c7" stroke="#2f2f2f" stroke-width="0.85"/>
<line x1="320.73" x2="320.73" y1="526.20" y2="517.20" stroke="#2a2a2a" stroke-width="0.7"/>
<line x1="319.12" x2="322.33" y1="517.20" y2="517.20" stroke="#2a2a2a" stroke-width="0.7"/>
<circle cx="320.40" cy="517.50" r="0.8" fill="#1a1a1a"/>
<circle cx="323.70" cy="524.40" r="0.8" fill="#1a1a1a"/>
<circle cx="321.70" cy="535.90" r="0.8" fill="#1a1a1a"/>
<rect x="326.50" y="496.60" width="7.45" height="71.80" fill="#ffffb3" stroke="#2f2f2f" stroke-width="0.85"/>
<line x1="330.23" x2="330.23" y1="496.60" y2="490.60" stroke="#2a2a2a" stroke-width="0.7"/>
<line x1="328.62" x2="331.83" y1="490.60" y2="490.60" stroke="#2a2a2a" stroke-width="0.7"/>
<circle cx="330.60" cy="490.60" r="0.8" fill="#1a1a1a"/>
<circle cx="328.90" cy="495.20" r="0.8" fill="#1a1a1a"/>
<circle cx="329.40" cy="503.40" r="0.8" fill="#1a1a1a"/>
<rect x="335.90" y="528.00" width="7.45" height="40.40" fill="#bebada" stroke="#2f2f2f" stroke-width="0.85"/>
<line x1="339.62" x2="339.62" y1="528.00" y2="521.80" stroke="#2a2a2a" stroke-width="0.7"/>
<line x1="338.02" x2="341.23" y1="521.80" y2="521.80" stroke="#2a2a2a" stroke-width="0.7"/>
<circle cx="339.40" cy="521.80" r="0.8" fill="#1a1a1a"/>
<circle cx="340.40" cy="525.40" r="0.8" fill="#1a1a1a"/>
<circle cx="338.80" cy="537.00" r="0.8" fill="#1a1a1a"/>
<rect x="345.60" y="510.10" width="7.45" height="58.30" fill="#fb8072" stroke="#2f2f2f" stroke-width="0.85"/>
<line x1="349.32" x2="349.32" y1="510.10" y2="503.90" stroke="#2a2a2a" stroke-width="0.7"/>
<line x1="347.72" x2="350.93" y1="503.90" y2="503.90" stroke="#2a2a2a" stroke-width="0.7"/>
<circle cx="348.80" cy="503.40" r="0.8" fill="#1a1a1a"/>
<circle cx="350.90" cy="505.30" r="0.8" fill="#1a1a1a"/>
<circle cx="350.40" cy="513.10" r="0.8" fill="#1a1a1a"/>
<circle cx="349.30" cy="519.60" r="0.8" fill="#1a1a1a"/>
<line x1="386.98" x2="386.98" y1="568.4" y2="571.0" stroke="#888" stroke-width="0.8"/>
<text x="387.98" y="582.00" font-size="8.4" text-anchor="middle" fill="#2b2b2b" >pstC</text>
<rect x="376.78" y="542.20" width="2.05" height="26.20" fill="#b4b4b4"/>
<rect x="395.68" y="541.50" width="2.25" height="26.90" fill="#b4b4b4"/>
<rect x="369.33" y="542.20" width="7.45" height="26.20" fill="#8dd3c7" stroke="#2f2f2f" stroke-width="0.85"/>
<line x1="373.06" x2="373.06" y1="542.20" y2="537.10" stroke="#2a2a2a" stroke-width="0.7"/>
<line x1="371.46" x2="374.66" y1="537.10" y2="537.10" stroke="#2a2a2a" stroke-width="0.7"/>
<circle cx="372.60" cy="537.10" r="0.8" fill="#1a1a1a"/>
<circle cx="374.90" cy="542.80" r="0.8" fill="#1a1a1a"/>
<circle cx="369.80" cy="548.50" r="0.8" fill="#1a1a1a"/>
<rect x="378.83" y="525.30" width="7.45" height="43.10" fill="#ffffb3" stroke="#2f2f2f" stroke-width="0.85"/>
<line x1="382.56" x2="382.56" y1="525.30" y2="522.80" stroke="#2a2a2a" stroke-width="0.7"/>
<line x1="380.96" x2="384.16" y1="522.80" y2="522.80" stroke="#2a2a2a" stroke-width="0.7"/>
<circle cx="380.00" cy="521.90" r="0.8" fill="#1a1a1a"/>
<circle cx="383.00" cy="527.90" r="0.8" fill="#1a1a1a"/>
<circle cx="381.30" cy="525.70" r="0.8" fill="#1a1a1a"/>
<rect x="388.23" y="541.50" width="7.45" height="26.90" fill="#bebada" stroke="#2f2f2f" stroke-width="0.85"/>
<line x1="391.96" x2="391.96" y1="541.50" y2="538.10" stroke="#2a2a2a" stroke-width="0.7"/>
<line x1="390.36" x2="393.56" y1="538.10" y2="538.10" stroke="#2a2a2a" stroke-width="0.7"/>
<circle cx="393.20" cy="537.70" r="0.8" fill="#1a1a1a"/>
<circle cx="390.70" cy="544.50" r="0.8" fill="#1a1a1a"/>
<circle cx="388.60" cy="541.50" r="0.8" fill="#1a1a1a"/>
<rect x="397.93" y="532.30" width="7.45" height="36.10" fill="#fb8072" stroke="#2f2f2f" stroke-width="0.85"/>
<line x1="401.66" x2="401.66" y1="532.30" y2="528.30" stroke="#2a2a2a" stroke-width="0.7"/>
<line x1="400.06" x2="403.26" y1="528.30" y2="528.30" stroke="#2a2a2a" stroke-width="0.7"/>
<circle cx="398.30" cy="528.30" r="0.8" fill="#1a1a1a"/>
<circle cx="403.90" cy="530.40" r="0.8" fill="#1a1a1a"/>
<circle cx="400.00" cy="537.70" r="0.8" fill="#1a1a1a"/>
<line x1="439.31" x2="439.31" y1="568.4" y2="571.0" stroke="#888" stroke-width="0.8"/>
<text x="440.31" y="582.00" font-size="8.4" text-anchor="middle" fill="#2b2b2b" >phoB</text>
<rect x="429.11" y="554.80" width="2.05" height="13.60" fill="#b4b4b4"/>
<rect x="448.01" y="556.20" width="2.25" height="12.20" fill="#b4b4b4"/>
<rect x="421.66" y="554.80" width="7.45" height="13.60" fill="#8dd3c7" stroke="#2f2f2f" stroke-width="0.85"/>
<circle cx="424.50" cy="554.30" r="0.8" fill="#1a1a1a"/>
<circle cx="425.50" cy="553.60" r="0.8" fill="#1a1a1a"/>
<circle cx="423.80" cy="555.00" r="0.8" fill="#1a1a1a"/>
<rect x="431.16" y="539.60" width="7.45" height="28.80" fill="#ffffb3" stroke="#2f2f2f" stroke-width="0.85"/>
<line x1="434.89" x2="434.89" y1="539.60" y2="536.20" stroke="#2a2a2a" stroke-width="0.7"/>
<line x1="433.29" x2="436.49" y1="536.20" y2="536.20" stroke="#2a2a2a" stroke-width="0.7"/>
<circle cx="435.40" cy="535.80" r="0.8" fill="#1a1a1a"/>
<circle cx="434.30" cy="542.60" r="0.8" fill="#1a1a1a"/>
<circle cx="436.40" cy="541.70" r="0.8" fill="#1a1a1a"/>
<rect x="440.56" y="556.20" width="7.45" height="12.20" fill="#bebada" stroke="#2f2f2f" stroke-width="0.85"/>
<line x1="444.29" x2="444.29" y1="556.20" y2="555.00" stroke="#2a2a2a" stroke-width="0.7"/>
<line x1="442.69" x2="445.89" y1="555.00" y2="555.00" stroke="#2a2a2a" stroke-width="0.7"/>
<circle cx="441.80" cy="555.00" r="0.8" fill="#1a1a1a"/>
<circle cx="444.90" cy="555.70" r="0.8" fill="#1a1a1a"/>
<circle cx="442.20" cy="557.00" r="0.8" fill="#1a1a1a"/>
<rect x="450.26" y="545.40" width="7.45" height="23.00" fill="#fb8072" stroke="#2f2f2f" stroke-width="0.85"/>
<line x1="453.99" x2="453.99" y1="545.40" y2="543.40" stroke="#2a2a2a" stroke-width="0.7"/>
<line x1="452.38" x2="455.59" y1="543.40" y2="543.40" stroke="#2a2a2a" stroke-width="0.7"/>
<circle cx="452.00" cy="541.70" r="0.8" fill="#1a1a1a"/>
<circle cx="454.10" cy="543.10" r="0.8" fill="#1a1a1a"/>
<circle cx="451.40" cy="547.50" r="0.8" fill="#1a1a1a"/>
<line x1="491.64" x2="491.64" y1="568.4" y2="571.0" stroke="#888" stroke-width="0.8"/>
<text x="492.64" y="582.00" font-size="8.4" text-anchor="middle" fill="#2b2b2b" >phoQ</text>
<rect x="481.44" y="559.30" width="2.05" height="9.10" fill="#b4b4b4"/>
<rect x="500.34" y="560.20" width="2.25" height="8.20" fill="#b4b4b4"/>
<rect x="473.99" y="559.30" width="7.45" height="9.10" fill="#8dd3c7" stroke="#2f2f2f" stroke-width="0.85"/>
<circle cx="474.50" cy="557.70" r="0.8" fill="#1a1a1a"/>
<circle cx="477.10" cy="557.30" r="0.8" fill="#1a1a1a"/>
<circle cx="474.50" cy="561.80" r="0.8" fill="#1a1a1a"/>
<rect x="483.49" y="550.30" width="7.45" height="18.10" fill="#ffffb3" stroke="#2f2f2f" stroke-width="0.85"/>
<line x1="487.22" x2="487.22" y1="550.30" y2="548.30" stroke="#2a2a2a" stroke-width="0.7"/>
<line x1="485.62" x2="488.82" y1="548.30" y2="548.30" stroke="#2a2a2a" stroke-width="0.7"/>
<circle cx="483.80" cy="548.00" r="0.8" fill="#1a1a1a"/>
<circle cx="485.40" cy="551.90" r="0.8" fill="#1a1a1a"/>
<circle cx="488.60" cy="552.20" r="0.8" fill="#1a1a1a"/>
<circle cx="486.70" cy="549.60" r="0.8" fill="#1a1a1a"/>
<rect x="492.89" y="560.20" width="7.45" height="8.20" fill="#bebada" stroke="#2f2f2f" stroke-width="0.85"/>
<circle cx="494.40" cy="558.00" r="0.8" fill="#1a1a1a"/>
<circle cx="497.00" cy="558.60" r="0.8" fill="#1a1a1a"/>
<circle cx="494.70" cy="562.20" r="0.8" fill="#1a1a1a"/>
<circle cx="496.30" cy="562.20" r="0.8" fill="#1a1a1a"/>
<rect x="502.59" y="554.50" width="7.45" height="13.90" fill="#fb8072" stroke="#2f2f2f" stroke-width="0.85"/>
<line x1="506.31" x2="506.31" y1="554.50" y2="551.90" stroke="#2a2a2a" stroke-width="0.7"/>
<line x1="504.71" x2="507.92" y1="551.90" y2="551.90" stroke="#2a2a2a" stroke-width="0.7"/>
<circle cx="507.30" cy="551.60" r="0.8" fill="#1a1a1a"/>
<circle cx="503.40" cy="557.30" r="0.8" fill="#1a1a1a"/>
<circle cx="508.50" cy="555.40" r="0.8" fill="#1a1a1a"/>
<line x1="543.97" x2="543.97" y1="568.4" y2="571.0" stroke="#888" stroke-width="0.8"/>
<text x="544.97" y="582.00" font-size="8.4" text-anchor="middle" fill="#2b2b2b" >phoR</text>
<rect x="533.77" y="555.00" width="2.05" height="13.40" fill="#b4b4b4"/>
<rect x="552.67" y="556.30" width="2.25" height="12.10" fill="#b4b4b4"/>
<rect x="526.32" y="555.00" width="7.45" height="13.40" fill="#8dd3c7" stroke="#2f2f2f" stroke-width="0.85"/>
<circle cx="526.50" cy="555.70" r="0.8" fill="#1a1a1a"/>
<circle cx="530.00" cy="554.70" r="0.8" fill="#1a1a1a"/>
<circle cx="532.90" cy="555.00" r="0.8" fill="#1a1a1a"/>
<rect x="535.82" y="542.20" width="7.45" height="26.20" fill="#ffffb3" stroke="#2f2f2f" stroke-width="0.85"/>
<line x1="539.54" x2="539.54" y1="542.20" y2="540.60" stroke="#2a2a2a" stroke-width="0.7"/>
<line x1="537.94" x2="541.14" y1="540.60" y2="540.60" stroke="#2a2a2a" stroke-width="0.7"/>
<circle cx="538.70" cy="539.60" r="0.8" fill="#1a1a1a"/>
<circle cx="537.70" cy="543.80" r="0.8" fill="#1a1a1a"/>
<circle cx="539.30" cy="545.70" r="0.8" fill="#1a1a1a"/>
<rect x="545.22" y="556.30" width="7.45" height="12.10" fill="#bebada" stroke="#2f2f2f" stroke-width="0.85"/>
<line x1="548.95" x2="548.95" y1="556.30" y2="554.40" stroke="#2a2a2a" stroke-width="0.7"/>
<line x1="547.35" x2="550.55" y1="554.40" y2="554.40" stroke="#2a2a2a" stroke-width="0.7"/>
<circle cx="549.60" cy="554.40" r="0.8" fill="#1a1a1a"/>
<circle cx="548.70" cy="557.00" r="0.8" fill="#1a1a1a"/>
<circle cx="551.90" cy="557.30" r="0.8" fill="#1a1a1a"/>
<rect x="554.92" y="548.30" width="7.45" height="20.10" fill="#fb8072" stroke="#2f2f2f" stroke-width="0.85"/>
<line x1="558.64" x2="558.64" y1="548.30" y2="545.40" stroke="#2a2a2a" stroke-width="0.7"/>
<line x1="557.04" x2="560.25" y1="545.40" y2="545.40" stroke="#2a2a2a" stroke-width="0.7"/>
<circle cx="559.30" cy="545.10" r="0.8" fill="#1a1a1a"/>
<circle cx="562.10" cy="547.00" r="0.8" fill="#1a1a1a"/>
<circle cx="556.40" cy="551.80" r="0.8" fill="#1a1a1a"/>
<circle cx="558.90" cy="549.30" r="0.8" fill="#1a1a1a"/>
<line x1="596.30" x2="596.30" y1="568.4" y2="571.0" stroke="#888" stroke-width="0.8"/>
<text x="597.30" y="582.00" font-size="8.4" text-anchor="middle" fill="#2b2b2b" >phoU</text>
<rect x="586.10" y="525.20" width="2.05" height="43.20" fill="#b4b4b4"/>
<rect x="605.00" y="528.40" width="2.25" height="40.00" fill="#b4b4b4"/>
<rect x="578.65" y="525.20" width="7.45" height="43.20" fill="#8dd3c7" stroke="#2f2f2f" stroke-width="0.85"/>
<line x1="582.37" x2="582.37" y1="525.20" y2="523.10" stroke="#2a2a2a" stroke-width="0.7"/>
<line x1="580.77" x2="583.97" y1="523.10" y2="523.10" stroke="#2a2a2a" stroke-width="0.7"/>
<circle cx="578.80" cy="523.90" r="0.8" fill="#1a1a1a"/>
<circle cx="582.20" cy="522.20" r="0.8" fill="#1a1a1a"/>
<circle cx="585.60" cy="525.20" r="0.8" fill="#1a1a1a"/>
<circle cx="582.70" cy="529.90" r="0.8" fill="#1a1a1a"/>
<rect x="588.15" y="515.30" width="7.45" height="53.10" fill="#ffffb3" stroke="#2f2f2f" stroke-width="0.85"/>
<line x1="591.87" x2="591.87" y1="515.30" y2="506.50" stroke="#2a2a2a" stroke-width="0.7"/>
<line x1="590.27" x2="593.47" y1="506.50" y2="506.50" stroke="#2a2a2a" stroke-width="0.7"/>
<circle cx="592.90" cy="504.20" r="0.8" fill="#1a1a1a"/>
<circle cx="595.00" cy="512.40" r="0.8" fill="#1a1a1a"/>
<circle cx="589.00" cy="520.10" r="0.8" fill="#1a1a1a"/>
<circle cx="591.60" cy="523.90" r="0.8" fill="#1a1a1a"/>
<rect x="597.55" y="526.50" width="7.45" height="41.90" fill="#bebada" stroke="#2f2f2f" stroke-width="0.85"/>
<line x1="601.27" x2="601.27" y1="526.50" y2="525.20" stroke="#2a2a2a" stroke-width="0.7"/>
<line x1="599.67" x2="602.88" y1="525.20" y2="525.20" stroke="#2a2a2a" stroke-width="0.7"/>
<circle cx="600.50" cy="525.60" r="0.8" fill="#1a1a1a"/>
<circle cx="603.10" cy="525.20" r="0.8" fill="#1a1a1a"/>
<circle cx="601.40" cy="529.00" r="0.8" fill="#1a1a1a"/>
<rect x="607.25" y="528.40" width="7.45" height="40.00" fill="#fb8072" stroke="#2f2f2f" stroke-width="0.85"/>
<line x1="610.97" x2="610.97" y1="528.40" y2="520.50" stroke="#2a2a2a" stroke-width="0.7"/>
<line x1="609.37" x2="612.57" y1="520.50" y2="520.50" stroke="#2a2a2a" stroke-width="0.7"/>
<circle cx="611.60" cy="517.80" r="0.8" fill="#1a1a1a"/>
<circle cx="609.00" cy="533.70" r="0.8" fill="#1a1a1a"/>
<circle cx="612.00" cy="534.60" r="0.8" fill="#1a1a1a"/>
<line x1="45.2" x2="638.5" y1="568.4" y2="568.4" stroke="#2e2e2e" stroke-width="1.1"/>
<line x1="57.0" x2="72.0" y1="499.3" y2="499.3" stroke="#858585" stroke-width="1"/>
<text x="65.10" y="499.80" font-size="9.5" text-anchor="middle" fill="#1a1a1a" letter-spacing="0.1">***</text>
<line x1="66.1" x2="90.7" y1="485.1" y2="485.1" stroke="#ababab" stroke-width="1"/>
<text x="79.00" y="485.60" font-size="9.5" text-anchor="middle" fill="#1a1a1a" letter-spacing="0.1">***</text>
<line x1="76.0" x2="91.2" y1="521.3" y2="521.3" stroke="#858585" stroke-width="1"/>
<text x="84.20" y="521.80" font-size="9.5" text-anchor="middle" fill="#1a1a1a" letter-spacing="0.1">*</text>
<line x1="107.0" x2="122.3" y1="544.2" y2="544.2" stroke="#858585" stroke-width="1"/>
<text x="115.25" y="544.70" font-size="9.5" text-anchor="middle" fill="#1a1a1a" letter-spacing="0.1">***</text>
<line x1="118.3" x2="142.6" y1="533.6" y2="533.6" stroke="#ababab" stroke-width="1"/>
<text x="131.05" y="534.10" font-size="9.5" text-anchor="middle" fill="#1a1a1a" letter-spacing="0.1">*</text>
<line x1="125.2" x2="140.7" y1="549.5" y2="549.5" stroke="#858585" stroke-width="1"/>
<text x="133.55" y="550.00" font-size="9.5" text-anchor="middle" fill="#1a1a1a" letter-spacing="0.1">***</text>
<line x1="161.2" x2="176.7" y1="542.4" y2="542.4" stroke="#858585" stroke-width="1"/>
<text x="169.55" y="542.90" font-size="9.5" text-anchor="middle" fill="#1a1a1a" letter-spacing="0.1">***</text>
<line x1="171.2" x2="194.7" y1="531.8" y2="531.8" stroke="#ababab" stroke-width="1"/>
<text x="183.55" y="532.30" font-size="9.5" text-anchor="middle" fill="#1a1a1a" letter-spacing="0.1">***</text>
<line x1="180.7" x2="195.8" y1="547.3" y2="547.3" stroke="#858585" stroke-width="1"/>
<text x="188.85" y="547.80" font-size="9.5" text-anchor="middle" fill="#1a1a1a" letter-spacing="0.1">***</text>
<line x1="214.3" x2="229.2" y1="460.8" y2="460.8" stroke="#858585" stroke-width="1"/>
<text x="222.35" y="461.30" font-size="9.5" text-anchor="middle" fill="#1a1a1a" letter-spacing="0.1">***</text>
<line x1="223.7" x2="249.9" y1="450.4" y2="450.4" stroke="#ababab" stroke-width="1"/>
<text x="237.40" y="450.90" font-size="9.5" text-anchor="middle" fill="#1a1a1a" letter-spacing="0.1">**</text>
<line x1="234.2" x2="249.0" y1="468.3" y2="468.3" stroke="#858585" stroke-width="1"/>
<text x="242.20" y="468.80" font-size="9.5" text-anchor="middle" fill="#1a1a1a" letter-spacing="0.1">*</text>
<line x1="264.5" x2="279.4" y1="535.3" y2="535.3" stroke="#858585" stroke-width="1"/>
<text x="272.55" y="535.80" font-size="9.5" text-anchor="middle" fill="#1a1a1a" letter-spacing="0.1">***</text>
<line x1="275.5" x2="300.3" y1="523.2" y2="523.2" stroke="#ababab" stroke-width="1"/>
<text x="288.50" y="523.70" font-size="9.5" text-anchor="middle" fill="#1a1a1a" letter-spacing="0.1">***</text>
<line x1="284.9" x2="300.3" y1="543.6" y2="543.6" stroke="#ababab" stroke-width="1"/>
<text x="293.10" y="540.90" font-size="8.8" text-anchor="middle" fill="#333" >n.s.</text>
<line x1="317.1" x2="332.3" y1="475.2" y2="475.2" stroke="#858585" stroke-width="1"/>
<text x="325.30" y="475.70" font-size="9.5" text-anchor="middle" fill="#1a1a1a" letter-spacing="0.1">***</text>
<line x1="328.1" x2="352.4" y1="464.2" y2="464.2" stroke="#ababab" stroke-width="1"/>
<text x="340.85" y="464.70" font-size="9.5" text-anchor="middle" fill="#1a1a1a" letter-spacing="0.1">**</text>
<line x1="339.4" x2="354.6" y1="482.3" y2="482.3" stroke="#ababab" stroke-width="1"/>
<text x="347.50" y="479.60" font-size="8.8" text-anchor="middle" fill="#333" >n.s.</text>
<line x1="369.8" x2="385.2" y1="504.4" y2="504.4" stroke="#858585" stroke-width="1"/>
<text x="378.10" y="504.90" font-size="9.5" text-anchor="middle" fill="#1a1a1a" letter-spacing="0.1">***</text>
<line x1="380.0" x2="404.8" y1="492.8" y2="492.8" stroke="#ababab" stroke-width="1"/>
<text x="393.00" y="493.30" font-size="9.5" text-anchor="middle" fill="#1a1a1a" letter-spacing="0.1">**</text>
<line x1="389.9" x2="405.6" y1="511.8" y2="511.8" stroke="#ababab" stroke-width="1"/>
<text x="398.25" y="509.10" font-size="8.8" text-anchor="middle" fill="#333" >n.s.</text>
<line x1="422.9" x2="438.1" y1="516.5" y2="516.5" stroke="#858585" stroke-width="1"/>
<text x="431.10" y="517.00" font-size="9.5" text-anchor="middle" fill="#1a1a1a" letter-spacing="0.1">***</text>
<line x1="432.8" x2="456.3" y1="505.0" y2="505.0" stroke="#ababab" stroke-width="1"/>
<text x="445.15" y="505.50" font-size="9.5" text-anchor="middle" fill="#1a1a1a" letter-spacing="0.1">***</text>
<line x1="441.7" x2="456.8" y1="525.0" y2="525.0" stroke="#858585" stroke-width="1"/>
<text x="449.85" y="525.50" font-size="9.5" text-anchor="middle" fill="#1a1a1a" letter-spacing="0.1">***</text>
<line x1="474.5" x2="489.6" y1="530.0" y2="530.0" stroke="#858585" stroke-width="1"/>
<text x="482.65" y="530.50" font-size="9.5" text-anchor="middle" fill="#1a1a1a" letter-spacing="0.1">***</text>
<line x1="484.4" x2="508.9" y1="519.8" y2="519.8" stroke="#ababab" stroke-width="1"/>
<text x="497.25" y="520.30" font-size="9.5" text-anchor="middle" fill="#1a1a1a" letter-spacing="0.1">**</text>
<line x1="494.0" x2="509.2" y1="538.0" y2="538.0" stroke="#ababab" stroke-width="1"/>
<text x="502.10" y="535.30" font-size="8.8" text-anchor="middle" fill="#333" >n.s.</text>
<line x1="527.6" x2="542.8" y1="520.2" y2="520.2" stroke="#858585" stroke-width="1"/>
<text x="535.80" y="520.70" font-size="9.5" text-anchor="middle" fill="#1a1a1a" letter-spacing="0.1">***</text>
<line x1="537.3" x2="561.8" y1="509.2" y2="509.2" stroke="#ababab" stroke-width="1"/>
<text x="550.15" y="509.70" font-size="9.5" text-anchor="middle" fill="#1a1a1a" letter-spacing="0.1">***</text>
<line x1="547.2" x2="562.4" y1="527.7" y2="527.7" stroke="#858585" stroke-width="1"/>
<text x="555.40" y="528.20" font-size="9.5" text-anchor="middle" fill="#1a1a1a" letter-spacing="0.1">***</text>
<line x1="579.2" x2="594.7" y1="491.8" y2="491.8" stroke="#858585" stroke-width="1"/>
<text x="587.55" y="492.30" font-size="9.5" text-anchor="middle" fill="#1a1a1a" letter-spacing="0.1">**</text>
<line x1="589.2" x2="612.9" y1="480.2" y2="480.2" stroke="#ababab" stroke-width="1"/>
<text x="601.65" y="480.70" font-size="9.5" text-anchor="middle" fill="#1a1a1a" letter-spacing="0.1">***</text>
<line x1="599.4" x2="614.6" y1="503.4" y2="503.4" stroke="#ababab" stroke-width="1"/>
<text x="607.50" y="500.70" font-size="8.8" text-anchor="middle" fill="#333" >n.s.</text>
<rect x="433.3" y="448.4" width="9.5" height="8.1" fill="#8dd3c7" stroke="#3a3a3a" stroke-width="0.8"/><text x="446.80" y="456.00" font-size="8.2" text-anchor="start" fill="#1a1a1a" >P</text><text x="452.30" y="450.40" font-size="5.4" text-anchor="start" fill="#333" letter-spacing="0.25">Low</text><text x="464.10" y="456.00" font-size="8.2" text-anchor="start" fill="#1a1a1a" >RI</text><text x="478.80" y="456.00" font-size="8.2" text-anchor="start" fill="#1a1a1a" >RA</text><line x1="491.10" x2="494.10" y1="449.70" y2="449.70" stroke="#1a1a1a" stroke-width="0.8"/><line x1="492.60" x2="492.60" y1="448.20" y2="451.20" stroke="#1a1a1a" stroke-width="0.8"/>
<rect x="433.3" y="463.4" width="9.5" height="8.1" fill="#bebada" stroke="#3a3a3a" stroke-width="0.8"/><text x="446.80" y="471.00" font-size="8.2" text-anchor="start" fill="#1a1a1a" >P</text><text x="452.30" y="465.40" font-size="5.4" text-anchor="start" fill="#333" letter-spacing="0.25">High</text><text x="464.60" y="471.00" font-size="8.2" text-anchor="start" fill="#1a1a1a" >RI</text><text x="478.80" y="471.00" font-size="8.2" text-anchor="start" fill="#1a1a1a" >RA</text><line x1="491.10" x2="494.10" y1="464.70" y2="464.70" stroke="#1a1a1a" stroke-width="0.8"/><line x1="492.60" x2="492.60" y1="463.20" y2="466.20" stroke="#1a1a1a" stroke-width="0.8"/>
<rect x="508.3" y="448.4" width="9.5" height="8.1" fill="#ffffb3" stroke="#3a3a3a" stroke-width="0.8"/><text x="522.70" y="456.00" font-size="8.2" text-anchor="start" fill="#1a1a1a" >P</text><text x="528.50" y="450.40" font-size="5.4" text-anchor="start" fill="#333" letter-spacing="0.25">Low</text><text x="539.60" y="456.00" font-size="8.2" text-anchor="start" fill="#1a1a1a" >RI</text><line x1="549.00" x2="552.00" y1="449.70" y2="449.70" stroke="#1a1a1a" stroke-width="0.8"/><line x1="550.50" x2="550.50" y1="448.20" y2="451.20" stroke="#1a1a1a" stroke-width="0.8"/><text x="554.80" y="456.00" font-size="8.2" text-anchor="start" fill="#1a1a1a" >RA</text><line x1="566.80" x2="569.80" y1="449.70" y2="449.70" stroke="#1a1a1a" stroke-width="0.8"/><line x1="568.30" x2="568.30" y1="448.20" y2="451.20" stroke="#1a1a1a" stroke-width="0.8"/>
<rect x="508.3" y="463.4" width="9.5" height="8.1" fill="#fb8072" stroke="#3a3a3a" stroke-width="0.8"/><text x="522.70" y="471.00" font-size="8.2" text-anchor="start" fill="#1a1a1a" >P</text><text x="528.50" y="465.40" font-size="5.4" text-anchor="start" fill="#333" letter-spacing="0.25">High</text><text x="539.60" y="471.00" font-size="8.2" text-anchor="start" fill="#1a1a1a" >RI</text><line x1="549.00" x2="552.00" y1="464.70" y2="464.70" stroke="#1a1a1a" stroke-width="0.8"/><line x1="550.50" x2="550.50" y1="463.20" y2="466.20" stroke="#1a1a1a" stroke-width="0.8"/><text x="554.80" y="471.00" font-size="8.2" text-anchor="start" fill="#1a1a1a" >RA</text><line x1="566.80" x2="569.80" y1="464.70" y2="464.70" stroke="#1a1a1a" stroke-width="0.8"/><line x1="568.30" x2="568.30" y1="463.20" y2="466.20" stroke="#1a1a1a" stroke-width="0.8"/></svg>
</body></html>
